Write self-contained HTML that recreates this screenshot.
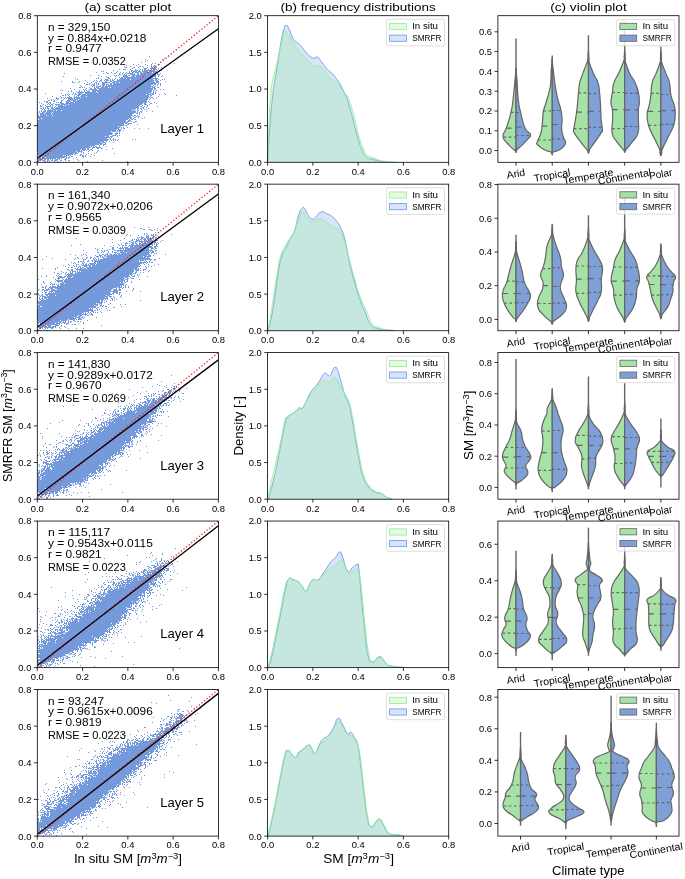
<!DOCTYPE html>
<html><head><meta charset="utf-8"><style>
html,body{margin:0;padding:0;background:#fff;}
svg{display:block;font-family:"Liberation Sans", sans-serif;will-change:transform;}
</style></head><body>
<svg width="685" height="879" viewBox="0 0 685 879">
<rect width="685" height="879" fill="#fff"/>
<clipPath id="clip00"><rect x="37.30" y="15.70" width="181.10" height="146.60"/></clipPath><g clip-path="url(#clip00)"><polygon points="35.0,123.5 35.0,150.9 38.1,150.8 51.8,149.2 62.6,147.1 73.4,143.8 84.7,139.2 85.4,139.0 90.6,137.3 97.3,133.5 105.9,126.9 113.9,120.1 121.7,113.4 128.1,106.9 133.7,100.3 139.2,93.7 142.8,88.3 145.0,81.3 145.0,81.0 139.4,82.4 128.3,85.8 117.1,90.3 105.4,95.0 104.4,95.3 97.4,97.3 86.7,101.6 75.4,107.3 75.3,107.4 51.9,119.0 51.2,119.3 42.5,122.8 41.6,123.1 40.7,123.3 39.8,123.5 38.8,123.5 35.0,123.5" fill="#759adc"/><path d="M149 56h1v1h-1zM164 58h1v1h-1zM145 59h1v1h-1zM162 59h1v1h-1zM147 60h1v1h-1zM145 61h1v1h-1zM141 62h1v1h-1zM152 63h1v1h-1zM155 63h1v1h-1zM174 63h1v1h-1zM133 64h1v1h-1zM138 64h1v1h-1zM145 64h1v1h-1zM151 64h1v1h-1zM159 64h1v1h-1zM126 65h1v1h-1zM136 65h1v1h-1zM147 65h1v1h-1zM151 65h1v1h-1zM154 65h1v1h-1zM158 65h1v1h-1zM124 66h1v1h-1zM130 66h1v1h-1zM139 66h2v1h-2zM142 66h1v1h-1zM151 66h1v1h-1zM153 66h2v1h-2zM164 66h1v1h-1zM125 67h2v1h-2zM133 67h2v1h-2zM138 67h1v1h-1zM143 67h1v1h-1zM147 67h1v1h-1zM151 67h2v1h-2zM154 67h3v1h-3zM161 67h1v1h-1zM132 68h1v1h-1zM144 68h3v1h-3zM150 68h6v1h-6zM158 68h1v1h-1zM119 69h1v1h-1zM123 69h3v1h-3zM130 69h1v1h-1zM135 69h1v1h-1zM140 69h1v1h-1zM142 69h1v1h-1zM144 69h2v1h-2zM148 69h1v1h-1zM151 69h1v1h-1zM153 69h4v1h-4zM113 70h1v1h-1zM131 70h2v1h-2zM135 70h3v1h-3zM139 70h1v1h-1zM142 70h1v1h-1zM144 70h11v1h-11zM157 70h1v1h-1zM160 70h2v1h-2zM101 71h1v1h-1zM103 71h1v1h-1zM117 71h1v1h-1zM129 71h1v1h-1zM131 71h1v1h-1zM133 71h4v1h-4zM138 71h3v1h-3zM142 71h6v1h-6zM149 71h8v1h-8zM158 71h2v1h-2zM96 72h1v1h-1zM106 72h1v1h-1zM111 72h1v1h-1zM116 72h1v1h-1zM120 72h1v1h-1zM123 72h1v1h-1zM126 72h1v1h-1zM129 72h1v1h-1zM132 72h2v1h-2zM135 72h4v1h-4zM140 72h2v1h-2zM143 72h9v1h-9zM153 72h5v1h-5zM64 73h1v1h-1zM103 73h1v1h-1zM107 73h2v1h-2zM114 73h2v1h-2zM119 73h1v1h-1zM122 73h1v1h-1zM125 73h1v1h-1zM127 73h6v1h-6zM134 73h1v1h-1zM137 73h2v1h-2zM140 73h16v1h-16zM157 73h1v1h-1zM160 73h1v1h-1zM119 74h2v1h-2zM122 74h1v1h-1zM124 74h1v1h-1zM126 74h1v1h-1zM130 74h5v1h-5zM137 74h2v1h-2zM140 74h6v1h-6zM147 74h9v1h-9zM157 74h3v1h-3zM90 75h1v1h-1zM98 75h1v1h-1zM114 75h1v1h-1zM116 75h1v1h-1zM118 75h1v1h-1zM123 75h4v1h-4zM128 75h2v1h-2zM132 75h24v1h-24zM158 75h1v1h-1zM162 75h1v1h-1zM63 76h1v1h-1zM101 76h1v1h-1zM106 76h1v1h-1zM110 76h1v1h-1zM115 76h1v1h-1zM123 76h5v1h-5zM131 76h4v1h-4zM136 76h20v1h-20zM158 76h1v1h-1zM161 76h1v1h-1zM98 77h1v1h-1zM107 77h2v1h-2zM119 77h1v1h-1zM121 77h2v1h-2zM124 77h29v1h-29zM155 77h1v1h-1zM75 78h1v1h-1zM96 78h1v1h-1zM98 78h1v1h-1zM108 78h2v1h-2zM115 78h1v1h-1zM120 78h6v1h-6zM127 78h31v1h-31zM77 79h1v1h-1zM101 79h1v1h-1zM105 79h3v1h-3zM110 79h1v1h-1zM112 79h1v1h-1zM114 79h1v1h-1zM117 79h1v1h-1zM119 79h11v1h-11zM131 79h22v1h-22zM155 79h2v1h-2zM158 79h1v1h-1zM162 79h1v1h-1zM164 79h1v1h-1zM85 80h1v1h-1zM94 80h1v1h-1zM96 80h1v1h-1zM100 80h2v1h-2zM104 80h1v1h-1zM106 80h3v1h-3zM110 80h1v1h-1zM112 80h2v1h-2zM117 80h37v1h-37zM155 80h3v1h-3zM160 80h1v1h-1zM61 81h1v1h-1zM72 81h1v1h-1zM79 81h1v1h-1zM93 81h1v1h-1zM97 81h1v1h-1zM99 81h1v1h-1zM101 81h1v1h-1zM105 81h2v1h-2zM110 81h2v1h-2zM113 81h41v1h-41zM156 81h3v1h-3zM165 81h1v1h-1zM72 82h2v1h-2zM75 82h1v1h-1zM78 82h1v1h-1zM87 82h1v1h-1zM91 82h1v1h-1zM95 82h2v1h-2zM102 82h8v1h-8zM112 82h3v1h-3zM116 82h3v1h-3zM120 82h35v1h-35zM156 82h3v1h-3zM84 83h1v1h-1zM89 83h1v1h-1zM94 83h1v1h-1zM96 83h1v1h-1zM98 83h1v1h-1zM102 83h3v1h-3zM106 83h1v1h-1zM110 83h2v1h-2zM113 83h27v1h-27zM143 83h13v1h-13zM158 83h1v1h-1zM160 83h1v1h-1zM86 84h2v1h-2zM89 84h1v1h-1zM92 84h3v1h-3zM96 84h1v1h-1zM98 84h1v1h-1zM102 84h3v1h-3zM106 84h3v1h-3zM110 84h2v1h-2zM113 84h24v1h-24zM143 84h10v1h-10zM154 84h2v1h-2zM157 84h1v1h-1zM160 84h1v1h-1zM80 85h1v1h-1zM91 85h1v1h-1zM93 85h2v1h-2zM97 85h1v1h-1zM100 85h1v1h-1zM102 85h3v1h-3zM106 85h1v1h-1zM108 85h26v1h-26zM142 85h9v1h-9zM153 85h1v1h-1zM157 85h1v1h-1zM160 85h1v1h-1zM81 86h1v1h-1zM92 86h1v1h-1zM94 86h1v1h-1zM96 86h1v1h-1zM98 86h3v1h-3zM102 86h2v1h-2zM105 86h25v1h-25zM142 86h11v1h-11zM154 86h2v1h-2zM79 87h2v1h-2zM82 87h1v1h-1zM84 87h1v1h-1zM89 87h1v1h-1zM94 87h1v1h-1zM96 87h3v1h-3zM101 87h7v1h-7zM109 87h1v1h-1zM111 87h16v1h-16zM142 87h9v1h-9zM152 87h3v1h-3zM157 87h2v1h-2zM70 88h1v1h-1zM86 88h1v1h-1zM90 88h2v1h-2zM94 88h2v1h-2zM97 88h28v1h-28zM141 88h12v1h-12zM154 88h2v1h-2zM74 89h1v1h-1zM83 89h1v1h-1zM85 89h1v1h-1zM88 89h1v1h-1zM90 89h7v1h-7zM99 89h23v1h-23zM141 89h12v1h-12zM154 89h2v1h-2zM160 89h1v1h-1zM163 89h1v1h-1zM60 90h1v1h-1zM62 90h1v1h-1zM71 90h1v1h-1zM79 90h1v1h-1zM84 90h1v1h-1zM86 90h1v1h-1zM89 90h1v1h-1zM92 90h28v1h-28zM140 90h12v1h-12zM153 90h1v1h-1zM156 90h1v1h-1zM68 91h1v1h-1zM71 91h1v1h-1zM76 91h1v1h-1zM79 91h1v1h-1zM81 91h1v1h-1zM84 91h1v1h-1zM87 91h3v1h-3zM92 91h4v1h-4zM97 91h20v1h-20zM139 91h13v1h-13zM153 91h1v1h-1zM155 91h1v1h-1zM73 92h1v1h-1zM77 92h7v1h-7zM85 92h12v1h-12zM98 92h17v1h-17zM139 92h12v1h-12zM153 92h1v1h-1zM155 92h1v1h-1zM45 93h1v1h-1zM61 93h1v1h-1zM68 93h1v1h-1zM73 93h1v1h-1zM75 93h1v1h-1zM78 93h4v1h-4zM85 93h27v1h-27zM138 93h11v1h-11zM150 93h4v1h-4zM155 93h1v1h-1zM164 93h1v1h-1zM65 94h1v1h-1zM67 94h1v1h-1zM69 94h1v1h-1zM72 94h1v1h-1zM75 94h2v1h-2zM78 94h3v1h-3zM82 94h4v1h-4zM87 94h23v1h-23zM137 94h9v1h-9zM147 94h4v1h-4zM152 94h2v1h-2zM159 94h1v1h-1zM165 94h1v1h-1zM62 95h2v1h-2zM65 95h1v1h-1zM68 95h1v1h-1zM74 95h1v1h-1zM77 95h3v1h-3zM81 95h26v1h-26zM136 95h13v1h-13zM150 95h2v1h-2zM176 95h1v1h-1zM52 96h1v1h-1zM60 96h1v1h-1zM69 96h1v1h-1zM74 96h1v1h-1zM76 96h1v1h-1zM78 96h1v1h-1zM80 96h6v1h-6zM87 96h18v1h-18zM135 96h14v1h-14zM150 96h1v1h-1zM158 96h1v1h-1zM56 97h1v1h-1zM61 97h1v1h-1zM63 97h1v1h-1zM65 97h1v1h-1zM67 97h5v1h-5zM74 97h6v1h-6zM81 97h20v1h-20zM134 97h16v1h-16zM151 97h2v1h-2zM47 98h1v1h-1zM56 98h3v1h-3zM61 98h1v1h-1zM64 98h1v1h-1zM66 98h1v1h-1zM68 98h7v1h-7zM76 98h22v1h-22zM134 98h14v1h-14zM150 98h1v1h-1zM153 98h1v1h-1zM156 98h1v1h-1zM51 99h1v1h-1zM53 99h1v1h-1zM57 99h1v1h-1zM63 99h1v1h-1zM68 99h5v1h-5zM74 99h4v1h-4zM79 99h16v1h-16zM133 99h15v1h-15zM149 99h1v1h-1zM48 100h2v1h-2zM51 100h1v1h-1zM54 100h1v1h-1zM61 100h2v1h-2zM67 100h3v1h-3zM71 100h5v1h-5zM77 100h16v1h-16zM132 100h15v1h-15zM44 101h1v1h-1zM46 101h2v1h-2zM53 101h2v1h-2zM61 101h1v1h-1zM66 101h5v1h-5zM73 101h17v1h-17zM131 101h16v1h-16zM148 101h1v1h-1zM39 102h1v1h-1zM46 102h2v1h-2zM49 102h2v1h-2zM56 102h1v1h-1zM58 102h1v1h-1zM60 102h2v1h-2zM66 102h3v1h-3zM70 102h4v1h-4zM75 102h13v1h-13zM130 102h17v1h-17zM149 102h1v1h-1zM154 102h1v1h-1zM41 103h1v1h-1zM48 103h1v1h-1zM50 103h1v1h-1zM53 103h1v1h-1zM60 103h4v1h-4zM65 103h21v1h-21zM129 103h14v1h-14zM144 103h2v1h-2zM150 103h2v1h-2zM156 103h1v1h-1zM43 104h1v1h-1zM47 104h1v1h-1zM49 104h1v1h-1zM51 104h2v1h-2zM55 104h5v1h-5zM61 104h7v1h-7zM69 104h15v1h-15zM129 104h13v1h-13zM144 104h3v1h-3zM149 104h1v1h-1zM40 105h1v1h-1zM42 105h1v1h-1zM45 105h1v1h-1zM50 105h1v1h-1zM52 105h1v1h-1zM56 105h1v1h-1zM58 105h5v1h-5zM64 105h1v1h-1zM66 105h16v1h-16zM128 105h12v1h-12zM142 105h1v1h-1zM147 105h1v1h-1zM40 106h2v1h-2zM46 106h5v1h-5zM52 106h1v1h-1zM55 106h1v1h-1zM58 106h22v1h-22zM127 106h12v1h-12zM140 106h2v1h-2zM144 106h1v1h-1zM147 106h1v1h-1zM157 106h1v1h-1zM43 107h1v1h-1zM45 107h1v1h-1zM47 107h1v1h-1zM51 107h2v1h-2zM54 107h1v1h-1zM56 107h22v1h-22zM126 107h13v1h-13zM142 107h2v1h-2zM146 107h1v1h-1zM40 108h2v1h-2zM43 108h1v1h-1zM45 108h1v1h-1zM47 108h2v1h-2zM51 108h3v1h-3zM55 108h21v1h-21zM125 108h11v1h-11zM137 108h2v1h-2zM140 108h2v1h-2zM143 108h1v1h-1zM148 108h1v1h-1zM42 109h1v1h-1zM44 109h1v1h-1zM48 109h1v1h-1zM50 109h1v1h-1zM52 109h22v1h-22zM124 109h10v1h-10zM135 109h1v1h-1zM137 109h1v1h-1zM141 109h1v1h-1zM144 109h1v1h-1zM146 109h1v1h-1zM41 110h1v1h-1zM44 110h2v1h-2zM47 110h6v1h-6zM54 110h2v1h-2zM57 110h4v1h-4zM62 110h10v1h-10zM123 110h9v1h-9zM133 110h2v1h-2zM137 110h2v1h-2zM142 110h1v1h-1zM39 111h1v1h-1zM41 111h1v1h-1zM43 111h3v1h-3zM47 111h23v1h-23zM122 111h14v1h-14zM137 111h1v1h-1zM140 111h2v1h-2zM146 111h1v1h-1zM152 111h1v1h-1zM39 112h1v1h-1zM42 112h3v1h-3zM46 112h6v1h-6zM53 112h15v1h-15zM121 112h15v1h-15zM137 112h1v1h-1zM139 112h1v1h-1zM141 112h1v1h-1zM38 113h1v1h-1zM40 113h4v1h-4zM45 113h6v1h-6zM52 113h14v1h-14zM120 113h14v1h-14zM136 113h2v1h-2zM139 113h1v1h-1zM40 114h24v1h-24zM119 114h13v1h-13zM139 114h1v1h-1zM38 115h1v1h-1zM40 115h6v1h-6zM47 115h5v1h-5zM53 115h9v1h-9zM117 115h16v1h-16zM134 115h2v1h-2zM137 115h1v1h-1zM38 116h22v1h-22zM116 116h15v1h-15zM133 116h1v1h-1zM136 116h1v1h-1zM138 116h2v1h-2zM38 117h20v1h-20zM115 117h17v1h-17zM134 117h2v1h-2zM138 117h1v1h-1zM144 117h1v1h-1zM38 118h3v1h-3zM42 118h14v1h-14zM114 118h15v1h-15zM130 118h2v1h-2zM133 118h1v1h-1zM142 118h1v1h-1zM39 119h15v1h-15zM113 119h15v1h-15zM129 119h1v1h-1zM131 119h2v1h-2zM134 119h2v1h-2zM38 120h13v1h-13zM112 120h14v1h-14zM128 120h3v1h-3zM38 121h11v1h-11zM110 121h16v1h-16zM127 121h3v1h-3zM131 121h1v1h-1zM135 121h2v1h-2zM38 122h8v1h-8zM109 122h19v1h-19zM133 122h2v1h-2zM38 123h6v1h-6zM108 123h16v1h-16zM125 123h2v1h-2zM128 123h4v1h-4zM38 124h3v1h-3zM107 124h17v1h-17zM127 124h2v1h-2zM137 124h1v1h-1zM106 125h18v1h-18zM125 125h2v1h-2zM104 126h14v1h-14zM119 126h2v1h-2zM103 127h17v1h-17zM121 127h1v1h-1zM123 127h1v1h-1zM127 127h1v1h-1zM102 128h17v1h-17zM121 128h1v1h-1zM123 128h2v1h-2zM134 128h1v1h-1zM139 128h1v1h-1zM148 128h1v1h-1zM101 129h16v1h-16zM118 129h3v1h-3zM99 130h17v1h-17zM117 130h4v1h-4zM123 130h1v1h-1zM98 131h13v1h-13zM112 131h4v1h-4zM117 131h1v1h-1zM119 131h1v1h-1zM97 132h15v1h-15zM116 132h1v1h-1zM119 132h1v1h-1zM95 133h18v1h-18zM115 133h3v1h-3zM119 133h1v1h-1zM93 134h19v1h-19zM115 134h2v1h-2zM91 135h18v1h-18zM112 135h4v1h-4zM117 135h1v1h-1zM119 135h1v1h-1zM89 136h16v1h-16zM106 136h3v1h-3zM110 136h3v1h-3zM117 136h1v1h-1zM86 137h24v1h-24zM111 137h1v1h-1zM83 138h24v1h-24zM110 138h1v1h-1zM113 138h1v1h-1zM81 139h28v1h-28zM110 139h1v1h-1zM113 139h1v1h-1zM115 139h1v1h-1zM118 139h1v1h-1zM132 139h1v1h-1zM135 139h1v1h-1zM78 140h30v1h-30zM111 140h1v1h-1zM113 140h1v1h-1zM115 140h1v1h-1zM117 140h1v1h-1zM76 141h28v1h-28zM106 141h1v1h-1zM109 141h1v1h-1zM73 142h28v1h-28zM102 142h4v1h-4zM113 142h1v1h-1zM70 143h33v1h-33zM105 143h1v1h-1zM67 144h32v1h-32zM100 144h2v1h-2zM103 144h3v1h-3zM64 145h31v1h-31zM99 145h1v1h-1zM103 145h1v1h-1zM59 146h31v1h-31zM91 146h1v1h-1zM93 146h1v1h-1zM95 146h2v1h-2zM99 146h1v1h-1zM106 146h1v1h-1zM54 147h37v1h-37zM92 147h3v1h-3zM96 147h5v1h-5zM48 148h38v1h-38zM87 148h2v1h-2zM92 148h1v1h-1zM97 148h2v1h-2zM101 148h2v1h-2zM112 148h1v1h-1zM39 149h42v1h-42zM82 149h4v1h-4zM87 149h2v1h-2zM90 149h2v1h-2zM106 149h1v1h-1zM38 150h42v1h-42zM81 150h4v1h-4zM86 150h1v1h-1zM89 150h1v1h-1zM92 150h1v1h-1zM98 150h1v1h-1zM38 151h38v1h-38zM77 151h5v1h-5zM88 151h1v1h-1zM97 151h1v1h-1zM38 152h39v1h-39zM78 152h1v1h-1zM81 152h1v1h-1zM83 152h1v1h-1zM96 152h1v1h-1zM38 153h36v1h-36zM75 153h3v1h-3zM83 153h1v1h-1zM88 153h1v1h-1zM94 153h1v1h-1zM114 153h1v1h-1zM38 154h35v1h-35zM74 154h2v1h-2zM80 154h2v1h-2zM86 154h1v1h-1zM91 154h1v1h-1zM38 155h25v1h-25zM64 155h1v1h-1zM66 155h3v1h-3zM70 155h1v1h-1zM80 155h1v1h-1zM82 155h2v1h-2zM85 155h1v1h-1zM94 155h1v1h-1zM39 156h28v1h-28zM69 156h1v1h-1zM71 156h2v1h-2zM82 156h2v1h-2zM85 156h1v1h-1zM90 156h1v1h-1zM38 157h3v1h-3zM42 157h3v1h-3zM46 157h19v1h-19zM66 157h1v1h-1zM68 157h2v1h-2zM76 157h1v1h-1zM83 157h1v1h-1zM38 158h18v1h-18zM57 158h3v1h-3zM61 158h1v1h-1zM65 158h2v1h-2zM68 158h1v1h-1zM73 158h1v1h-1zM38 159h5v1h-5zM44 159h2v1h-2zM47 159h2v1h-2zM50 159h1v1h-1zM52 159h1v1h-1zM55 159h3v1h-3zM59 159h1v1h-1zM64 159h2v1h-2zM77 159h1v1h-1zM38 160h3v1h-3zM42 160h3v1h-3zM47 160h2v1h-2zM51 160h2v1h-2zM54 160h3v1h-3zM60 160h2v1h-2zM65 160h1v1h-1zM68 160h2v1h-2zM78 160h1v1h-1zM102 160h1v1h-1zM38 161h1v1h-1zM44 161h2v1h-2zM47 161h1v1h-1zM49 161h1v1h-1zM54 161h1v1h-1zM57 161h1v1h-1zM87 161h1v1h-1zM127 161h1v1h-1zM38 162h1v1h-1zM41 162h1v1h-1zM44 162h1v1h-1zM47 162h1v1h-1zM49 162h1v1h-1zM56 162h3v1h-3zM60 162h1v1h-1zM62 162h1v1h-1z" fill="#759adc"/><line x1="37.30" y1="162.30" x2="218.40" y2="15.70" stroke="#f02020" stroke-width="1.3" stroke-dasharray="1.3 2.0" stroke-linecap="butt"/><line x1="37.30" y1="158.31" x2="218.40" y2="28.71" stroke="#000" stroke-width="1.3"/></g><text x="47.90" y="30.80" font-size="10.50" text-anchor="start" textLength="62.43" lengthAdjust="spacingAndGlyphs" fill="#000" >n = 329,150</text><text x="47.90" y="41.60" font-size="10.50" text-anchor="start" textLength="98.57" lengthAdjust="spacingAndGlyphs" fill="#000" >y = 0.884x+0.0218</text><text x="47.90" y="52.30" font-size="10.50" text-anchor="start" textLength="53.84" lengthAdjust="spacingAndGlyphs" fill="#000" >r = 0.9477</text><text x="47.90" y="65.40" font-size="10.50" text-anchor="start" textLength="77.97" lengthAdjust="spacingAndGlyphs" fill="#000" >RMSE = 0.0352</text><text x="160.25" y="132.70" font-size="12.25" text-anchor="start" textLength="43.67" lengthAdjust="spacingAndGlyphs" fill="#000" >Layer 1</text><rect x="37.30" y="15.70" width="181.10" height="146.60" fill="none" stroke="#000" stroke-width="0.8"/><clipPath id="clip10"><rect x="267.60" y="15.70" width="181.10" height="146.60"/></clipPath><g clip-path="url(#clip10)"><path d="M267.60,162.30 C268.11,154.02 268.04,152.22 269.30,134.70 C270.56,117.18 270.27,119.29 271.80,103.90 C273.33,88.51 272.84,94.17 274.40,83.40 C275.96,72.63 275.20,79.28 277.00,68.00 C278.80,56.72 278.36,57.35 280.40,45.80 C282.44,34.25 282.00,35.56 283.80,29.50 C285.60,23.44 284.87,25.84 286.40,25.60 C287.93,25.36 287.10,25.22 288.90,28.70 C290.70,32.18 290.33,33.36 292.40,37.20 C294.47,41.04 293.25,38.92 295.80,41.50 C298.35,44.08 297.99,42.71 300.90,45.80 C303.81,48.89 302.02,48.17 305.50,51.80 C308.98,55.43 309.08,56.34 312.50,57.90 C315.92,59.46 314.26,55.95 316.90,57.00 C319.54,58.05 318.15,57.71 321.30,61.40 C324.45,65.09 323.20,64.56 327.40,69.30 C331.60,74.04 330.29,70.36 335.30,77.20 C340.31,84.04 339.90,83.43 344.10,92.10 C348.30,100.77 345.34,92.93 349.30,106.10 C353.26,119.27 353.58,123.07 357.30,136.00 C361.02,148.93 359.09,143.05 361.70,149.20 C364.31,155.35 362.94,153.53 366.00,156.50 C369.06,159.47 367.94,157.78 371.90,159.10 C375.86,160.42 375.69,160.15 379.20,160.90 C382.71,161.65 380.36,161.21 383.60,161.60 C386.84,161.99 386.28,161.99 390.00,162.20 C393.72,162.41 394.20,162.27 396.00,162.30 L396.00,162.30 L267.60,162.30 Z" fill="#6495ed" fill-opacity="0.25" stroke="none"/><path d="M267.60,162.30 C268.11,154.02 268.04,152.22 269.30,134.70 C270.56,117.18 270.27,119.29 271.80,103.90 C273.33,88.51 272.84,94.17 274.40,83.40 C275.96,72.63 275.20,79.28 277.00,68.00 C278.80,56.72 278.36,57.35 280.40,45.80 C282.44,34.25 282.00,35.56 283.80,29.50 C285.60,23.44 284.87,25.84 286.40,25.60 C287.93,25.36 287.10,25.22 288.90,28.70 C290.70,32.18 290.33,33.36 292.40,37.20 C294.47,41.04 293.25,38.92 295.80,41.50 C298.35,44.08 297.99,42.71 300.90,45.80 C303.81,48.89 302.02,48.17 305.50,51.80 C308.98,55.43 309.08,56.34 312.50,57.90 C315.92,59.46 314.26,55.95 316.90,57.00 C319.54,58.05 318.15,57.71 321.30,61.40 C324.45,65.09 323.20,64.56 327.40,69.30 C331.60,74.04 330.29,70.36 335.30,77.20 C340.31,84.04 339.90,83.43 344.10,92.10 C348.30,100.77 345.34,92.93 349.30,106.10 C353.26,119.27 353.58,123.07 357.30,136.00 C361.02,148.93 359.09,143.05 361.70,149.20 C364.31,155.35 362.94,153.53 366.00,156.50 C369.06,159.47 367.94,157.78 371.90,159.10 C375.86,160.42 375.69,160.15 379.20,160.90 C382.71,161.65 380.36,161.21 383.60,161.60 C386.84,161.99 386.28,161.99 390.00,162.20 C393.72,162.41 394.20,162.27 396.00,162.30" fill="none" stroke="#6495ed" stroke-width="0.85"/><path d="M267.60,162.30 C267.75,159.15 267.59,165.21 268.10,151.80 C268.61,138.39 268.43,135.57 269.30,117.60 C270.17,99.63 269.98,103.18 271.00,91.90 C272.02,80.62 271.41,86.66 272.70,80.00 C273.99,73.34 273.50,76.90 275.30,69.70 C277.10,62.50 276.66,64.73 278.70,56.00 C280.74,47.27 280.48,47.86 282.10,40.60 C283.72,33.34 282.06,33.33 284.10,31.80 C286.14,30.27 285.90,31.81 288.90,35.50 C291.90,39.19 291.01,39.21 294.10,44.10 C297.19,48.99 295.78,47.66 299.20,51.80 C302.62,55.94 301.24,53.70 305.50,57.90 C309.76,62.10 309.71,63.43 313.40,65.80 C317.09,68.17 314.89,64.75 317.80,65.80 C320.71,66.85 319.95,66.15 323.10,69.30 C326.25,72.45 325.15,72.61 328.30,76.30 C331.45,79.99 330.96,79.50 333.60,81.60 C336.24,83.70 333.95,80.15 337.10,83.30 C340.25,86.45 340.44,86.85 344.10,92.10 C347.76,97.35 346.15,92.91 349.30,100.80 C352.45,108.69 351.75,107.84 354.60,118.40 C357.45,128.96 356.25,127.21 358.80,136.00 C361.35,144.79 360.49,142.00 363.10,147.70 C365.71,153.40 364.41,152.00 367.50,155.00 C370.59,158.00 369.89,156.17 373.40,157.70 C376.91,159.23 375.27,158.93 379.20,160.10 C383.13,161.27 382.66,160.97 386.50,161.60 C390.34,162.23 388.55,161.99 392.00,162.20 C395.45,162.41 396.20,162.27 398.00,162.30 L398.00,162.30 L267.60,162.30 Z" fill="#90ee90" fill-opacity="0.25" stroke="none"/><path d="M267.60,162.30 C267.75,159.15 267.59,165.21 268.10,151.80 C268.61,138.39 268.43,135.57 269.30,117.60 C270.17,99.63 269.98,103.18 271.00,91.90 C272.02,80.62 271.41,86.66 272.70,80.00 C273.99,73.34 273.50,76.90 275.30,69.70 C277.10,62.50 276.66,64.73 278.70,56.00 C280.74,47.27 280.48,47.86 282.10,40.60 C283.72,33.34 282.06,33.33 284.10,31.80 C286.14,30.27 285.90,31.81 288.90,35.50 C291.90,39.19 291.01,39.21 294.10,44.10 C297.19,48.99 295.78,47.66 299.20,51.80 C302.62,55.94 301.24,53.70 305.50,57.90 C309.76,62.10 309.71,63.43 313.40,65.80 C317.09,68.17 314.89,64.75 317.80,65.80 C320.71,66.85 319.95,66.15 323.10,69.30 C326.25,72.45 325.15,72.61 328.30,76.30 C331.45,79.99 330.96,79.50 333.60,81.60 C336.24,83.70 333.95,80.15 337.10,83.30 C340.25,86.45 340.44,86.85 344.10,92.10 C347.76,97.35 346.15,92.91 349.30,100.80 C352.45,108.69 351.75,107.84 354.60,118.40 C357.45,128.96 356.25,127.21 358.80,136.00 C361.35,144.79 360.49,142.00 363.10,147.70 C365.71,153.40 364.41,152.00 367.50,155.00 C370.59,158.00 369.89,156.17 373.40,157.70 C376.91,159.23 375.27,158.93 379.20,160.10 C383.13,161.27 382.66,160.97 386.50,161.60 C390.34,162.23 388.55,161.99 392.00,162.20 C395.45,162.41 396.20,162.27 398.00,162.30" fill="none" stroke="#90ee90" stroke-width="0.85"/></g><rect x="386.60" y="19.30" width="57.9" height="26.6" rx="1.8" fill="#fff" fill-opacity="0.8" stroke="#d6d6d6" stroke-width="0.8"/><rect x="389.6" y="23.50" width="16.8" height="6.2" fill="#90ee90" fill-opacity="0.25" stroke="#90ee90" stroke-width="0.8"/><rect x="389.6" y="35.10" width="16.8" height="6.2" fill="#6495ed" fill-opacity="0.25" stroke="#6495ed" stroke-width="0.8"/><text x="412.20" y="29.30" font-size="8.82" text-anchor="start" textLength="25.80" lengthAdjust="spacingAndGlyphs" fill="#000" >In situ</text><text x="412.30" y="41.20" font-size="8.82" text-anchor="start" textLength="29.08" lengthAdjust="spacingAndGlyphs" fill="#000" >SMRFR</text><rect x="267.60" y="15.70" width="181.10" height="146.60" fill="none" stroke="#000" stroke-width="0.8"/><clipPath id="clip20"><rect x="497.90" y="15.70" width="181.10" height="146.60"/></clipPath><g clip-path="url(#clip20)"><line x1="516.01" y1="38.60" x2="516.01" y2="152.30" stroke="#656565" stroke-width="1.4"/><path d="M516.01,68.40 C515.89,70.27 515.83,72.33 515.56,75.40 C515.29,78.47 515.66,73.55 515.01,79.90 C514.36,86.25 514.20,90.45 513.11,99.20 C512.02,107.95 512.70,105.05 510.91,112.70 C509.12,120.35 508.52,121.61 506.41,127.90 C504.30,134.19 502.82,132.27 503.01,136.30 C503.20,140.33 504.18,139.40 507.11,143.00 C510.04,146.60 511.88,147.99 514.01,149.80 C516.14,151.61 514.58,149.13 515.11,149.80 C515.64,150.47 515.77,151.63 516.01,152.30 L516.01,152.30 L516.01,68.40 Z" fill="#a6e1a6" stroke="#656565" stroke-width="1.2" stroke-linejoin="round"/><path d="M516.01,68.40 C516.13,70.27 516.19,72.33 516.46,75.40 C516.73,78.47 516.54,73.55 517.01,79.90 C517.48,86.25 517.22,90.45 518.21,99.20 C519.20,107.95 518.92,105.05 520.71,112.70 C522.50,120.35 522.30,122.09 524.91,127.90 C527.52,133.71 529.82,131.43 530.51,134.50 C531.20,137.57 530.12,136.23 527.51,139.40 C524.90,142.57 523.54,143.63 520.71,146.40 C517.88,149.17 518.16,148.23 516.91,149.80 C515.66,151.37 516.25,151.63 516.01,152.30 L516.01,152.30 L516.01,68.40 Z" fill="#7f9fd7" stroke="#656565" stroke-width="1.2" stroke-linejoin="round"/><line x1="510.96" y1="112.40" x2="516.01" y2="112.40" stroke="#656565" stroke-width="1.2" stroke-dasharray="2.6 2.6"/><line x1="506.29" y1="128.20" x2="516.01" y2="128.20" stroke="#656565" stroke-width="1.2" stroke-dasharray="5.3 5.3"/><line x1="503.56" y1="137.20" x2="516.01" y2="137.20" stroke="#656565" stroke-width="1.2" stroke-dasharray="2.6 2.6"/><line x1="516.01" y1="112.70" x2="520.71" y2="112.70" stroke="#656565" stroke-width="1.2" stroke-dasharray="2.6 2.6"/><line x1="516.01" y1="127.00" x2="524.66" y2="127.00" stroke="#656565" stroke-width="1.2" stroke-dasharray="5.3 5.3"/><line x1="516.01" y1="135.50" x2="529.90" y2="135.50" stroke="#656565" stroke-width="1.2" stroke-dasharray="2.6 2.6"/><line x1="552.23" y1="55.40" x2="552.23" y2="154.80" stroke="#656565" stroke-width="1.4"/><path d="M552.23,58.30 C552.11,60.17 552.05,62.23 551.78,65.30 C551.51,68.37 551.51,65.24 551.23,69.80 C550.95,74.36 551.24,76.80 550.73,82.40 C550.22,88.00 550.58,85.41 549.33,90.80 C548.08,96.19 547.60,97.21 546.03,102.60 C544.46,107.99 544.26,107.40 543.43,111.00 C542.60,114.60 543.25,112.50 542.93,116.10 C542.61,119.70 542.76,119.99 542.23,124.50 C541.70,129.01 542.18,128.49 540.93,133.00 C539.68,137.51 538.44,138.28 537.53,141.40 C536.62,144.52 535.72,142.46 537.53,144.70 C539.34,146.94 540.65,147.77 544.33,149.80 C548.01,151.83 549.22,150.97 551.33,152.30 C553.44,153.63 551.99,154.13 552.23,154.80 L552.23,154.80 L552.23,58.30 Z" fill="#a6e1a6" stroke="#656565" stroke-width="1.2" stroke-linejoin="round"/><path d="M552.23,58.30 C552.35,60.17 552.41,62.23 552.68,65.30 C552.95,68.37 552.55,64.33 553.23,69.80 C553.91,75.27 554.00,77.96 555.23,85.80 C556.46,93.64 556.34,92.91 557.83,99.20 C559.32,105.49 559.71,103.99 560.83,109.40 C561.95,114.81 561.82,114.11 562.03,119.50 C562.24,124.89 561.18,124.67 561.63,129.60 C562.08,134.53 562.72,134.19 563.73,138.00 C564.74,141.81 566.58,140.75 565.43,143.90 C564.28,147.05 562.71,147.56 559.43,149.80 C556.15,152.04 555.05,150.97 553.13,152.30 C551.21,153.63 552.47,154.13 552.23,154.80 L552.23,154.80 L552.23,58.30 Z" fill="#7f9fd7" stroke="#656565" stroke-width="1.2" stroke-linejoin="round"/><line x1="543.43" y1="111.00" x2="552.23" y2="111.00" stroke="#656565" stroke-width="1.2" stroke-dasharray="2.6 2.6"/><line x1="541.97" y1="126.20" x2="552.23" y2="126.20" stroke="#656565" stroke-width="1.2" stroke-dasharray="5.3 5.3"/><line x1="538.10" y1="140.00" x2="552.23" y2="140.00" stroke="#656565" stroke-width="1.2" stroke-dasharray="2.6 2.6"/><line x1="552.23" y1="110.50" x2="560.96" y2="110.50" stroke="#656565" stroke-width="1.2" stroke-dasharray="2.6 2.6"/><line x1="552.23" y1="124.50" x2="561.83" y2="124.50" stroke="#656565" stroke-width="1.2" stroke-dasharray="5.3 5.3"/><line x1="552.23" y1="138.80" x2="563.96" y2="138.80" stroke="#656565" stroke-width="1.2" stroke-dasharray="2.6 2.6"/><line x1="588.45" y1="35.20" x2="588.45" y2="153.10" stroke="#656565" stroke-width="1.4"/><path d="M588.45,49.80 C588.33,51.67 588.27,53.73 588.00,56.80 C587.73,59.87 588.88,56.74 587.45,61.30 C586.02,65.86 584.68,68.27 582.65,73.90 C580.62,79.53 580.97,77.44 579.85,82.40 C578.73,87.36 579.17,85.78 578.45,92.50 C577.73,99.22 577.95,100.43 577.15,107.60 C576.35,114.77 576.36,113.56 575.45,119.40 C574.54,125.24 574.07,125.90 573.75,129.50 C573.43,133.10 572.54,129.75 574.25,132.90 C575.96,136.05 576.79,136.82 580.15,141.30 C583.51,145.78 584.88,147.22 586.85,149.70 C588.82,152.18 587.12,149.69 587.55,150.60 C587.98,151.51 588.21,152.43 588.45,153.10 L588.45,153.10 L588.45,49.80 Z" fill="#a6e1a6" stroke="#656565" stroke-width="1.2" stroke-linejoin="round"/><path d="M588.45,51.50 C588.57,53.37 588.63,55.43 588.90,58.50 C589.17,61.57 588.18,58.89 589.45,63.00 C590.72,67.11 591.41,68.73 593.65,73.90 C595.89,79.07 596.28,77.44 597.85,82.40 C599.42,87.36 598.80,85.78 599.55,92.50 C600.30,99.22 600.22,100.43 600.65,107.60 C601.08,114.77 600.70,113.56 601.15,119.40 C601.60,125.24 602.35,125.90 602.35,129.50 C602.35,133.10 603.02,129.75 601.15,132.90 C599.28,136.05 598.47,136.82 595.35,141.30 C592.23,145.78 591.05,147.22 589.45,149.70 C587.85,152.18 589.62,149.69 589.35,150.60 C589.08,151.51 588.69,152.43 588.45,153.10 L588.45,153.10 L588.45,51.50 Z" fill="#7f9fd7" stroke="#656565" stroke-width="1.2" stroke-linejoin="round"/><line x1="578.42" y1="92.80" x2="588.45" y2="92.80" stroke="#656565" stroke-width="1.2" stroke-dasharray="2.6 2.6"/><line x1="576.49" y1="112.20" x2="588.45" y2="112.20" stroke="#656565" stroke-width="1.2" stroke-dasharray="5.3 5.3"/><line x1="573.88" y1="128.70" x2="588.45" y2="128.70" stroke="#656565" stroke-width="1.2" stroke-dasharray="2.6 2.6"/><line x1="588.45" y1="93.60" x2="599.63" y2="93.60" stroke="#656565" stroke-width="1.2" stroke-dasharray="2.6 2.6"/><line x1="588.45" y1="111.30" x2="600.81" y2="111.30" stroke="#656565" stroke-width="1.2" stroke-dasharray="5.3 5.3"/><line x1="588.45" y1="127.30" x2="602.09" y2="127.30" stroke="#656565" stroke-width="1.2" stroke-dasharray="2.6 2.6"/><line x1="624.67" y1="22.00" x2="624.67" y2="152.20" stroke="#656565" stroke-width="1.4"/><path d="M624.67,49.80 C624.55,51.67 624.49,53.73 624.22,56.80 C623.95,59.87 625.02,57.19 623.67,61.30 C622.32,65.41 621.73,66.57 619.17,72.20 C616.61,77.83 615.88,76.99 614.07,82.40 C612.26,87.81 613.20,87.11 612.37,92.50 C611.54,97.89 610.97,98.12 610.97,102.60 C610.97,107.08 611.92,104.82 612.37,109.30 C612.82,113.78 612.75,113.11 612.67,119.40 C612.59,125.69 611.03,127.06 612.07,132.90 C613.11,138.74 613.56,136.82 616.57,141.30 C619.58,145.78 621.45,147.46 623.37,149.70 C625.29,151.94 623.42,149.03 623.77,149.70 C624.12,150.37 624.43,151.53 624.67,152.20 L624.67,152.20 L624.67,49.80 Z" fill="#a6e1a6" stroke="#656565" stroke-width="1.2" stroke-linejoin="round"/><path d="M624.67,51.50 C624.79,53.37 624.85,55.43 625.12,58.50 C625.39,61.57 624.38,58.89 625.67,63.00 C626.96,67.11 627.49,68.73 629.97,73.90 C632.45,79.07 632.73,77.44 634.97,82.40 C637.21,87.36 637.22,87.11 638.37,92.50 C639.52,97.89 639.27,98.12 639.27,102.60 C639.27,107.08 638.61,104.82 638.37,109.30 C638.13,113.78 638.45,113.11 638.37,119.40 C638.29,125.69 639.59,127.06 638.07,132.90 C636.55,138.74 635.90,136.82 632.67,141.30 C629.44,145.78 627.86,147.46 625.97,149.70 C624.08,151.94 625.92,149.03 625.57,149.70 C625.22,150.37 624.91,151.53 624.67,152.20 L624.67,152.20 L624.67,51.50 Z" fill="#7f9fd7" stroke="#656565" stroke-width="1.2" stroke-linejoin="round"/><line x1="612.37" y1="92.50" x2="624.67" y2="92.50" stroke="#656565" stroke-width="1.2" stroke-dasharray="2.6 2.6"/><line x1="612.38" y1="109.60" x2="624.67" y2="109.60" stroke="#656565" stroke-width="1.2" stroke-dasharray="5.3 5.3"/><line x1="612.26" y1="128.70" x2="624.67" y2="128.70" stroke="#656565" stroke-width="1.2" stroke-dasharray="2.6 2.6"/><line x1="624.67" y1="93.30" x2="638.44" y2="93.30" stroke="#656565" stroke-width="1.2" stroke-dasharray="2.6 2.6"/><line x1="624.67" y1="109.80" x2="638.37" y2="109.80" stroke="#656565" stroke-width="1.2" stroke-dasharray="5.3 5.3"/><line x1="624.67" y1="126.50" x2="638.21" y2="126.50" stroke="#656565" stroke-width="1.2" stroke-dasharray="2.6 2.6"/><line x1="660.89" y1="46.50" x2="660.89" y2="155.60" stroke="#656565" stroke-width="1.4"/><path d="M660.89,51.50 C660.77,53.37 660.71,55.43 660.44,58.50 C660.17,61.57 661.10,58.89 659.89,63.00 C658.68,67.11 657.94,68.73 655.89,73.90 C653.84,79.07 653.55,76.56 652.19,82.40 C650.83,88.24 651.62,89.53 650.79,95.80 C649.96,102.07 650.08,100.97 649.09,105.90 C648.10,110.83 647.30,109.37 647.09,114.30 C646.88,119.23 647.06,119.44 648.29,124.40 C649.52,129.36 649.66,128.39 651.69,132.90 C653.72,137.41 653.76,136.82 655.89,141.30 C658.02,145.78 658.60,146.55 659.69,149.70 C660.78,152.85 659.67,151.53 659.99,153.10 C660.31,154.67 660.65,154.93 660.89,155.60 L660.89,155.60 L660.89,51.50 Z" fill="#a6e1a6" stroke="#656565" stroke-width="1.2" stroke-linejoin="round"/><path d="M660.89,51.50 C661.01,53.37 661.07,55.43 661.34,58.50 C661.61,61.57 660.62,58.89 661.89,63.00 C663.16,67.11 664.09,68.73 666.09,73.90 C668.09,79.07 668.06,76.56 669.39,82.40 C670.72,88.24 669.76,89.53 671.09,95.80 C672.42,102.07 673.30,100.97 674.39,105.90 C675.48,110.83 675.30,109.37 675.19,114.30 C675.08,119.23 675.32,119.44 673.99,124.40 C672.66,129.36 672.32,128.39 670.19,132.90 C668.06,137.41 668.12,136.82 665.99,141.30 C663.86,145.78 663.31,146.55 662.19,149.70 C661.07,152.85 662.14,151.53 661.79,153.10 C661.44,154.67 661.13,154.93 660.89,155.60 L660.89,155.60 L660.89,51.50 Z" fill="#7f9fd7" stroke="#656565" stroke-width="1.2" stroke-linejoin="round"/><line x1="651.05" y1="93.30" x2="660.89" y2="93.30" stroke="#656565" stroke-width="1.2" stroke-dasharray="2.6 2.6"/><line x1="647.80" y1="111.30" x2="660.89" y2="111.30" stroke="#656565" stroke-width="1.2" stroke-dasharray="5.3 5.3"/><line x1="648.65" y1="125.30" x2="660.89" y2="125.30" stroke="#656565" stroke-width="1.2" stroke-dasharray="2.6 2.6"/><line x1="660.89" y1="94.50" x2="670.93" y2="94.50" stroke="#656565" stroke-width="1.2" stroke-dasharray="2.6 2.6"/><line x1="660.89" y1="110.60" x2="674.84" y2="110.60" stroke="#656565" stroke-width="1.2" stroke-dasharray="5.3 5.3"/><line x1="660.89" y1="124.40" x2="673.99" y2="124.40" stroke="#656565" stroke-width="1.2" stroke-dasharray="2.6 2.6"/></g><rect x="616.60" y="19.60" width="58" height="26.1" rx="1.8" fill="#fff" fill-opacity="0.8" stroke="#d6d6d6" stroke-width="0.8"/><rect x="619.9" y="23.30" width="16.8" height="6.2" fill="#a6e1a6" stroke="#656565" stroke-width="0.8"/><rect x="619.9" y="35.10" width="16.8" height="6.2" fill="#7f9fd7" stroke="#656565" stroke-width="0.8"/><text x="642.40" y="29.30" font-size="8.82" text-anchor="start" textLength="25.80" lengthAdjust="spacingAndGlyphs" fill="#000" >In situ</text><text x="642.50" y="41.20" font-size="8.82" text-anchor="start" textLength="29.08" lengthAdjust="spacingAndGlyphs" fill="#000" >SMRFR</text><line x1="494.50" y1="150.60" x2="497.90" y2="150.60" stroke="#000" stroke-width="0.8"/><text x="492.00" y="154.00" font-size="9.4" text-anchor="end" fill="#000" >0.0</text><line x1="494.50" y1="130.80" x2="497.90" y2="130.80" stroke="#000" stroke-width="0.8"/><text x="492.00" y="134.20" font-size="9.4" text-anchor="end" fill="#000" >0.1</text><line x1="494.50" y1="111.00" x2="497.90" y2="111.00" stroke="#000" stroke-width="0.8"/><text x="492.00" y="114.40" font-size="9.4" text-anchor="end" fill="#000" >0.2</text><line x1="494.50" y1="91.20" x2="497.90" y2="91.20" stroke="#000" stroke-width="0.8"/><text x="492.00" y="94.60" font-size="9.4" text-anchor="end" fill="#000" >0.3</text><line x1="494.50" y1="71.40" x2="497.90" y2="71.40" stroke="#000" stroke-width="0.8"/><text x="492.00" y="74.80" font-size="9.4" text-anchor="end" fill="#000" >0.4</text><line x1="494.50" y1="51.60" x2="497.90" y2="51.60" stroke="#000" stroke-width="0.8"/><text x="492.00" y="55.00" font-size="9.4" text-anchor="end" fill="#000" >0.5</text><line x1="494.50" y1="31.80" x2="497.90" y2="31.80" stroke="#000" stroke-width="0.8"/><text x="492.00" y="35.20" font-size="9.4" text-anchor="end" fill="#000" >0.6</text><line x1="516.01" y1="162.30" x2="516.01" y2="165.70" stroke="#000" stroke-width="0.8"/><g transform="translate(507.24,178.70) rotate(-10)"><text x="0.00" y="0.00" font-size="10.14" text-anchor="start" textLength="18.67" lengthAdjust="spacingAndGlyphs" fill="#000" >Arid</text></g><line x1="552.23" y1="162.30" x2="552.23" y2="165.70" stroke="#000" stroke-width="0.8"/><g transform="translate(534.39,181.90) rotate(-10)"><text x="0.00" y="0.00" font-size="10.14" text-anchor="start" textLength="37.08" lengthAdjust="spacingAndGlyphs" fill="#000" >Tropical</text></g><line x1="588.45" y1="162.30" x2="588.45" y2="165.70" stroke="#000" stroke-width="0.8"/><g transform="translate(563.77,184.31) rotate(-10)"><text x="0.00" y="0.00" font-size="10.14" text-anchor="start" textLength="50.98" lengthAdjust="spacingAndGlyphs" fill="#000" >Temperate</text></g><line x1="624.67" y1="162.30" x2="624.67" y2="165.70" stroke="#000" stroke-width="0.8"/><g transform="translate(598.62,184.79) rotate(-10)"><text x="0.00" y="0.00" font-size="10.14" text-anchor="start" textLength="53.75" lengthAdjust="spacingAndGlyphs" fill="#000" >Continental</text></g><line x1="660.89" y1="162.30" x2="660.89" y2="165.70" stroke="#000" stroke-width="0.8"/><g transform="translate(649.79,179.52) rotate(-10)"><text x="0.00" y="0.00" font-size="10.14" text-anchor="start" textLength="23.40" lengthAdjust="spacingAndGlyphs" fill="#000" >Polar</text></g><rect x="497.90" y="15.70" width="181.10" height="146.60" fill="none" stroke="#000" stroke-width="0.8"/><line x1="37.30" y1="162.30" x2="37.30" y2="165.70" stroke="#000" stroke-width="0.8"/><text x="37.30" y="174.60" font-size="9.4" text-anchor="middle" fill="#000" >0.0</text><line x1="82.57" y1="162.30" x2="82.57" y2="165.70" stroke="#000" stroke-width="0.8"/><text x="82.57" y="174.60" font-size="9.4" text-anchor="middle" fill="#000" >0.2</text><line x1="127.85" y1="162.30" x2="127.85" y2="165.70" stroke="#000" stroke-width="0.8"/><text x="127.85" y="174.60" font-size="9.4" text-anchor="middle" fill="#000" >0.4</text><line x1="173.12" y1="162.30" x2="173.12" y2="165.70" stroke="#000" stroke-width="0.8"/><text x="173.12" y="174.60" font-size="9.4" text-anchor="middle" fill="#000" >0.6</text><line x1="218.40" y1="162.30" x2="218.40" y2="165.70" stroke="#000" stroke-width="0.8"/><text x="218.40" y="174.60" font-size="9.4" text-anchor="middle" fill="#000" >0.8</text><line x1="33.90" y1="162.30" x2="37.30" y2="162.30" stroke="#000" stroke-width="0.8"/><text x="31.40" y="165.70" font-size="9.4" text-anchor="end" fill="#000" >0.0</text><line x1="33.90" y1="125.65" x2="37.30" y2="125.65" stroke="#000" stroke-width="0.8"/><text x="31.40" y="129.05" font-size="9.4" text-anchor="end" fill="#000" >0.2</text><line x1="33.90" y1="89.00" x2="37.30" y2="89.00" stroke="#000" stroke-width="0.8"/><text x="31.40" y="92.40" font-size="9.4" text-anchor="end" fill="#000" >0.4</text><line x1="33.90" y1="52.35" x2="37.30" y2="52.35" stroke="#000" stroke-width="0.8"/><text x="31.40" y="55.75" font-size="9.4" text-anchor="end" fill="#000" >0.6</text><line x1="33.90" y1="15.70" x2="37.30" y2="15.70" stroke="#000" stroke-width="0.8"/><text x="31.40" y="19.10" font-size="9.4" text-anchor="end" fill="#000" >0.8</text><line x1="267.60" y1="162.30" x2="267.60" y2="165.70" stroke="#000" stroke-width="0.8"/><text x="267.60" y="174.60" font-size="9.4" text-anchor="middle" fill="#000" >0.0</text><line x1="312.88" y1="162.30" x2="312.88" y2="165.70" stroke="#000" stroke-width="0.8"/><text x="312.88" y="174.60" font-size="9.4" text-anchor="middle" fill="#000" >0.2</text><line x1="358.15" y1="162.30" x2="358.15" y2="165.70" stroke="#000" stroke-width="0.8"/><text x="358.15" y="174.60" font-size="9.4" text-anchor="middle" fill="#000" >0.4</text><line x1="403.43" y1="162.30" x2="403.43" y2="165.70" stroke="#000" stroke-width="0.8"/><text x="403.43" y="174.60" font-size="9.4" text-anchor="middle" fill="#000" >0.6</text><line x1="448.70" y1="162.30" x2="448.70" y2="165.70" stroke="#000" stroke-width="0.8"/><text x="448.70" y="174.60" font-size="9.4" text-anchor="middle" fill="#000" >0.8</text><line x1="264.20" y1="162.30" x2="267.60" y2="162.30" stroke="#000" stroke-width="0.8"/><text x="261.70" y="165.70" font-size="9.4" text-anchor="end" fill="#000" >0.0</text><line x1="264.20" y1="125.65" x2="267.60" y2="125.65" stroke="#000" stroke-width="0.8"/><text x="261.70" y="129.05" font-size="9.4" text-anchor="end" fill="#000" >0.5</text><line x1="264.20" y1="89.00" x2="267.60" y2="89.00" stroke="#000" stroke-width="0.8"/><text x="261.70" y="92.40" font-size="9.4" text-anchor="end" fill="#000" >1.0</text><line x1="264.20" y1="52.35" x2="267.60" y2="52.35" stroke="#000" stroke-width="0.8"/><text x="261.70" y="55.75" font-size="9.4" text-anchor="end" fill="#000" >1.5</text><line x1="264.20" y1="15.70" x2="267.60" y2="15.70" stroke="#000" stroke-width="0.8"/><text x="261.70" y="19.10" font-size="9.4" text-anchor="end" fill="#000" >2.0</text><clipPath id="clip01"><rect x="37.30" y="184.15" width="181.10" height="146.60"/></clipPath><g clip-path="url(#clip01)"><polygon points="35.0,309.9 35.0,318.6 37.7,318.5 45.1,317.1 56.3,313.6 56.3,313.6 67.6,310.2 78.5,306.0 88.4,300.9 94.8,294.8 95.7,294.1 104.4,287.5 112.1,279.8 120.3,271.6 127.1,264.9 133.8,257.0 134.3,256.4 136.0,254.8 128.7,257.7 128.7,257.7 117.1,262.3 105.8,266.8 98.6,270.4 87.4,276.0 76.6,282.4 65.7,291.1 54.2,301.4 53.1,302.3 44.4,308.2 43.6,308.7 42.7,309.1 41.7,309.5 40.8,309.7 39.8,309.9 38.8,309.9 35.0,309.9" fill="#759adc"/><path d="M93 217h1v1h-1zM134 227h1v1h-1zM148 227h1v1h-1zM140 228h2v1h-2zM157 228h1v1h-1zM143 229h2v1h-2zM149 229h2v1h-2zM154 229h1v1h-1zM151 230h2v1h-2zM157 230h1v1h-1zM155 232h1v1h-1zM144 233h1v1h-1zM146 233h1v1h-1zM127 234h1v1h-1zM144 234h1v1h-1zM147 234h1v1h-1zM151 234h1v1h-1zM153 234h1v1h-1zM171 234h1v1h-1zM126 235h1v1h-1zM130 235h1v1h-1zM138 235h1v1h-1zM146 235h1v1h-1zM148 235h1v1h-1zM151 235h3v1h-3zM157 235h1v1h-1zM141 236h1v1h-1zM146 236h3v1h-3zM154 236h1v1h-1zM158 236h1v1h-1zM137 237h1v1h-1zM139 237h1v1h-1zM141 237h3v1h-3zM146 237h3v1h-3zM150 237h1v1h-1zM152 237h2v1h-2zM155 237h2v1h-2zM76 238h1v1h-1zM124 238h1v1h-1zM138 238h1v1h-1zM141 238h2v1h-2zM144 238h2v1h-2zM147 238h7v1h-7zM155 238h1v1h-1zM157 238h1v1h-1zM112 239h1v1h-1zM132 239h1v1h-1zM134 239h1v1h-1zM136 239h1v1h-1zM138 239h1v1h-1zM140 239h2v1h-2zM143 239h3v1h-3zM147 239h5v1h-5zM153 239h1v1h-1zM155 239h2v1h-2zM120 240h1v1h-1zM131 240h2v1h-2zM136 240h4v1h-4zM141 240h1v1h-1zM144 240h3v1h-3zM148 240h5v1h-5zM155 240h3v1h-3zM162 240h1v1h-1zM129 241h2v1h-2zM133 241h1v1h-1zM135 241h3v1h-3zM139 241h14v1h-14zM155 241h1v1h-1zM160 241h1v1h-1zM112 242h1v1h-1zM126 242h1v1h-1zM131 242h3v1h-3zM135 242h1v1h-1zM139 242h1v1h-1zM141 242h2v1h-2zM144 242h2v1h-2zM147 242h6v1h-6zM154 242h2v1h-2zM157 242h1v1h-1zM125 243h3v1h-3zM129 243h1v1h-1zM132 243h2v1h-2zM135 243h2v1h-2zM139 243h2v1h-2zM142 243h11v1h-11zM154 243h1v1h-1zM156 243h1v1h-1zM158 243h1v1h-1zM80 244h1v1h-1zM118 244h1v1h-1zM121 244h1v1h-1zM125 244h1v1h-1zM131 244h3v1h-3zM136 244h2v1h-2zM139 244h14v1h-14zM154 244h1v1h-1zM156 244h2v1h-2zM71 245h1v1h-1zM104 245h1v1h-1zM113 245h1v1h-1zM119 245h1v1h-1zM122 245h2v1h-2zM125 245h2v1h-2zM129 245h21v1h-21zM152 245h1v1h-1zM156 245h1v1h-1zM110 246h1v1h-1zM122 246h1v1h-1zM128 246h1v1h-1zM130 246h3v1h-3zM134 246h18v1h-18zM154 246h4v1h-4zM112 247h2v1h-2zM117 247h1v1h-1zM120 247h1v1h-1zM122 247h1v1h-1zM124 247h4v1h-4zM130 247h23v1h-23zM154 247h2v1h-2zM95 248h1v1h-1zM102 248h1v1h-1zM112 248h2v1h-2zM119 248h5v1h-5zM125 248h24v1h-24zM151 248h3v1h-3zM155 248h2v1h-2zM97 249h1v1h-1zM109 249h1v1h-1zM112 249h2v1h-2zM120 249h1v1h-1zM123 249h1v1h-1zM125 249h24v1h-24zM151 249h1v1h-1zM154 249h1v1h-1zM83 250h1v1h-1zM97 250h1v1h-1zM101 250h1v1h-1zM104 250h1v1h-1zM106 250h2v1h-2zM114 250h2v1h-2zM117 250h36v1h-36zM155 250h2v1h-2zM102 251h1v1h-1zM104 251h1v1h-1zM108 251h1v1h-1zM112 251h1v1h-1zM117 251h2v1h-2zM120 251h3v1h-3zM124 251h25v1h-25zM150 251h1v1h-1zM152 251h2v1h-2zM155 251h1v1h-1zM86 252h1v1h-1zM97 252h2v1h-2zM101 252h1v1h-1zM103 252h1v1h-1zM108 252h1v1h-1zM112 252h1v1h-1zM114 252h3v1h-3zM120 252h6v1h-6zM127 252h23v1h-23zM151 252h3v1h-3zM107 253h1v1h-1zM109 253h1v1h-1zM115 253h1v1h-1zM117 253h3v1h-3zM121 253h28v1h-28zM151 253h1v1h-1zM154 253h1v1h-1zM156 253h1v1h-1zM70 254h1v1h-1zM83 254h1v1h-1zM85 254h1v1h-1zM99 254h1v1h-1zM102 254h2v1h-2zM105 254h3v1h-3zM110 254h2v1h-2zM113 254h4v1h-4zM118 254h32v1h-32zM165 254h1v1h-1zM75 255h1v1h-1zM81 255h1v1h-1zM86 255h1v1h-1zM95 255h1v1h-1zM99 255h3v1h-3zM104 255h2v1h-2zM107 255h40v1h-40zM148 255h3v1h-3zM153 255h1v1h-1zM46 256h1v1h-1zM96 256h3v1h-3zM100 256h1v1h-1zM102 256h1v1h-1zM104 256h1v1h-1zM106 256h37v1h-37zM144 256h7v1h-7zM77 257h1v1h-1zM86 257h2v1h-2zM90 257h2v1h-2zM94 257h1v1h-1zM97 257h1v1h-1zM100 257h1v1h-1zM102 257h2v1h-2zM105 257h1v1h-1zM107 257h39v1h-39zM147 257h2v1h-2zM52 258h1v1h-1zM75 258h1v1h-1zM78 258h1v1h-1zM82 258h1v1h-1zM86 258h1v1h-1zM90 258h1v1h-1zM93 258h1v1h-1zM95 258h1v1h-1zM98 258h1v1h-1zM103 258h27v1h-27zM131 258h19v1h-19zM159 258h1v1h-1zM42 259h1v1h-1zM65 259h1v1h-1zM74 259h1v1h-1zM83 259h3v1h-3zM93 259h2v1h-2zM96 259h1v1h-1zM98 259h1v1h-1zM100 259h27v1h-27zM130 259h22v1h-22zM154 259h2v1h-2zM83 260h1v1h-1zM88 260h1v1h-1zM91 260h2v1h-2zM94 260h3v1h-3zM98 260h27v1h-27zM129 260h10v1h-10zM140 260h4v1h-4zM145 260h1v1h-1zM150 260h1v1h-1zM154 260h1v1h-1zM78 261h1v1h-1zM80 261h2v1h-2zM83 261h1v1h-1zM87 261h2v1h-2zM92 261h1v1h-1zM94 261h28v1h-28zM128 261h11v1h-11zM140 261h1v1h-1zM144 261h1v1h-1zM146 261h1v1h-1zM149 261h1v1h-1zM71 262h1v1h-1zM74 262h1v1h-1zM78 262h1v1h-1zM82 262h1v1h-1zM84 262h1v1h-1zM94 262h2v1h-2zM97 262h23v1h-23zM128 262h18v1h-18zM147 262h1v1h-1zM149 262h1v1h-1zM151 262h2v1h-2zM73 263h1v1h-1zM75 263h1v1h-1zM82 263h2v1h-2zM86 263h1v1h-1zM89 263h7v1h-7zM97 263h20v1h-20zM127 263h15v1h-15zM143 263h1v1h-1zM146 263h1v1h-1zM68 264h1v1h-1zM76 264h1v1h-1zM78 264h1v1h-1zM81 264h1v1h-1zM83 264h1v1h-1zM85 264h2v1h-2zM88 264h1v1h-1zM90 264h5v1h-5zM96 264h19v1h-19zM126 264h14v1h-14zM144 264h1v1h-1zM148 264h1v1h-1zM158 264h1v1h-1zM63 265h1v1h-1zM69 265h1v1h-1zM73 265h1v1h-1zM76 265h1v1h-1zM82 265h9v1h-9zM92 265h20v1h-20zM125 265h14v1h-14zM140 265h1v1h-1zM154 265h1v1h-1zM65 266h1v1h-1zM74 266h1v1h-1zM76 266h1v1h-1zM79 266h2v1h-2zM84 266h3v1h-3zM89 266h2v1h-2zM92 266h18v1h-18zM124 266h16v1h-16zM145 266h1v1h-1zM148 266h1v1h-1zM151 266h1v1h-1zM57 267h1v1h-1zM68 267h1v1h-1zM71 267h2v1h-2zM78 267h1v1h-1zM80 267h1v1h-1zM82 267h2v1h-2zM86 267h21v1h-21zM123 267h15v1h-15zM146 267h1v1h-1zM42 268h1v1h-1zM55 268h1v1h-1zM75 268h1v1h-1zM77 268h1v1h-1zM80 268h3v1h-3zM84 268h2v1h-2zM87 268h18v1h-18zM122 268h15v1h-15zM138 268h1v1h-1zM140 268h1v1h-1zM146 268h1v1h-1zM55 269h1v1h-1zM67 269h2v1h-2zM71 269h2v1h-2zM76 269h27v1h-27zM121 269h13v1h-13zM135 269h4v1h-4zM143 269h3v1h-3zM69 270h1v1h-1zM71 270h2v1h-2zM77 270h1v1h-1zM79 270h22v1h-22zM120 270h14v1h-14zM135 270h4v1h-4zM140 270h1v1h-1zM143 270h1v1h-1zM149 270h1v1h-1zM61 271h1v1h-1zM70 271h1v1h-1zM72 271h4v1h-4zM77 271h1v1h-1zM79 271h1v1h-1zM81 271h18v1h-18zM119 271h15v1h-15zM136 271h1v1h-1zM148 271h1v1h-1zM54 272h1v1h-1zM63 272h1v1h-1zM66 272h1v1h-1zM70 272h1v1h-1zM72 272h1v1h-1zM75 272h1v1h-1zM77 272h20v1h-20zM118 272h15v1h-15zM135 272h2v1h-2zM140 272h1v1h-1zM143 272h1v1h-1zM57 273h2v1h-2zM61 273h1v1h-1zM65 273h1v1h-1zM68 273h1v1h-1zM70 273h3v1h-3zM75 273h20v1h-20zM117 273h15v1h-15zM133 273h3v1h-3zM59 274h1v1h-1zM65 274h1v1h-1zM67 274h26v1h-26zM116 274h17v1h-17zM137 274h1v1h-1zM139 274h1v1h-1zM46 275h1v1h-1zM56 275h1v1h-1zM58 275h1v1h-1zM66 275h1v1h-1zM68 275h23v1h-23zM115 275h14v1h-14zM131 275h1v1h-1zM134 275h1v1h-1zM137 275h1v1h-1zM41 276h1v1h-1zM46 276h1v1h-1zM57 276h1v1h-1zM59 276h3v1h-3zM64 276h2v1h-2zM67 276h5v1h-5zM73 276h16v1h-16zM114 276h16v1h-16zM132 276h3v1h-3zM138 276h1v1h-1zM147 276h1v1h-1zM53 277h1v1h-1zM58 277h7v1h-7zM67 277h4v1h-4zM72 277h15v1h-15zM113 277h11v1h-11zM125 277h3v1h-3zM130 277h1v1h-1zM57 278h3v1h-3zM62 278h1v1h-1zM66 278h1v1h-1zM68 278h18v1h-18zM112 278h13v1h-13zM127 278h2v1h-2zM131 278h3v1h-3zM38 279h1v1h-1zM55 279h1v1h-1zM58 279h1v1h-1zM63 279h1v1h-1zM65 279h19v1h-19zM111 279h13v1h-13zM125 279h3v1h-3zM139 279h1v1h-1zM56 280h7v1h-7zM64 280h18v1h-18zM110 280h15v1h-15zM127 280h1v1h-1zM43 281h1v1h-1zM55 281h1v1h-1zM57 281h6v1h-6zM64 281h17v1h-17zM109 281h14v1h-14zM124 281h1v1h-1zM126 281h2v1h-2zM131 281h1v1h-1zM43 282h1v1h-1zM50 282h1v1h-1zM58 282h1v1h-1zM62 282h17v1h-17zM108 282h12v1h-12zM121 282h2v1h-2zM124 282h2v1h-2zM131 282h1v1h-1zM44 283h1v1h-1zM51 283h1v1h-1zM54 283h1v1h-1zM60 283h4v1h-4zM65 283h12v1h-12zM107 283h17v1h-17zM41 284h1v1h-1zM50 284h1v1h-1zM52 284h3v1h-3zM56 284h1v1h-1zM58 284h1v1h-1zM60 284h16v1h-16zM106 284h18v1h-18zM126 284h1v1h-1zM46 285h1v1h-1zM52 285h1v1h-1zM57 285h2v1h-2zM60 285h15v1h-15zM105 285h17v1h-17zM123 285h1v1h-1zM125 285h1v1h-1zM42 286h1v1h-1zM45 286h1v1h-1zM50 286h1v1h-1zM52 286h4v1h-4zM57 286h16v1h-16zM104 286h16v1h-16zM121 286h1v1h-1zM125 286h1v1h-1zM128 286h1v1h-1zM42 287h2v1h-2zM45 287h1v1h-1zM49 287h23v1h-23zM102 287h15v1h-15zM118 287h4v1h-4zM123 287h1v1h-1zM125 287h1v1h-1zM128 287h1v1h-1zM45 288h1v1h-1zM48 288h1v1h-1zM50 288h3v1h-3zM55 288h16v1h-16zM101 288h12v1h-12zM116 288h1v1h-1zM119 288h1v1h-1zM122 288h1v1h-1zM133 288h1v1h-1zM39 289h1v1h-1zM42 289h2v1h-2zM46 289h4v1h-4zM51 289h4v1h-4zM57 289h13v1h-13zM100 289h12v1h-12zM113 289h4v1h-4zM118 289h3v1h-3zM133 289h1v1h-1zM38 290h1v1h-1zM42 290h1v1h-1zM44 290h4v1h-4zM51 290h17v1h-17zM98 290h13v1h-13zM113 290h5v1h-5zM119 290h2v1h-2zM132 290h1v1h-1zM44 291h1v1h-1zM49 291h4v1h-4zM54 291h13v1h-13zM97 291h21v1h-21zM126 291h1v1h-1zM140 291h1v1h-1zM42 292h1v1h-1zM45 292h2v1h-2zM49 292h1v1h-1zM51 292h1v1h-1zM53 292h1v1h-1zM55 292h11v1h-11zM96 292h14v1h-14zM113 292h5v1h-5zM119 292h2v1h-2zM38 293h1v1h-1zM45 293h1v1h-1zM48 293h17v1h-17zM95 293h16v1h-16zM112 293h2v1h-2zM116 293h2v1h-2zM119 293h1v1h-1zM38 294h1v1h-1zM42 294h1v1h-1zM45 294h19v1h-19zM93 294h19v1h-19zM113 294h1v1h-1zM119 294h1v1h-1zM39 295h1v1h-1zM41 295h2v1h-2zM46 295h2v1h-2zM49 295h6v1h-6zM56 295h7v1h-7zM92 295h14v1h-14zM107 295h3v1h-3zM121 295h1v1h-1zM40 296h1v1h-1zM42 296h4v1h-4zM47 296h14v1h-14zM91 296h17v1h-17zM109 296h3v1h-3zM113 296h1v1h-1zM120 296h1v1h-1zM39 297h1v1h-1zM42 297h1v1h-1zM44 297h16v1h-16zM90 297h15v1h-15zM106 297h2v1h-2zM110 297h1v1h-1zM114 297h1v1h-1zM121 297h1v1h-1zM39 298h1v1h-1zM41 298h2v1h-2zM44 298h3v1h-3zM48 298h11v1h-11zM89 298h19v1h-19zM111 298h2v1h-2zM114 298h1v1h-1zM39 299h2v1h-2zM42 299h2v1h-2zM46 299h12v1h-12zM88 299h16v1h-16zM105 299h1v1h-1zM107 299h1v1h-1zM112 299h1v1h-1zM116 299h1v1h-1zM41 300h16v1h-16zM87 300h13v1h-13zM101 300h2v1h-2zM104 300h1v1h-1zM110 300h1v1h-1zM112 300h1v1h-1zM114 300h1v1h-1zM140 300h1v1h-1zM38 301h18v1h-18zM85 301h15v1h-15zM101 301h2v1h-2zM106 301h1v1h-1zM38 302h17v1h-17zM83 302h20v1h-20zM104 302h1v1h-1zM38 303h15v1h-15zM81 303h15v1h-15zM97 303h1v1h-1zM99 303h3v1h-3zM110 303h1v1h-1zM39 304h13v1h-13zM79 304h19v1h-19zM99 304h1v1h-1zM101 304h1v1h-1zM108 304h1v1h-1zM120 304h1v1h-1zM125 304h1v1h-1zM38 305h12v1h-12zM76 305h18v1h-18zM95 305h3v1h-3zM100 305h2v1h-2zM103 305h1v1h-1zM38 306h2v1h-2zM42 306h7v1h-7zM74 306h22v1h-22zM100 306h1v1h-1zM102 306h1v1h-1zM105 306h2v1h-2zM121 306h1v1h-1zM38 307h10v1h-10zM71 307h25v1h-25zM97 307h2v1h-2zM108 307h1v1h-1zM113 307h2v1h-2zM38 308h8v1h-8zM69 308h20v1h-20zM90 308h1v1h-1zM92 308h1v1h-1zM96 308h1v1h-1zM101 308h1v1h-1zM106 308h1v1h-1zM38 309h7v1h-7zM66 309h27v1h-27zM97 309h1v1h-1zM99 309h1v1h-1zM38 310h4v1h-4zM63 310h30v1h-30zM94 310h2v1h-2zM97 310h1v1h-1zM107 310h1v1h-1zM109 310h1v1h-1zM59 311h30v1h-30zM91 311h3v1h-3zM100 311h1v1h-1zM56 312h28v1h-28zM85 312h1v1h-1zM88 312h1v1h-1zM90 312h1v1h-1zM93 312h1v1h-1zM95 312h1v1h-1zM97 312h1v1h-1zM101 312h1v1h-1zM53 313h29v1h-29zM83 313h1v1h-1zM85 313h1v1h-1zM87 313h1v1h-1zM89 313h1v1h-1zM91 313h1v1h-1zM49 314h38v1h-38zM90 314h3v1h-3zM46 315h32v1h-32zM79 315h3v1h-3zM85 315h1v1h-1zM87 315h2v1h-2zM92 315h1v1h-1zM42 316h35v1h-35zM78 316h3v1h-3zM82 316h1v1h-1zM38 317h36v1h-36zM75 317h5v1h-5zM81 317h2v1h-2zM84 317h1v1h-1zM96 317h1v1h-1zM38 318h38v1h-38zM78 318h3v1h-3zM83 318h1v1h-1zM38 319h30v1h-30zM69 319h6v1h-6zM76 319h1v1h-1zM78 319h4v1h-4zM38 320h22v1h-22zM61 320h6v1h-6zM68 320h1v1h-1zM73 320h2v1h-2zM87 320h1v1h-1zM38 321h24v1h-24zM63 321h1v1h-1zM65 321h1v1h-1zM68 321h1v1h-1zM70 321h2v1h-2zM75 321h1v1h-1zM77 321h2v1h-2zM80 321h1v1h-1zM38 322h20v1h-20zM59 322h2v1h-2zM62 322h4v1h-4zM68 322h1v1h-1zM70 322h1v1h-1zM83 322h1v1h-1zM38 323h1v1h-1zM40 323h15v1h-15zM56 323h4v1h-4zM61 323h1v1h-1zM64 323h1v1h-1zM66 323h3v1h-3zM78 323h1v1h-1zM83 323h1v1h-1zM40 324h18v1h-18zM59 324h1v1h-1zM66 324h1v1h-1zM72 324h1v1h-1zM74 324h2v1h-2zM38 325h8v1h-8zM47 325h4v1h-4zM55 325h4v1h-4zM61 325h1v1h-1zM101 325h1v1h-1zM38 326h9v1h-9zM48 326h3v1h-3zM52 326h4v1h-4zM61 326h1v1h-1zM64 326h1v1h-1zM38 327h5v1h-5zM44 327h10v1h-10zM55 327h1v1h-1zM59 327h1v1h-1zM65 327h1v1h-1zM39 328h2v1h-2zM42 328h1v1h-1zM45 328h1v1h-1zM47 328h1v1h-1zM51 328h2v1h-2zM60 328h1v1h-1zM68 328h1v1h-1zM76 328h1v1h-1zM83 328h1v1h-1zM38 329h1v1h-1zM44 329h1v1h-1zM39 330h1v1h-1zM41 330h1v1h-1zM46 330h2v1h-2zM69 330h1v1h-1z" fill="#759adc"/><line x1="37.30" y1="330.75" x2="218.40" y2="184.15" stroke="#f02020" stroke-width="1.3" stroke-dasharray="1.3 2.0" stroke-linecap="butt"/><line x1="37.30" y1="326.98" x2="218.40" y2="193.98" stroke="#000" stroke-width="1.3"/></g><text x="47.90" y="199.25" font-size="10.50" text-anchor="start" textLength="62.43" lengthAdjust="spacingAndGlyphs" fill="#000" >n = 161,340</text><text x="47.90" y="210.05" font-size="10.50" text-anchor="start" textLength="104.93" lengthAdjust="spacingAndGlyphs" fill="#000" >y = 0.9072x+0.0206</text><text x="47.90" y="220.75" font-size="10.50" text-anchor="start" textLength="53.84" lengthAdjust="spacingAndGlyphs" fill="#000" >r = 0.9565</text><text x="47.90" y="233.85" font-size="10.50" text-anchor="start" textLength="77.97" lengthAdjust="spacingAndGlyphs" fill="#000" >RMSE = 0.0309</text><text x="160.25" y="301.15" font-size="12.25" text-anchor="start" textLength="43.67" lengthAdjust="spacingAndGlyphs" fill="#000" >Layer 2</text><rect x="37.30" y="184.15" width="181.10" height="146.60" fill="none" stroke="#000" stroke-width="0.8"/><clipPath id="clip11"><rect x="267.60" y="184.15" width="181.10" height="146.60"/></clipPath><g clip-path="url(#clip11)"><path d="M267.90,330.40 C268.95,326.41 269.30,327.39 271.40,317.10 C273.50,306.81 272.80,309.75 274.90,296.10 C277.00,282.45 276.30,283.69 278.40,271.60 C280.50,259.51 279.53,263.15 281.90,255.80 C284.27,248.45 283.42,252.86 286.30,247.10 C289.18,241.34 288.89,241.88 291.50,236.60 C294.11,231.32 292.90,235.83 295.00,229.50 C297.10,223.17 296.40,221.80 298.50,215.50 C300.60,209.20 300.14,210.60 302.00,208.50 C303.86,206.40 303.11,206.91 304.70,208.50 C306.29,210.09 305.20,210.65 307.30,213.80 C309.40,216.95 309.06,218.22 311.70,219.00 C314.34,219.78 313.22,218.50 316.10,216.40 C318.98,214.30 317.91,212.69 321.30,212.00 C324.69,211.31 324.25,212.78 327.40,214.10 C330.55,215.42 328.89,214.12 331.80,216.40 C334.71,218.68 334.19,217.74 337.10,221.70 C340.01,225.66 339.13,224.08 341.50,229.60 C343.87,235.12 342.66,230.65 345.00,240.10 C347.34,249.55 346.42,248.50 349.30,261.10 C352.18,273.70 351.42,270.55 354.60,282.10 C357.78,293.65 356.75,290.66 359.90,299.60 C363.05,308.54 361.95,304.52 365.10,311.90 C368.25,319.28 366.71,319.22 370.40,324.20 C374.09,329.18 372.42,326.82 377.40,328.50 C382.38,330.18 382.02,329.17 387.00,329.80 C391.98,330.43 391.90,330.36 394.00,330.60 L394.00,330.75 L267.90,330.75 Z" fill="#6495ed" fill-opacity="0.25" stroke="none"/><path d="M267.90,330.40 C268.95,326.41 269.30,327.39 271.40,317.10 C273.50,306.81 272.80,309.75 274.90,296.10 C277.00,282.45 276.30,283.69 278.40,271.60 C280.50,259.51 279.53,263.15 281.90,255.80 C284.27,248.45 283.42,252.86 286.30,247.10 C289.18,241.34 288.89,241.88 291.50,236.60 C294.11,231.32 292.90,235.83 295.00,229.50 C297.10,223.17 296.40,221.80 298.50,215.50 C300.60,209.20 300.14,210.60 302.00,208.50 C303.86,206.40 303.11,206.91 304.70,208.50 C306.29,210.09 305.20,210.65 307.30,213.80 C309.40,216.95 309.06,218.22 311.70,219.00 C314.34,219.78 313.22,218.50 316.10,216.40 C318.98,214.30 317.91,212.69 321.30,212.00 C324.69,211.31 324.25,212.78 327.40,214.10 C330.55,215.42 328.89,214.12 331.80,216.40 C334.71,218.68 334.19,217.74 337.10,221.70 C340.01,225.66 339.13,224.08 341.50,229.60 C343.87,235.12 342.66,230.65 345.00,240.10 C347.34,249.55 346.42,248.50 349.30,261.10 C352.18,273.70 351.42,270.55 354.60,282.10 C357.78,293.65 356.75,290.66 359.90,299.60 C363.05,308.54 361.95,304.52 365.10,311.90 C368.25,319.28 366.71,319.22 370.40,324.20 C374.09,329.18 372.42,326.82 377.40,328.50 C382.38,330.18 382.02,329.17 387.00,329.80 C391.98,330.43 391.90,330.36 394.00,330.60" fill="none" stroke="#6495ed" stroke-width="0.85"/><path d="M267.90,329.40 C268.68,325.71 268.67,328.14 270.50,317.10 C272.33,306.06 271.90,306.25 274.00,292.60 C276.10,278.95 275.67,282.10 277.50,271.60 C279.33,261.10 278.00,264.95 280.10,257.60 C282.20,250.25 281.59,252.89 284.50,247.10 C287.41,241.31 287.16,242.26 289.80,238.30 C292.44,234.34 291.20,238.10 293.30,233.90 C295.40,229.70 294.70,229.82 296.80,224.30 C298.90,218.78 298.47,219.19 300.30,215.50 C302.13,211.81 300.80,210.95 302.90,212.00 C305.00,213.05 304.42,216.09 307.30,219.00 C310.18,221.91 308.81,221.79 312.50,221.70 C316.19,221.61 315.37,218.46 319.60,218.70 C323.83,218.94 322.40,220.04 326.60,222.50 C330.80,224.96 329.94,224.53 333.60,226.90 C337.26,229.27 335.65,226.44 338.80,230.40 C341.95,234.36 340.95,231.43 344.10,240.10 C347.25,248.77 346.15,247.75 349.30,259.30 C352.45,270.85 351.42,267.56 354.60,278.60 C357.78,289.64 356.21,286.11 359.90,296.10 C363.59,306.09 363.24,303.74 366.90,311.90 C370.56,320.06 368.44,318.56 372.10,323.30 C375.76,328.04 374.63,325.75 379.10,327.70 C383.57,329.65 382.53,328.93 387.00,329.80 C391.47,330.67 391.90,330.36 394.00,330.60 L394.00,330.75 L267.90,330.75 Z" fill="#90ee90" fill-opacity="0.25" stroke="none"/><path d="M267.90,329.40 C268.68,325.71 268.67,328.14 270.50,317.10 C272.33,306.06 271.90,306.25 274.00,292.60 C276.10,278.95 275.67,282.10 277.50,271.60 C279.33,261.10 278.00,264.95 280.10,257.60 C282.20,250.25 281.59,252.89 284.50,247.10 C287.41,241.31 287.16,242.26 289.80,238.30 C292.44,234.34 291.20,238.10 293.30,233.90 C295.40,229.70 294.70,229.82 296.80,224.30 C298.90,218.78 298.47,219.19 300.30,215.50 C302.13,211.81 300.80,210.95 302.90,212.00 C305.00,213.05 304.42,216.09 307.30,219.00 C310.18,221.91 308.81,221.79 312.50,221.70 C316.19,221.61 315.37,218.46 319.60,218.70 C323.83,218.94 322.40,220.04 326.60,222.50 C330.80,224.96 329.94,224.53 333.60,226.90 C337.26,229.27 335.65,226.44 338.80,230.40 C341.95,234.36 340.95,231.43 344.10,240.10 C347.25,248.77 346.15,247.75 349.30,259.30 C352.45,270.85 351.42,267.56 354.60,278.60 C357.78,289.64 356.21,286.11 359.90,296.10 C363.59,306.09 363.24,303.74 366.90,311.90 C370.56,320.06 368.44,318.56 372.10,323.30 C375.76,328.04 374.63,325.75 379.10,327.70 C383.57,329.65 382.53,328.93 387.00,329.80 C391.47,330.67 391.90,330.36 394.00,330.60" fill="none" stroke="#90ee90" stroke-width="0.85"/></g><rect x="386.60" y="187.75" width="57.9" height="26.6" rx="1.8" fill="#fff" fill-opacity="0.8" stroke="#d6d6d6" stroke-width="0.8"/><rect x="389.6" y="191.95" width="16.8" height="6.2" fill="#90ee90" fill-opacity="0.25" stroke="#90ee90" stroke-width="0.8"/><rect x="389.6" y="203.55" width="16.8" height="6.2" fill="#6495ed" fill-opacity="0.25" stroke="#6495ed" stroke-width="0.8"/><text x="412.20" y="197.75" font-size="8.82" text-anchor="start" textLength="25.80" lengthAdjust="spacingAndGlyphs" fill="#000" >In situ</text><text x="412.30" y="209.65" font-size="8.82" text-anchor="start" textLength="29.08" lengthAdjust="spacingAndGlyphs" fill="#000" >SMRFR</text><rect x="267.60" y="184.15" width="181.10" height="146.60" fill="none" stroke="#000" stroke-width="0.8"/><clipPath id="clip21"><rect x="497.90" y="184.15" width="181.10" height="146.60"/></clipPath><g clip-path="url(#clip21)"><line x1="516.01" y1="234.80" x2="516.01" y2="321.50" stroke="#656565" stroke-width="1.4"/><path d="M516.01,241.80 C515.89,243.67 515.83,245.73 515.56,248.80 C515.29,251.87 515.96,249.57 515.01,253.30 C514.06,257.03 513.50,257.92 512.01,262.80 C510.52,267.68 510.80,266.45 509.41,271.60 C508.02,276.75 508.36,277.43 506.81,282.10 C505.26,286.77 504.78,285.37 503.61,289.10 C502.44,292.83 502.25,292.37 502.41,296.10 C502.57,299.83 502.80,299.37 504.21,303.10 C505.62,306.83 505.39,306.37 507.71,310.10 C510.03,313.83 510.94,314.73 512.91,317.10 C514.88,319.47 514.28,317.83 515.11,319.00 C515.94,320.17 515.77,320.83 516.01,321.50 L516.01,321.50 L516.01,241.80 Z" fill="#a6e1a6" stroke="#656565" stroke-width="1.2" stroke-linejoin="round"/><path d="M516.01,241.80 C516.13,243.67 516.19,245.73 516.46,248.80 C516.73,251.87 516.09,249.57 517.01,253.30 C517.93,257.03 518.52,257.92 519.91,262.80 C521.30,267.68 521.04,266.45 522.21,271.60 C523.38,276.75 522.82,277.43 524.31,282.10 C525.80,286.77 526.18,285.37 527.81,289.10 C529.44,292.83 530.41,292.37 530.41,296.10 C530.41,299.83 529.68,299.37 527.81,303.10 C525.94,306.83 525.97,306.37 523.41,310.10 C520.85,313.83 519.94,314.73 518.21,317.10 C516.48,319.47 517.50,317.83 516.91,319.00 C516.32,320.17 516.25,320.83 516.01,321.50 L516.01,321.50 L516.01,241.80 Z" fill="#7f9fd7" stroke="#656565" stroke-width="1.2" stroke-linejoin="round"/><line x1="507.03" y1="281.20" x2="516.01" y2="281.20" stroke="#656565" stroke-width="1.2" stroke-dasharray="2.6 2.6"/><line x1="502.86" y1="293.50" x2="516.01" y2="293.50" stroke="#656565" stroke-width="1.2" stroke-dasharray="5.3 5.3"/><line x1="504.21" y1="303.10" x2="516.01" y2="303.10" stroke="#656565" stroke-width="1.2" stroke-dasharray="2.6 2.6"/><line x1="516.01" y1="281.80" x2="524.25" y2="281.80" stroke="#656565" stroke-width="1.2" stroke-dasharray="2.6 2.6"/><line x1="516.01" y1="293.50" x2="529.44" y2="293.50" stroke="#656565" stroke-width="1.2" stroke-dasharray="5.3 5.3"/><line x1="516.01" y1="302.60" x2="528.00" y2="302.60" stroke="#656565" stroke-width="1.2" stroke-dasharray="2.6 2.6"/><line x1="552.23" y1="233.10" x2="552.23" y2="324.20" stroke="#656565" stroke-width="1.4"/><path d="M552.23,224.30 C552.11,226.17 552.05,228.23 551.78,231.30 C551.51,234.37 552.44,232.07 551.23,235.80 C550.02,239.53 548.78,239.49 547.23,245.30 C545.68,251.11 546.44,252.00 545.43,257.60 C544.42,263.20 544.71,261.63 543.43,266.30 C542.15,270.97 540.76,270.89 540.63,275.10 C540.50,279.31 542.45,278.37 542.93,282.10 C543.41,285.83 543.60,284.89 542.43,289.10 C541.26,293.31 539.78,293.23 538.53,297.90 C537.28,302.57 536.80,302.41 537.73,306.60 C538.66,310.79 538.78,309.84 542.03,313.60 C545.28,317.36 547.45,318.54 549.93,320.70 C552.41,322.86 550.72,320.77 551.33,321.70 C551.94,322.63 551.99,323.53 552.23,324.20 L552.23,324.20 L552.23,224.30 Z" fill="#a6e1a6" stroke="#656565" stroke-width="1.2" stroke-linejoin="round"/><path d="M552.23,224.30 C552.35,226.17 552.41,228.23 552.68,231.30 C552.95,234.37 552.34,232.07 553.23,235.80 C554.12,239.53 554.11,239.49 556.03,245.30 C557.95,251.11 559.02,252.00 560.43,257.60 C561.84,263.20 560.53,261.63 561.33,266.30 C562.13,270.97 563.43,270.89 563.43,275.10 C563.43,279.31 562.13,278.37 561.33,282.10 C560.53,285.83 559.74,284.89 560.43,289.10 C561.12,293.31 562.30,293.23 563.93,297.90 C565.56,302.57 566.77,302.41 566.53,306.60 C566.29,310.79 566.28,309.84 563.03,313.60 C559.78,317.36 556.97,318.54 554.33,320.70 C551.69,322.86 553.69,320.77 553.13,321.70 C552.57,322.63 552.47,323.53 552.23,324.20 L552.23,324.20 L552.23,224.30 Z" fill="#7f9fd7" stroke="#656565" stroke-width="1.2" stroke-linejoin="round"/><line x1="542.70" y1="268.60" x2="552.23" y2="268.60" stroke="#656565" stroke-width="1.2" stroke-dasharray="2.6 2.6"/><line x1="542.68" y1="285.60" x2="552.23" y2="285.60" stroke="#656565" stroke-width="1.2" stroke-dasharray="5.3 5.3"/><line x1="538.02" y1="303.50" x2="552.23" y2="303.50" stroke="#656565" stroke-width="1.2" stroke-dasharray="2.6 2.6"/><line x1="552.23" y1="267.70" x2="561.66" y2="267.70" stroke="#656565" stroke-width="1.2" stroke-dasharray="2.6 2.6"/><line x1="552.23" y1="286.50" x2="560.76" y2="286.50" stroke="#656565" stroke-width="1.2" stroke-dasharray="5.3 5.3"/><line x1="552.23" y1="303.10" x2="565.48" y2="303.10" stroke="#656565" stroke-width="1.2" stroke-dasharray="2.6 2.6"/><line x1="588.45" y1="215.20" x2="588.45" y2="321.20" stroke="#656565" stroke-width="1.4"/><path d="M588.45,227.20 C588.33,229.07 588.27,231.13 588.00,234.20 C587.73,237.27 588.85,234.11 587.45,238.70 C586.05,243.29 585.36,245.77 582.75,251.40 C580.14,257.03 579.46,255.32 577.65,259.80 C575.84,264.28 576.27,262.81 575.95,268.20 C575.63,273.59 576.45,273.71 576.45,280.00 C576.45,286.29 575.18,285.96 575.95,291.80 C576.72,297.64 577.32,296.97 579.35,301.90 C581.38,306.83 581.31,305.82 583.55,310.30 C585.79,314.78 586.68,316.46 587.75,318.70 C588.82,320.94 587.36,318.03 587.55,318.70 C587.74,319.37 588.21,320.53 588.45,321.20 L588.45,321.20 L588.45,227.20 Z" fill="#a6e1a6" stroke="#656565" stroke-width="1.2" stroke-linejoin="round"/><path d="M588.45,229.00 C588.57,230.87 588.63,232.93 588.90,236.00 C589.17,239.07 587.94,236.39 589.45,240.50 C590.96,244.61 591.86,246.25 594.55,251.40 C597.24,256.55 597.44,255.32 599.55,259.80 C601.66,264.28 602.00,262.81 602.45,268.20 C602.90,273.59 601.57,273.71 601.25,280.00 C600.93,286.29 602.37,285.96 601.25,291.80 C600.13,297.64 599.29,296.97 597.05,301.90 C594.81,306.83 595.01,305.82 592.85,310.30 C590.69,314.78 589.88,316.46 588.95,318.70 C588.02,320.94 589.48,318.03 589.35,318.70 C589.22,319.37 588.69,320.53 588.45,321.20 L588.45,321.20 L588.45,229.00 Z" fill="#7f9fd7" stroke="#656565" stroke-width="1.2" stroke-linejoin="round"/><line x1="576.40" y1="266.00" x2="588.45" y2="266.00" stroke="#656565" stroke-width="1.2" stroke-dasharray="2.6 2.6"/><line x1="576.41" y1="279.10" x2="588.45" y2="279.10" stroke="#656565" stroke-width="1.2" stroke-dasharray="5.3 5.3"/><line x1="576.49" y1="293.40" x2="588.45" y2="293.40" stroke="#656565" stroke-width="1.2" stroke-dasharray="2.6 2.6"/><line x1="588.45" y1="266.50" x2="601.86" y2="266.50" stroke="#656565" stroke-width="1.2" stroke-dasharray="2.6 2.6"/><line x1="588.45" y1="278.60" x2="601.39" y2="278.60" stroke="#656565" stroke-width="1.2" stroke-dasharray="5.3 5.3"/><line x1="588.45" y1="292.30" x2="601.04" y2="292.30" stroke="#656565" stroke-width="1.2" stroke-dasharray="2.6 2.6"/><line x1="624.67" y1="192.40" x2="624.67" y2="322.10" stroke="#656565" stroke-width="1.4"/><path d="M624.67,228.90 C624.55,230.77 624.49,232.83 624.22,235.90 C623.95,238.97 624.99,236.27 623.67,240.40 C622.35,244.53 621.56,246.23 619.27,251.40 C616.98,256.57 616.64,255.32 615.07,259.80 C613.50,264.28 614.41,262.81 613.37,268.20 C612.33,273.59 611.17,274.61 611.17,280.00 C611.17,285.39 612.54,283.47 613.37,288.40 C614.20,293.33 613.15,293.11 614.27,298.50 C615.39,303.89 615.33,303.67 617.57,308.60 C619.81,313.53 621.02,314.07 622.67,317.00 C624.32,319.93 623.24,318.24 623.77,319.60 C624.30,320.96 624.43,321.43 624.67,322.10 L624.67,322.10 L624.67,228.90 Z" fill="#a6e1a6" stroke="#656565" stroke-width="1.2" stroke-linejoin="round"/><path d="M624.67,230.60 C624.79,232.47 624.85,234.53 625.12,237.60 C625.39,240.67 624.30,238.42 625.67,242.10 C627.04,245.78 627.71,246.68 630.27,251.40 C632.83,256.12 633.27,255.32 635.27,259.80 C637.27,264.28 636.65,262.81 637.77,268.20 C638.89,273.59 639.68,274.61 639.47,280.00 C639.26,285.39 637.88,283.47 636.97,288.40 C636.06,293.33 637.19,293.11 636.07,298.50 C634.95,303.89 635.22,303.67 632.77,308.60 C630.32,313.53 628.79,314.07 626.87,317.00 C624.95,319.93 626.16,318.24 625.57,319.60 C624.98,320.96 624.91,321.43 624.67,322.10 L624.67,322.10 L624.67,230.60 Z" fill="#7f9fd7" stroke="#656565" stroke-width="1.2" stroke-linejoin="round"/><line x1="613.61" y1="267.00" x2="624.67" y2="267.00" stroke="#656565" stroke-width="1.2" stroke-dasharray="2.6 2.6"/><line x1="611.48" y1="281.20" x2="624.67" y2="281.20" stroke="#656565" stroke-width="1.2" stroke-dasharray="5.3 5.3"/><line x1="613.97" y1="295.10" x2="624.67" y2="295.10" stroke="#656565" stroke-width="1.2" stroke-dasharray="2.6 2.6"/><line x1="624.67" y1="267.30" x2="637.50" y2="267.30" stroke="#656565" stroke-width="1.2" stroke-dasharray="2.6 2.6"/><line x1="624.67" y1="280.80" x2="639.23" y2="280.80" stroke="#656565" stroke-width="1.2" stroke-dasharray="5.3 5.3"/><line x1="624.67" y1="294.30" x2="636.44" y2="294.30" stroke="#656565" stroke-width="1.2" stroke-dasharray="2.6 2.6"/><line x1="660.89" y1="246.30" x2="660.89" y2="318.70" stroke="#656565" stroke-width="1.4"/><path d="M660.89,244.10 C660.77,245.97 660.71,248.03 660.44,251.10 C660.17,254.17 661.08,251.95 659.89,255.60 C658.70,259.25 658.36,260.53 655.99,264.80 C653.62,269.07 653.44,268.45 650.99,271.60 C648.54,274.75 647.48,273.91 646.79,276.60 C646.10,279.29 647.51,278.55 648.39,281.70 C649.27,284.85 649.05,283.92 650.09,288.40 C651.13,292.88 650.72,293.57 652.29,298.50 C653.86,303.43 654.10,302.85 655.99,306.90 C657.88,310.95 658.32,311.22 659.39,313.70 C660.46,316.18 659.59,314.87 659.99,316.20 C660.39,317.53 660.65,318.03 660.89,318.70 L660.89,318.70 L660.89,244.10 Z" fill="#a6e1a6" stroke="#656565" stroke-width="1.2" stroke-linejoin="round"/><path d="M660.89,244.10 C661.01,245.97 661.07,248.03 661.34,251.10 C661.61,254.17 660.62,251.95 661.89,255.60 C663.16,259.25 663.61,260.53 666.09,264.80 C668.57,269.07 668.71,268.45 671.19,271.60 C673.67,274.75 674.72,273.91 675.39,276.60 C676.06,279.29 674.36,279.01 673.69,281.70 C673.02,284.39 673.10,284.01 672.89,286.70 C672.68,289.39 673.58,288.20 672.89,291.80 C672.20,295.40 671.65,296.17 670.29,300.20 C668.93,304.23 669.79,303.30 667.79,306.90 C665.79,310.50 664.39,311.22 662.79,313.70 C661.19,316.18 662.30,314.87 661.79,316.20 C661.28,317.53 661.13,318.03 660.89,318.70 L660.89,318.70 L660.89,244.10 Z" fill="#7f9fd7" stroke="#656565" stroke-width="1.2" stroke-linejoin="round"/><line x1="647.46" y1="275.80" x2="660.89" y2="275.80" stroke="#656565" stroke-width="1.2" stroke-dasharray="2.6 2.6"/><line x1="649.10" y1="284.50" x2="660.89" y2="284.50" stroke="#656565" stroke-width="1.2" stroke-dasharray="5.3 5.3"/><line x1="651.55" y1="295.10" x2="660.89" y2="295.10" stroke="#656565" stroke-width="1.2" stroke-dasharray="2.6 2.6"/><line x1="660.89" y1="276.30" x2="675.14" y2="276.30" stroke="#656565" stroke-width="1.2" stroke-dasharray="2.6 2.6"/><line x1="660.89" y1="284.70" x2="673.21" y2="284.70" stroke="#656565" stroke-width="1.2" stroke-dasharray="5.3 5.3"/><line x1="660.89" y1="294.60" x2="672.02" y2="294.60" stroke="#656565" stroke-width="1.2" stroke-dasharray="2.6 2.6"/></g><rect x="616.60" y="188.05" width="58" height="26.1" rx="1.8" fill="#fff" fill-opacity="0.8" stroke="#d6d6d6" stroke-width="0.8"/><rect x="619.9" y="191.75" width="16.8" height="6.2" fill="#a6e1a6" stroke="#656565" stroke-width="0.8"/><rect x="619.9" y="203.55" width="16.8" height="6.2" fill="#7f9fd7" stroke="#656565" stroke-width="0.8"/><text x="642.40" y="197.75" font-size="8.82" text-anchor="start" textLength="25.80" lengthAdjust="spacingAndGlyphs" fill="#000" >In situ</text><text x="642.50" y="209.65" font-size="8.82" text-anchor="start" textLength="29.08" lengthAdjust="spacingAndGlyphs" fill="#000" >SMRFR</text><line x1="494.50" y1="319.40" x2="497.90" y2="319.40" stroke="#000" stroke-width="0.8"/><text x="492.00" y="322.80" font-size="9.4" text-anchor="end" fill="#000" >0.0</text><line x1="494.50" y1="285.68" x2="497.90" y2="285.68" stroke="#000" stroke-width="0.8"/><text x="492.00" y="289.08" font-size="9.4" text-anchor="end" fill="#000" >0.2</text><line x1="494.50" y1="251.96" x2="497.90" y2="251.96" stroke="#000" stroke-width="0.8"/><text x="492.00" y="255.36" font-size="9.4" text-anchor="end" fill="#000" >0.4</text><line x1="494.50" y1="218.24" x2="497.90" y2="218.24" stroke="#000" stroke-width="0.8"/><text x="492.00" y="221.64" font-size="9.4" text-anchor="end" fill="#000" >0.6</text><line x1="494.50" y1="184.52" x2="497.90" y2="184.52" stroke="#000" stroke-width="0.8"/><text x="492.00" y="187.92" font-size="9.4" text-anchor="end" fill="#000" >0.8</text><line x1="516.01" y1="330.75" x2="516.01" y2="334.15" stroke="#000" stroke-width="0.8"/><g transform="translate(507.24,347.15) rotate(-10)"><text x="0.00" y="0.00" font-size="10.14" text-anchor="start" textLength="18.67" lengthAdjust="spacingAndGlyphs" fill="#000" >Arid</text></g><line x1="552.23" y1="330.75" x2="552.23" y2="334.15" stroke="#000" stroke-width="0.8"/><g transform="translate(534.39,350.35) rotate(-10)"><text x="0.00" y="0.00" font-size="10.14" text-anchor="start" textLength="37.08" lengthAdjust="spacingAndGlyphs" fill="#000" >Tropical</text></g><line x1="588.45" y1="330.75" x2="588.45" y2="334.15" stroke="#000" stroke-width="0.8"/><g transform="translate(563.77,352.76) rotate(-10)"><text x="0.00" y="0.00" font-size="10.14" text-anchor="start" textLength="50.98" lengthAdjust="spacingAndGlyphs" fill="#000" >Temperate</text></g><line x1="624.67" y1="330.75" x2="624.67" y2="334.15" stroke="#000" stroke-width="0.8"/><g transform="translate(598.62,353.24) rotate(-10)"><text x="0.00" y="0.00" font-size="10.14" text-anchor="start" textLength="53.75" lengthAdjust="spacingAndGlyphs" fill="#000" >Continental</text></g><line x1="660.89" y1="330.75" x2="660.89" y2="334.15" stroke="#000" stroke-width="0.8"/><g transform="translate(649.79,347.97) rotate(-10)"><text x="0.00" y="0.00" font-size="10.14" text-anchor="start" textLength="23.40" lengthAdjust="spacingAndGlyphs" fill="#000" >Polar</text></g><rect x="497.90" y="184.15" width="181.10" height="146.60" fill="none" stroke="#000" stroke-width="0.8"/><line x1="37.30" y1="330.75" x2="37.30" y2="334.15" stroke="#000" stroke-width="0.8"/><text x="37.30" y="343.05" font-size="9.4" text-anchor="middle" fill="#000" >0.0</text><line x1="82.57" y1="330.75" x2="82.57" y2="334.15" stroke="#000" stroke-width="0.8"/><text x="82.57" y="343.05" font-size="9.4" text-anchor="middle" fill="#000" >0.2</text><line x1="127.85" y1="330.75" x2="127.85" y2="334.15" stroke="#000" stroke-width="0.8"/><text x="127.85" y="343.05" font-size="9.4" text-anchor="middle" fill="#000" >0.4</text><line x1="173.12" y1="330.75" x2="173.12" y2="334.15" stroke="#000" stroke-width="0.8"/><text x="173.12" y="343.05" font-size="9.4" text-anchor="middle" fill="#000" >0.6</text><line x1="218.40" y1="330.75" x2="218.40" y2="334.15" stroke="#000" stroke-width="0.8"/><text x="218.40" y="343.05" font-size="9.4" text-anchor="middle" fill="#000" >0.8</text><line x1="33.90" y1="330.75" x2="37.30" y2="330.75" stroke="#000" stroke-width="0.8"/><text x="31.40" y="334.15" font-size="9.4" text-anchor="end" fill="#000" >0.0</text><line x1="33.90" y1="294.10" x2="37.30" y2="294.10" stroke="#000" stroke-width="0.8"/><text x="31.40" y="297.50" font-size="9.4" text-anchor="end" fill="#000" >0.2</text><line x1="33.90" y1="257.45" x2="37.30" y2="257.45" stroke="#000" stroke-width="0.8"/><text x="31.40" y="260.85" font-size="9.4" text-anchor="end" fill="#000" >0.4</text><line x1="33.90" y1="220.80" x2="37.30" y2="220.80" stroke="#000" stroke-width="0.8"/><text x="31.40" y="224.20" font-size="9.4" text-anchor="end" fill="#000" >0.6</text><line x1="33.90" y1="184.15" x2="37.30" y2="184.15" stroke="#000" stroke-width="0.8"/><text x="31.40" y="187.55" font-size="9.4" text-anchor="end" fill="#000" >0.8</text><line x1="267.60" y1="330.75" x2="267.60" y2="334.15" stroke="#000" stroke-width="0.8"/><text x="267.60" y="343.05" font-size="9.4" text-anchor="middle" fill="#000" >0.0</text><line x1="312.88" y1="330.75" x2="312.88" y2="334.15" stroke="#000" stroke-width="0.8"/><text x="312.88" y="343.05" font-size="9.4" text-anchor="middle" fill="#000" >0.2</text><line x1="358.15" y1="330.75" x2="358.15" y2="334.15" stroke="#000" stroke-width="0.8"/><text x="358.15" y="343.05" font-size="9.4" text-anchor="middle" fill="#000" >0.4</text><line x1="403.43" y1="330.75" x2="403.43" y2="334.15" stroke="#000" stroke-width="0.8"/><text x="403.43" y="343.05" font-size="9.4" text-anchor="middle" fill="#000" >0.6</text><line x1="448.70" y1="330.75" x2="448.70" y2="334.15" stroke="#000" stroke-width="0.8"/><text x="448.70" y="343.05" font-size="9.4" text-anchor="middle" fill="#000" >0.8</text><line x1="264.20" y1="330.75" x2="267.60" y2="330.75" stroke="#000" stroke-width="0.8"/><text x="261.70" y="334.15" font-size="9.4" text-anchor="end" fill="#000" >0.0</text><line x1="264.20" y1="294.10" x2="267.60" y2="294.10" stroke="#000" stroke-width="0.8"/><text x="261.70" y="297.50" font-size="9.4" text-anchor="end" fill="#000" >0.5</text><line x1="264.20" y1="257.45" x2="267.60" y2="257.45" stroke="#000" stroke-width="0.8"/><text x="261.70" y="260.85" font-size="9.4" text-anchor="end" fill="#000" >1.0</text><line x1="264.20" y1="220.80" x2="267.60" y2="220.80" stroke="#000" stroke-width="0.8"/><text x="261.70" y="224.20" font-size="9.4" text-anchor="end" fill="#000" >1.5</text><line x1="264.20" y1="184.15" x2="267.60" y2="184.15" stroke="#000" stroke-width="0.8"/><text x="261.70" y="187.55" font-size="9.4" text-anchor="end" fill="#000" >2.0</text><clipPath id="clip02"><rect x="37.30" y="352.60" width="181.10" height="146.60"/></clipPath><g clip-path="url(#clip02)"><polygon points="35.0,483.7 35.0,486.6 37.3,486.5 44.8,484.6 55.7,481.3 66.8,476.3 67.2,476.1 78.1,471.7 88.3,465.6 98.5,456.9 106.0,449.4 106.7,448.8 114.2,442.5 129.7,427.0 129.8,427.0 136.0,420.8 138.7,417.6 130.4,420.9 118.4,426.9 106.1,436.4 106.0,436.5 100.2,440.9 99.4,441.5 87.8,448.5 87.7,448.5 76.6,455.1 65.4,464.0 54.0,473.2 45.6,481.0 44.9,481.6 44.1,482.2 43.3,482.6 42.5,483.0 41.6,483.3 40.7,483.5 39.7,483.7 38.8,483.7 35.0,483.7" fill="#759adc"/><path d="M171 375h1v1h-1zM161 381h1v1h-1zM174 383h1v1h-1zM157 384h1v1h-1zM159 385h1v1h-1zM166 385h1v1h-1zM172 385h1v1h-1zM152 386h1v1h-1zM164 386h1v1h-1zM173 386h2v1h-2zM142 387h1v1h-1zM166 387h1v1h-1zM171 387h1v1h-1zM174 387h1v1h-1zM176 387h1v1h-1zM178 387h1v1h-1zM173 388h3v1h-3zM186 388h1v1h-1zM129 389h1v1h-1zM167 389h2v1h-2zM171 389h1v1h-1zM173 389h2v1h-2zM180 389h1v1h-1zM163 390h1v1h-1zM169 390h2v1h-2zM175 390h1v1h-1zM179 390h1v1h-1zM146 391h1v1h-1zM158 391h1v1h-1zM162 391h1v1h-1zM168 391h3v1h-3zM173 391h1v1h-1zM175 391h2v1h-2zM179 391h1v1h-1zM137 392h1v1h-1zM164 392h3v1h-3zM168 392h3v1h-3zM172 392h1v1h-1zM112 393h1v1h-1zM140 393h1v1h-1zM148 393h1v1h-1zM153 393h1v1h-1zM155 393h1v1h-1zM164 393h2v1h-2zM167 393h1v1h-1zM169 393h2v1h-2zM182 393h2v1h-2zM151 394h1v1h-1zM154 394h1v1h-1zM158 394h2v1h-2zM162 394h1v1h-1zM164 394h1v1h-1zM166 394h2v1h-2zM169 394h1v1h-1zM171 394h2v1h-2zM133 395h1v1h-1zM148 395h1v1h-1zM151 395h1v1h-1zM153 395h1v1h-1zM161 395h6v1h-6zM168 395h2v1h-2zM172 395h1v1h-1zM144 396h3v1h-3zM149 396h1v1h-1zM151 396h1v1h-1zM156 396h1v1h-1zM159 396h1v1h-1zM162 396h5v1h-5zM169 396h1v1h-1zM175 396h1v1h-1zM178 396h1v1h-1zM124 397h1v1h-1zM128 397h1v1h-1zM146 397h1v1h-1zM159 397h9v1h-9zM170 397h2v1h-2zM174 397h1v1h-1zM178 397h1v1h-1zM117 398h1v1h-1zM144 398h1v1h-1zM147 398h2v1h-2zM151 398h1v1h-1zM153 398h2v1h-2zM156 398h1v1h-1zM158 398h5v1h-5zM164 398h5v1h-5zM171 398h1v1h-1zM179 398h1v1h-1zM136 399h1v1h-1zM140 399h1v1h-1zM146 399h2v1h-2zM150 399h1v1h-1zM152 399h3v1h-3zM157 399h10v1h-10zM174 399h1v1h-1zM183 399h1v1h-1zM106 400h1v1h-1zM134 400h1v1h-1zM147 400h4v1h-4zM152 400h5v1h-5zM158 400h7v1h-7zM166 400h1v1h-1zM168 400h2v1h-2zM173 400h1v1h-1zM144 401h2v1h-2zM147 401h3v1h-3zM151 401h14v1h-14zM171 401h1v1h-1zM180 401h1v1h-1zM118 402h1v1h-1zM134 402h1v1h-1zM140 402h1v1h-1zM142 402h5v1h-5zM148 402h2v1h-2zM151 402h12v1h-12zM167 402h2v1h-2zM129 403h1v1h-1zM138 403h1v1h-1zM142 403h1v1h-1zM145 403h4v1h-4zM150 403h12v1h-12zM164 403h3v1h-3zM131 404h1v1h-1zM133 404h1v1h-1zM139 404h2v1h-2zM144 404h2v1h-2zM147 404h1v1h-1zM149 404h6v1h-6zM156 404h5v1h-5zM163 404h1v1h-1zM166 404h1v1h-1zM169 404h1v1h-1zM73 405h1v1h-1zM126 405h1v1h-1zM132 405h1v1h-1zM134 405h1v1h-1zM136 405h2v1h-2zM139 405h3v1h-3zM144 405h15v1h-15zM160 405h1v1h-1zM162 405h2v1h-2zM166 405h1v1h-1zM168 405h1v1h-1zM63 406h1v1h-1zM118 406h1v1h-1zM120 406h1v1h-1zM124 406h1v1h-1zM128 406h1v1h-1zM130 406h2v1h-2zM136 406h1v1h-1zM138 406h2v1h-2zM141 406h16v1h-16zM158 406h2v1h-2zM161 406h1v1h-1zM125 407h1v1h-1zM128 407h1v1h-1zM130 407h1v1h-1zM134 407h3v1h-3zM138 407h20v1h-20zM159 407h1v1h-1zM120 408h1v1h-1zM123 408h3v1h-3zM127 408h1v1h-1zM129 408h1v1h-1zM131 408h1v1h-1zM134 408h1v1h-1zM136 408h22v1h-22zM159 408h2v1h-2zM92 409h1v1h-1zM115 409h1v1h-1zM123 409h2v1h-2zM127 409h2v1h-2zM130 409h1v1h-1zM134 409h1v1h-1zM136 409h17v1h-17zM154 409h3v1h-3zM158 409h1v1h-1zM162 409h1v1h-1zM105 410h1v1h-1zM114 410h1v1h-1zM118 410h1v1h-1zM121 410h1v1h-1zM124 410h1v1h-1zM127 410h2v1h-2zM130 410h2v1h-2zM134 410h23v1h-23zM113 411h1v1h-1zM115 411h1v1h-1zM117 411h2v1h-2zM123 411h1v1h-1zM127 411h9v1h-9zM137 411h17v1h-17zM155 411h2v1h-2zM158 411h1v1h-1zM160 411h2v1h-2zM163 411h1v1h-1zM167 411h1v1h-1zM104 412h1v1h-1zM113 412h1v1h-1zM115 412h1v1h-1zM121 412h1v1h-1zM125 412h10v1h-10zM136 412h20v1h-20zM161 412h1v1h-1zM163 412h1v1h-1zM104 413h2v1h-2zM110 413h1v1h-1zM112 413h1v1h-1zM115 413h2v1h-2zM121 413h1v1h-1zM123 413h2v1h-2zM126 413h23v1h-23zM150 413h6v1h-6zM108 414h1v1h-1zM112 414h1v1h-1zM114 414h1v1h-1zM116 414h4v1h-4zM124 414h29v1h-29zM157 414h1v1h-1zM102 415h1v1h-1zM109 415h1v1h-1zM113 415h3v1h-3zM117 415h2v1h-2zM120 415h31v1h-31zM153 415h1v1h-1zM155 415h1v1h-1zM157 415h1v1h-1zM159 415h1v1h-1zM161 415h1v1h-1zM112 416h2v1h-2zM116 416h1v1h-1zM118 416h33v1h-33zM152 416h2v1h-2zM155 416h1v1h-1zM168 416h1v1h-1zM95 417h1v1h-1zM109 417h1v1h-1zM114 417h2v1h-2zM117 417h32v1h-32zM150 417h1v1h-1zM156 417h1v1h-1zM95 418h2v1h-2zM103 418h1v1h-1zM107 418h1v1h-1zM112 418h2v1h-2zM115 418h8v1h-8zM124 418h26v1h-26zM152 418h2v1h-2zM100 419h1v1h-1zM109 419h38v1h-38zM149 419h2v1h-2zM152 419h1v1h-1zM154 419h1v1h-1zM62 420h1v1h-1zM80 420h1v1h-1zM92 420h1v1h-1zM97 420h1v1h-1zM103 420h1v1h-1zM107 420h1v1h-1zM109 420h1v1h-1zM111 420h1v1h-1zM113 420h34v1h-34zM149 420h4v1h-4zM105 421h2v1h-2zM109 421h2v1h-2zM112 421h20v1h-20zM134 421h22v1h-22zM59 422h1v1h-1zM91 422h1v1h-1zM101 422h4v1h-4zM106 422h8v1h-8zM115 422h15v1h-15zM133 422h13v1h-13zM147 422h5v1h-5zM50 423h1v1h-1zM86 423h1v1h-1zM88 423h1v1h-1zM101 423h1v1h-1zM103 423h2v1h-2zM106 423h1v1h-1zM108 423h20v1h-20zM132 423h15v1h-15zM152 423h1v1h-1zM158 423h1v1h-1zM161 423h1v1h-1zM79 424h1v1h-1zM88 424h1v1h-1zM93 424h1v1h-1zM98 424h1v1h-1zM100 424h2v1h-2zM104 424h1v1h-1zM106 424h2v1h-2zM109 424h17v1h-17zM131 424h12v1h-12zM144 424h2v1h-2zM148 424h2v1h-2zM78 425h1v1h-1zM88 425h1v1h-1zM96 425h1v1h-1zM98 425h2v1h-2zM101 425h2v1h-2zM104 425h1v1h-1zM106 425h1v1h-1zM108 425h16v1h-16zM130 425h11v1h-11zM143 425h2v1h-2zM146 425h2v1h-2zM157 425h1v1h-1zM84 426h1v1h-1zM90 426h1v1h-1zM97 426h1v1h-1zM102 426h4v1h-4zM107 426h15v1h-15zM129 426h15v1h-15zM145 426h1v1h-1zM147 426h1v1h-1zM150 426h1v1h-1zM166 426h1v1h-1zM95 427h1v1h-1zM97 427h2v1h-2zM100 427h2v1h-2zM103 427h17v1h-17zM128 427h14v1h-14zM143 427h4v1h-4zM47 428h1v1h-1zM91 428h1v1h-1zM94 428h1v1h-1zM99 428h19v1h-19zM127 428h17v1h-17zM147 428h1v1h-1zM152 428h1v1h-1zM84 429h1v1h-1zM93 429h1v1h-1zM95 429h1v1h-1zM99 429h4v1h-4zM104 429h13v1h-13zM126 429h12v1h-12zM139 429h2v1h-2zM142 429h2v1h-2zM145 429h2v1h-2zM149 429h1v1h-1zM75 430h1v1h-1zM84 430h1v1h-1zM87 430h1v1h-1zM90 430h2v1h-2zM94 430h1v1h-1zM96 430h1v1h-1zM98 430h4v1h-4zM103 430h13v1h-13zM125 430h16v1h-16zM143 430h1v1h-1zM77 431h1v1h-1zM79 431h1v1h-1zM91 431h1v1h-1zM93 431h2v1h-2zM97 431h4v1h-4zM102 431h12v1h-12zM124 431h11v1h-11zM136 431h2v1h-2zM139 431h3v1h-3zM146 431h1v1h-1zM149 431h1v1h-1zM83 432h1v1h-1zM86 432h1v1h-1zM88 432h1v1h-1zM91 432h3v1h-3zM95 432h1v1h-1zM98 432h15v1h-15zM123 432h16v1h-16zM140 432h2v1h-2zM147 432h1v1h-1zM40 433h1v1h-1zM59 433h1v1h-1zM75 433h1v1h-1zM83 433h1v1h-1zM87 433h1v1h-1zM91 433h1v1h-1zM94 433h18v1h-18zM122 433h14v1h-14zM138 433h2v1h-2zM145 433h1v1h-1zM73 434h1v1h-1zM80 434h1v1h-1zM82 434h1v1h-1zM86 434h1v1h-1zM88 434h1v1h-1zM90 434h1v1h-1zM92 434h1v1h-1zM94 434h17v1h-17zM121 434h15v1h-15zM141 434h2v1h-2zM146 434h1v1h-1zM151 434h1v1h-1zM72 435h1v1h-1zM75 435h4v1h-4zM86 435h1v1h-1zM91 435h3v1h-3zM95 435h14v1h-14zM120 435h17v1h-17zM141 435h2v1h-2zM161 435h1v1h-1zM42 436h1v1h-1zM61 436h1v1h-1zM74 436h2v1h-2zM80 436h1v1h-1zM82 436h1v1h-1zM85 436h3v1h-3zM90 436h18v1h-18zM119 436h12v1h-12zM133 436h5v1h-5zM141 436h1v1h-1zM143 436h1v1h-1zM66 437h1v1h-1zM69 437h1v1h-1zM71 437h2v1h-2zM74 437h1v1h-1zM79 437h2v1h-2zM82 437h1v1h-1zM84 437h3v1h-3zM88 437h4v1h-4zM93 437h14v1h-14zM118 437h13v1h-13zM132 437h3v1h-3zM136 437h1v1h-1zM139 437h1v1h-1zM42 438h1v1h-1zM76 438h3v1h-3zM80 438h25v1h-25zM117 438h14v1h-14zM132 438h1v1h-1zM134 438h1v1h-1zM65 439h1v1h-1zM70 439h2v1h-2zM75 439h1v1h-1zM80 439h5v1h-5zM86 439h2v1h-2zM89 439h15v1h-15zM116 439h16v1h-16zM56 440h1v1h-1zM63 440h1v1h-1zM66 440h1v1h-1zM69 440h1v1h-1zM71 440h1v1h-1zM74 440h1v1h-1zM77 440h6v1h-6zM84 440h19v1h-19zM115 440h16v1h-16zM132 440h1v1h-1zM140 440h1v1h-1zM158 440h1v1h-1zM62 441h2v1h-2zM67 441h1v1h-1zM71 441h1v1h-1zM77 441h4v1h-4zM82 441h19v1h-19zM114 441h11v1h-11zM126 441h4v1h-4zM131 441h2v1h-2zM137 441h1v1h-1zM140 441h1v1h-1zM59 442h2v1h-2zM70 442h1v1h-1zM73 442h1v1h-1zM78 442h1v1h-1zM80 442h7v1h-7zM88 442h12v1h-12zM112 442h18v1h-18zM131 442h1v1h-1zM137 442h1v1h-1zM45 443h1v1h-1zM58 443h1v1h-1zM62 443h1v1h-1zM72 443h2v1h-2zM78 443h1v1h-1zM80 443h2v1h-2zM84 443h14v1h-14zM111 443h15v1h-15zM127 443h1v1h-1zM129 443h1v1h-1zM132 443h1v1h-1zM49 444h2v1h-2zM56 444h1v1h-1zM65 444h3v1h-3zM71 444h1v1h-1zM74 444h7v1h-7zM82 444h15v1h-15zM110 444h14v1h-14zM125 444h1v1h-1zM129 444h1v1h-1zM131 444h2v1h-2zM136 444h1v1h-1zM66 445h1v1h-1zM68 445h4v1h-4zM74 445h5v1h-5zM80 445h15v1h-15zM109 445h14v1h-14zM124 445h5v1h-5zM43 446h1v1h-1zM54 446h1v1h-1zM56 446h1v1h-1zM68 446h2v1h-2zM73 446h1v1h-1zM75 446h18v1h-18zM108 446h14v1h-14zM123 446h1v1h-1zM125 446h2v1h-2zM128 446h5v1h-5zM146 446h1v1h-1zM46 447h1v1h-1zM53 447h1v1h-1zM56 447h1v1h-1zM65 447h2v1h-2zM68 447h1v1h-1zM71 447h1v1h-1zM73 447h3v1h-3zM77 447h1v1h-1zM79 447h13v1h-13zM106 447h19v1h-19zM128 447h2v1h-2zM58 448h1v1h-1zM63 448h1v1h-1zM65 448h1v1h-1zM67 448h1v1h-1zM69 448h4v1h-4zM74 448h16v1h-16zM105 448h17v1h-17zM123 448h2v1h-2zM55 449h1v1h-1zM57 449h1v1h-1zM59 449h1v1h-1zM62 449h3v1h-3zM66 449h1v1h-1zM68 449h1v1h-1zM71 449h17v1h-17zM104 449h16v1h-16zM121 449h1v1h-1zM123 449h1v1h-1zM126 449h1v1h-1zM40 450h1v1h-1zM43 450h1v1h-1zM46 450h1v1h-1zM49 450h1v1h-1zM57 450h1v1h-1zM60 450h4v1h-4zM65 450h2v1h-2zM70 450h17v1h-17zM103 450h21v1h-21zM129 450h1v1h-1zM139 450h1v1h-1zM47 451h1v1h-1zM55 451h1v1h-1zM62 451h23v1h-23zM102 451h18v1h-18zM124 451h1v1h-1zM43 452h1v1h-1zM46 452h2v1h-2zM49 452h1v1h-1zM51 452h1v1h-1zM56 452h1v1h-1zM59 452h6v1h-6zM66 452h3v1h-3zM70 452h13v1h-13zM101 452h16v1h-16zM118 452h5v1h-5zM126 452h1v1h-1zM147 452h1v1h-1zM39 453h1v1h-1zM43 453h1v1h-1zM47 453h2v1h-2zM52 453h2v1h-2zM55 453h1v1h-1zM59 453h1v1h-1zM61 453h1v1h-1zM64 453h18v1h-18zM100 453h17v1h-17zM118 453h3v1h-3zM122 453h2v1h-2zM46 454h2v1h-2zM51 454h1v1h-1zM57 454h3v1h-3zM62 454h1v1h-1zM64 454h16v1h-16zM99 454h15v1h-15zM115 454h4v1h-4zM120 454h1v1h-1zM122 454h1v1h-1zM127 454h1v1h-1zM130 454h1v1h-1zM38 455h1v1h-1zM40 455h1v1h-1zM44 455h1v1h-1zM52 455h1v1h-1zM56 455h1v1h-1zM59 455h19v1h-19zM98 455h15v1h-15zM114 455h2v1h-2zM121 455h1v1h-1zM40 456h1v1h-1zM47 456h1v1h-1zM49 456h1v1h-1zM51 456h1v1h-1zM54 456h3v1h-3zM58 456h5v1h-5zM65 456h12v1h-12zM97 456h14v1h-14zM112 456h2v1h-2zM120 456h1v1h-1zM122 456h1v1h-1zM128 456h1v1h-1zM45 457h2v1h-2zM48 457h1v1h-1zM51 457h1v1h-1zM55 457h2v1h-2zM58 457h2v1h-2zM61 457h15v1h-15zM96 457h15v1h-15zM112 457h1v1h-1zM119 457h1v1h-1zM48 458h2v1h-2zM55 458h1v1h-1zM57 458h2v1h-2zM60 458h14v1h-14zM95 458h16v1h-16zM113 458h1v1h-1zM115 458h1v1h-1zM140 458h1v1h-1zM40 459h1v1h-1zM44 459h1v1h-1zM53 459h9v1h-9zM63 459h10v1h-10zM94 459h14v1h-14zM109 459h4v1h-4zM114 459h2v1h-2zM41 460h1v1h-1zM45 460h2v1h-2zM50 460h1v1h-1zM52 460h1v1h-1zM54 460h2v1h-2zM59 460h13v1h-13zM92 460h15v1h-15zM108 460h2v1h-2zM112 460h2v1h-2zM43 461h1v1h-1zM46 461h4v1h-4zM53 461h1v1h-1zM55 461h16v1h-16zM91 461h16v1h-16zM111 461h1v1h-1zM116 461h1v1h-1zM43 462h4v1h-4zM52 462h17v1h-17zM90 462h16v1h-16zM107 462h2v1h-2zM43 463h1v1h-1zM45 463h4v1h-4zM50 463h2v1h-2zM53 463h15v1h-15zM89 463h14v1h-14zM105 463h3v1h-3zM109 463h1v1h-1zM39 464h1v1h-1zM46 464h21v1h-21zM88 464h15v1h-15zM105 464h1v1h-1zM107 464h1v1h-1zM38 465h1v1h-1zM42 465h1v1h-1zM45 465h1v1h-1zM47 465h1v1h-1zM49 465h1v1h-1zM51 465h15v1h-15zM86 465h13v1h-13zM101 465h2v1h-2zM106 465h1v1h-1zM110 465h1v1h-1zM114 465h1v1h-1zM39 466h1v1h-1zM41 466h1v1h-1zM43 466h3v1h-3zM47 466h1v1h-1zM49 466h4v1h-4zM54 466h10v1h-10zM84 466h17v1h-17zM102 466h1v1h-1zM104 466h2v1h-2zM109 466h1v1h-1zM44 467h2v1h-2zM47 467h3v1h-3zM51 467h12v1h-12zM83 467h18v1h-18zM102 467h2v1h-2zM105 467h1v1h-1zM42 468h3v1h-3zM46 468h4v1h-4zM52 468h10v1h-10zM81 468h23v1h-23zM41 469h1v1h-1zM43 469h2v1h-2zM46 469h5v1h-5zM52 469h9v1h-9zM79 469h19v1h-19zM99 469h2v1h-2zM102 469h1v1h-1zM106 469h1v1h-1zM38 470h2v1h-2zM41 470h18v1h-18zM78 470h18v1h-18zM97 470h4v1h-4zM102 470h1v1h-1zM107 470h1v1h-1zM109 470h1v1h-1zM126 470h1v1h-1zM39 471h1v1h-1zM41 471h2v1h-2zM45 471h13v1h-13zM75 471h21v1h-21zM98 471h2v1h-2zM101 471h1v1h-1zM108 471h1v1h-1zM110 471h1v1h-1zM38 472h2v1h-2zM41 472h1v1h-1zM43 472h14v1h-14zM73 472h24v1h-24zM99 472h2v1h-2zM103 472h1v1h-1zM38 473h2v1h-2zM41 473h15v1h-15zM70 473h20v1h-20zM91 473h2v1h-2zM94 473h3v1h-3zM98 473h1v1h-1zM38 474h1v1h-1zM40 474h14v1h-14zM68 474h21v1h-21zM91 474h1v1h-1zM93 474h1v1h-1zM38 475h1v1h-1zM40 475h4v1h-4zM45 475h8v1h-8zM66 475h25v1h-25zM92 475h2v1h-2zM95 475h1v1h-1zM97 475h1v1h-1zM100 475h1v1h-1zM104 475h1v1h-1zM38 476h3v1h-3zM42 476h10v1h-10zM63 476h25v1h-25zM89 476h3v1h-3zM95 476h1v1h-1zM98 476h1v1h-1zM38 477h2v1h-2zM41 477h10v1h-10zM61 477h25v1h-25zM87 477h2v1h-2zM94 477h1v1h-1zM38 478h3v1h-3zM42 478h8v1h-8zM59 478h24v1h-24zM84 478h4v1h-4zM92 478h1v1h-1zM95 478h1v1h-1zM99 478h1v1h-1zM38 479h2v1h-2zM41 479h8v1h-8zM57 479h29v1h-29zM87 479h1v1h-1zM93 479h1v1h-1zM38 480h10v1h-10zM54 480h30v1h-30zM85 480h3v1h-3zM38 481h9v1h-9zM51 481h34v1h-34zM38 482h8v1h-8zM48 482h28v1h-28zM77 482h2v1h-2zM80 482h2v1h-2zM84 482h1v1h-1zM86 482h1v1h-1zM38 483h32v1h-32zM72 483h1v1h-1zM75 483h1v1h-1zM77 483h4v1h-4zM88 483h1v1h-1zM38 484h34v1h-34zM73 484h1v1h-1zM75 484h2v1h-2zM79 484h2v1h-2zM110 484h1v1h-1zM38 485h30v1h-30zM69 485h3v1h-3zM73 485h1v1h-1zM80 485h1v1h-1zM83 485h1v1h-1zM38 486h24v1h-24zM63 486h4v1h-4zM68 486h2v1h-2zM79 486h1v1h-1zM81 486h1v1h-1zM38 487h30v1h-30zM70 487h1v1h-1zM75 487h1v1h-1zM85 487h1v1h-1zM38 488h7v1h-7zM46 488h16v1h-16zM64 488h1v1h-1zM38 489h23v1h-23zM63 489h1v1h-1zM66 489h2v1h-2zM101 489h1v1h-1zM38 490h22v1h-22zM61 490h1v1h-1zM63 490h2v1h-2zM66 490h2v1h-2zM38 491h20v1h-20zM59 491h1v1h-1zM63 491h1v1h-1zM68 491h1v1h-1zM38 492h10v1h-10zM49 492h5v1h-5zM55 492h3v1h-3zM60 492h1v1h-1zM62 492h2v1h-2zM66 492h1v1h-1zM73 492h1v1h-1zM81 492h1v1h-1zM88 492h1v1h-1zM122 492h1v1h-1zM40 493h11v1h-11zM52 493h2v1h-2zM55 493h2v1h-2zM63 493h1v1h-1zM77 493h1v1h-1zM38 494h9v1h-9zM49 494h1v1h-1zM53 494h1v1h-1zM57 494h1v1h-1zM69 494h1v1h-1zM38 495h2v1h-2zM41 495h2v1h-2zM45 495h1v1h-1zM48 495h2v1h-2zM53 495h1v1h-1zM56 495h3v1h-3zM66 495h1v1h-1zM71 495h1v1h-1zM38 496h1v1h-1zM41 496h1v1h-1zM44 496h1v1h-1zM48 496h1v1h-1zM53 496h1v1h-1zM89 496h1v1h-1zM38 497h1v1h-1zM41 497h2v1h-2zM46 497h2v1h-2zM50 497h1v1h-1zM39 498h1v1h-1zM46 498h2v1h-2zM39 499h1v1h-1z" fill="#759adc"/><line x1="37.30" y1="499.20" x2="218.40" y2="352.60" stroke="#f02020" stroke-width="1.3" stroke-dasharray="1.3 2.0" stroke-linecap="butt"/><line x1="37.30" y1="496.05" x2="218.40" y2="359.87" stroke="#000" stroke-width="1.3"/></g><text x="47.90" y="367.70" font-size="10.50" text-anchor="start" textLength="62.43" lengthAdjust="spacingAndGlyphs" fill="#000" >n = 141,830</text><text x="47.90" y="378.50" font-size="10.50" text-anchor="start" textLength="104.93" lengthAdjust="spacingAndGlyphs" fill="#000" >y = 0.9289x+0.0172</text><text x="47.90" y="389.20" font-size="10.50" text-anchor="start" textLength="53.84" lengthAdjust="spacingAndGlyphs" fill="#000" >r = 0.9670</text><text x="47.90" y="402.30" font-size="10.50" text-anchor="start" textLength="77.97" lengthAdjust="spacingAndGlyphs" fill="#000" >RMSE = 0.0269</text><text x="160.25" y="469.60" font-size="12.25" text-anchor="start" textLength="43.67" lengthAdjust="spacingAndGlyphs" fill="#000" >Layer 3</text><rect x="37.30" y="352.60" width="181.10" height="146.60" fill="none" stroke="#000" stroke-width="0.8"/><clipPath id="clip12"><rect x="267.60" y="352.60" width="181.10" height="146.60"/></clipPath><g clip-path="url(#clip12)"><path d="M268.50,498.80 C269.64,494.69 269.60,496.02 272.30,485.10 C275.00,474.18 274.62,476.05 277.50,462.40 C280.38,448.75 279.53,451.69 281.90,439.60 C284.27,427.51 283.57,428.94 285.40,422.10 C287.23,415.26 286.02,419.29 288.00,416.80 C289.98,414.31 289.36,415.78 292.00,413.80 C294.64,411.82 294.58,412.03 296.80,410.20 C299.02,408.37 297.84,408.18 299.40,407.70 C300.96,407.22 300.32,409.71 302.00,408.60 C303.68,407.49 302.36,408.89 305.00,404.00 C307.64,399.11 306.96,398.45 310.80,392.30 C314.64,386.15 313.87,389.02 317.80,383.50 C321.73,377.98 321.02,376.51 323.90,373.90 C326.78,371.29 325.54,374.26 327.40,374.80 C329.26,375.34 328.51,377.02 330.10,375.70 C331.69,374.38 331.14,372.89 332.70,370.40 C334.26,367.91 333.71,367.13 335.30,367.40 C336.89,367.67 336.14,366.47 338.00,371.30 C339.86,376.13 339.16,375.61 341.50,383.50 C343.84,391.39 343.55,391.45 345.80,397.60 C348.05,403.75 347.14,397.70 349.00,404.00 C350.86,410.30 350.05,407.92 352.00,418.60 C353.95,429.28 353.40,427.51 355.50,439.60 C357.60,451.69 356.90,448.40 359.00,458.90 C361.10,469.40 359.62,466.20 362.50,474.60 C365.38,483.00 364.67,481.62 368.60,486.90 C372.53,492.18 371.91,490.22 375.60,492.20 C379.29,494.18 377.48,491.94 380.90,493.50 C384.32,495.06 383.67,495.81 387.00,497.40 C390.33,498.99 390.50,498.38 392.00,498.80 L392.00,499.20 L268.50,499.20 Z" fill="#6495ed" fill-opacity="0.25" stroke="none"/><path d="M268.50,498.80 C269.64,494.69 269.60,496.02 272.30,485.10 C275.00,474.18 274.62,476.05 277.50,462.40 C280.38,448.75 279.53,451.69 281.90,439.60 C284.27,427.51 283.57,428.94 285.40,422.10 C287.23,415.26 286.02,419.29 288.00,416.80 C289.98,414.31 289.36,415.78 292.00,413.80 C294.64,411.82 294.58,412.03 296.80,410.20 C299.02,408.37 297.84,408.18 299.40,407.70 C300.96,407.22 300.32,409.71 302.00,408.60 C303.68,407.49 302.36,408.89 305.00,404.00 C307.64,399.11 306.96,398.45 310.80,392.30 C314.64,386.15 313.87,389.02 317.80,383.50 C321.73,377.98 321.02,376.51 323.90,373.90 C326.78,371.29 325.54,374.26 327.40,374.80 C329.26,375.34 328.51,377.02 330.10,375.70 C331.69,374.38 331.14,372.89 332.70,370.40 C334.26,367.91 333.71,367.13 335.30,367.40 C336.89,367.67 336.14,366.47 338.00,371.30 C339.86,376.13 339.16,375.61 341.50,383.50 C343.84,391.39 343.55,391.45 345.80,397.60 C348.05,403.75 347.14,397.70 349.00,404.00 C350.86,410.30 350.05,407.92 352.00,418.60 C353.95,429.28 353.40,427.51 355.50,439.60 C357.60,451.69 356.90,448.40 359.00,458.90 C361.10,469.40 359.62,466.20 362.50,474.60 C365.38,483.00 364.67,481.62 368.60,486.90 C372.53,492.18 371.91,490.22 375.60,492.20 C379.29,494.18 377.48,491.94 380.90,493.50 C384.32,495.06 383.67,495.81 387.00,497.40 C390.33,498.99 390.50,498.38 392.00,498.80" fill="none" stroke="#6495ed" stroke-width="0.85"/><path d="M267.90,497.40 C268.68,493.71 268.13,495.60 270.50,485.10 C272.87,474.60 272.65,476.05 275.80,462.40 C278.95,448.75 278.39,451.69 281.00,439.60 C283.61,427.51 282.67,428.94 284.50,422.10 C286.33,415.26 285.00,419.17 287.10,416.80 C289.20,414.43 288.59,416.03 291.50,414.20 C294.41,412.37 293.65,412.53 296.80,410.70 C299.95,408.87 299.63,409.93 302.00,408.10 C304.37,406.27 302.33,408.29 304.70,404.60 C307.07,400.91 306.48,400.54 309.90,395.80 C313.32,391.06 312.68,393.00 316.10,388.80 C319.52,384.60 318.69,384.17 321.30,381.80 C323.91,379.43 322.70,380.81 324.80,380.90 C326.90,380.99 326.20,382.37 328.30,382.10 C330.40,381.83 329.97,381.41 331.80,380.00 C333.63,378.59 332.81,377.40 334.40,377.40 C335.99,377.40 335.24,377.12 337.10,380.00 C338.96,382.88 338.23,382.80 340.60,387.00 C342.97,391.20 342.39,389.26 345.00,394.00 C347.61,398.74 346.96,395.42 349.30,402.80 C351.64,410.18 350.70,407.56 352.80,418.60 C354.90,429.64 354.17,427.51 356.30,439.60 C358.43,451.69 357.77,448.40 359.90,458.90 C362.03,469.40 360.79,466.74 363.40,474.60 C366.01,482.46 364.94,480.09 368.60,485.10 C372.26,490.11 371.91,488.93 375.60,491.30 C379.29,493.67 377.48,491.17 380.90,493.00 C384.32,494.83 383.67,495.66 387.00,497.40 C390.33,499.14 390.50,498.38 392.00,498.80 L392.00,499.20 L267.90,499.20 Z" fill="#90ee90" fill-opacity="0.25" stroke="none"/><path d="M267.90,497.40 C268.68,493.71 268.13,495.60 270.50,485.10 C272.87,474.60 272.65,476.05 275.80,462.40 C278.95,448.75 278.39,451.69 281.00,439.60 C283.61,427.51 282.67,428.94 284.50,422.10 C286.33,415.26 285.00,419.17 287.10,416.80 C289.20,414.43 288.59,416.03 291.50,414.20 C294.41,412.37 293.65,412.53 296.80,410.70 C299.95,408.87 299.63,409.93 302.00,408.10 C304.37,406.27 302.33,408.29 304.70,404.60 C307.07,400.91 306.48,400.54 309.90,395.80 C313.32,391.06 312.68,393.00 316.10,388.80 C319.52,384.60 318.69,384.17 321.30,381.80 C323.91,379.43 322.70,380.81 324.80,380.90 C326.90,380.99 326.20,382.37 328.30,382.10 C330.40,381.83 329.97,381.41 331.80,380.00 C333.63,378.59 332.81,377.40 334.40,377.40 C335.99,377.40 335.24,377.12 337.10,380.00 C338.96,382.88 338.23,382.80 340.60,387.00 C342.97,391.20 342.39,389.26 345.00,394.00 C347.61,398.74 346.96,395.42 349.30,402.80 C351.64,410.18 350.70,407.56 352.80,418.60 C354.90,429.64 354.17,427.51 356.30,439.60 C358.43,451.69 357.77,448.40 359.90,458.90 C362.03,469.40 360.79,466.74 363.40,474.60 C366.01,482.46 364.94,480.09 368.60,485.10 C372.26,490.11 371.91,488.93 375.60,491.30 C379.29,493.67 377.48,491.17 380.90,493.00 C384.32,494.83 383.67,495.66 387.00,497.40 C390.33,499.14 390.50,498.38 392.00,498.80" fill="none" stroke="#90ee90" stroke-width="0.85"/></g><rect x="386.60" y="356.20" width="57.9" height="26.6" rx="1.8" fill="#fff" fill-opacity="0.8" stroke="#d6d6d6" stroke-width="0.8"/><rect x="389.6" y="360.40" width="16.8" height="6.2" fill="#90ee90" fill-opacity="0.25" stroke="#90ee90" stroke-width="0.8"/><rect x="389.6" y="372.00" width="16.8" height="6.2" fill="#6495ed" fill-opacity="0.25" stroke="#6495ed" stroke-width="0.8"/><text x="412.20" y="366.20" font-size="8.82" text-anchor="start" textLength="25.80" lengthAdjust="spacingAndGlyphs" fill="#000" >In situ</text><text x="412.30" y="378.10" font-size="8.82" text-anchor="start" textLength="29.08" lengthAdjust="spacingAndGlyphs" fill="#000" >SMRFR</text><rect x="267.60" y="352.60" width="181.10" height="146.60" fill="none" stroke="#000" stroke-width="0.8"/><clipPath id="clip22"><rect x="497.90" y="352.60" width="181.10" height="146.60"/></clipPath><g clip-path="url(#clip22)"><line x1="516.01" y1="359.00" x2="516.01" y2="489.50" stroke="#656565" stroke-width="1.4"/><path d="M516.01,409.80 C515.89,411.67 515.83,413.73 515.56,416.80 C515.29,419.87 515.93,417.57 515.01,421.30 C514.09,425.03 513.58,425.92 512.11,430.80 C510.64,435.68 511.38,434.91 509.51,439.60 C507.64,444.29 506.98,444.19 505.11,448.40 C503.24,452.61 502.88,452.15 502.51,455.40 C502.14,458.65 502.78,457.80 503.71,460.60 C504.64,463.40 505.85,463.10 506.01,465.90 C506.17,468.70 503.83,468.30 504.31,471.10 C504.79,473.90 505.25,473.60 507.81,476.40 C510.37,479.20 511.96,479.95 513.91,481.60 C515.86,483.25 514.55,481.67 515.11,482.60 C515.67,483.53 515.77,484.43 516.01,485.10 L516.01,485.10 L516.01,409.80 Z" fill="#a6e1a6" stroke="#656565" stroke-width="1.2" stroke-linejoin="round"/><path d="M516.01,411.60 C516.13,413.47 516.19,415.53 516.46,418.60 C516.73,421.67 515.82,419.85 517.01,423.10 C518.20,426.35 519.39,426.40 520.91,430.80 C522.43,435.20 521.54,435.39 522.71,439.60 C523.88,443.81 523.23,442.39 525.31,446.60 C527.39,450.81 529.44,451.67 530.51,455.40 C531.58,459.13 530.56,457.80 529.31,460.60 C528.06,463.40 526.18,462.62 525.81,465.90 C525.44,469.18 528.28,469.65 527.91,472.90 C527.54,476.15 526.97,475.54 524.41,478.10 C521.85,480.66 520.31,481.30 518.31,482.50 C516.31,483.70 517.52,481.91 516.91,482.60 C516.30,483.29 516.25,484.43 516.01,485.10 L516.01,485.10 L516.01,411.60 Z" fill="#7f9fd7" stroke="#656565" stroke-width="1.2" stroke-linejoin="round"/><line x1="505.56" y1="447.50" x2="516.01" y2="447.50" stroke="#656565" stroke-width="1.2" stroke-dasharray="2.6 2.6"/><line x1="502.90" y1="457.10" x2="516.01" y2="457.10" stroke="#656565" stroke-width="1.2" stroke-dasharray="5.3 5.3"/><line x1="505.32" y1="468.00" x2="516.01" y2="468.00" stroke="#656565" stroke-width="1.2" stroke-dasharray="2.6 2.6"/><line x1="516.01" y1="447.50" x2="525.84" y2="447.50" stroke="#656565" stroke-width="1.2" stroke-dasharray="2.6 2.6"/><line x1="516.01" y1="456.60" x2="530.23" y2="456.60" stroke="#656565" stroke-width="1.2" stroke-dasharray="5.3 5.3"/><line x1="516.01" y1="468.00" x2="526.44" y2="468.00" stroke="#656565" stroke-width="1.2" stroke-dasharray="2.6 2.6"/><line x1="552.23" y1="397.60" x2="552.23" y2="492.20" stroke="#656565" stroke-width="1.4"/><path d="M552.23,388.80 C552.11,390.67 552.05,392.73 551.78,395.80 C551.51,398.87 552.42,397.02 551.23,400.30 C550.04,403.58 548.48,404.63 547.33,408.10 C546.18,411.57 547.86,410.05 546.93,413.30 C546.00,416.55 545.22,416.09 543.83,420.30 C542.44,424.51 541.97,423.95 541.73,429.10 C541.49,434.25 542.85,434.00 542.93,439.60 C543.01,445.20 542.96,444.50 542.03,450.10 C541.10,455.70 540.44,455.00 539.43,460.60 C538.42,466.20 537.54,465.95 538.23,471.10 C538.92,476.25 539.15,475.69 542.03,479.90 C544.91,484.11 546.55,484.87 549.03,486.90 C551.51,488.93 550.48,486.67 551.33,487.50 C552.18,488.33 551.99,489.33 552.23,490.00 L552.23,490.00 L552.23,388.80 Z" fill="#a6e1a6" stroke="#656565" stroke-width="1.2" stroke-linejoin="round"/><path d="M552.23,388.80 C552.35,390.67 552.41,392.73 552.68,395.80 C552.95,398.87 552.23,397.02 553.23,400.30 C554.23,403.58 555.20,404.63 556.43,408.10 C557.66,411.57 556.76,410.05 557.83,413.30 C558.90,416.55 559.02,416.09 560.43,420.30 C561.84,424.51 562.89,423.95 563.13,429.10 C563.37,434.25 561.81,434.00 561.33,439.60 C560.85,445.20 560.66,444.50 561.33,450.10 C562.00,455.70 562.34,455.00 563.83,460.60 C565.32,466.20 567.12,465.95 566.93,471.10 C566.74,476.25 566.25,475.69 563.13,479.90 C560.01,484.11 557.90,484.87 555.23,486.90 C552.56,488.93 553.93,486.67 553.13,487.50 C552.33,488.33 552.47,489.33 552.23,490.00 L552.23,490.00 L552.23,388.80 Z" fill="#7f9fd7" stroke="#656565" stroke-width="1.2" stroke-linejoin="round"/><line x1="541.97" y1="431.20" x2="552.23" y2="431.20" stroke="#656565" stroke-width="1.2" stroke-dasharray="2.6 2.6"/><line x1="541.39" y1="452.70" x2="552.23" y2="452.70" stroke="#656565" stroke-width="1.2" stroke-dasharray="5.3 5.3"/><line x1="538.32" y1="470.30" x2="552.23" y2="470.30" stroke="#656565" stroke-width="1.2" stroke-dasharray="2.6 2.6"/><line x1="552.23" y1="430.50" x2="562.89" y2="430.50" stroke="#656565" stroke-width="1.2" stroke-dasharray="2.6 2.6"/><line x1="552.23" y1="452.70" x2="561.95" y2="452.70" stroke="#656565" stroke-width="1.2" stroke-dasharray="5.3 5.3"/><line x1="552.23" y1="469.40" x2="566.43" y2="469.40" stroke="#656565" stroke-width="1.2" stroke-dasharray="2.6 2.6"/><line x1="588.45" y1="376.40" x2="588.45" y2="489.20" stroke="#656565" stroke-width="1.4"/><path d="M588.45,403.70 C588.33,405.57 588.27,407.63 588.00,410.70 C587.73,413.77 588.85,411.55 587.45,415.20 C586.05,418.85 585.12,420.16 582.75,424.40 C580.38,428.64 580.58,426.83 578.55,431.10 C576.52,435.37 575.15,435.89 575.15,440.40 C575.15,444.91 576.76,443.73 578.55,448.00 C580.34,452.27 581.05,451.47 581.85,456.40 C582.65,461.33 580.86,461.11 581.55,466.50 C582.24,471.89 582.80,471.67 584.45,476.60 C586.10,481.53 586.92,482.89 587.75,485.00 C588.58,487.11 587.36,483.97 587.55,484.50 C587.74,485.03 588.21,486.33 588.45,487.00 L588.45,487.00 L588.45,403.70 Z" fill="#a6e1a6" stroke="#656565" stroke-width="1.2" stroke-linejoin="round"/><path d="M588.45,405.40 C588.57,407.27 588.63,409.33 588.90,412.40 C589.17,415.47 588.18,413.70 589.45,416.90 C590.72,420.10 590.96,420.61 593.65,424.40 C596.34,428.19 597.10,426.83 599.55,431.10 C602.00,435.37 602.61,435.89 602.85,440.40 C603.09,444.91 602.24,443.73 600.45,448.00 C598.66,452.27 597.51,451.47 596.15,456.40 C594.79,461.33 596.47,461.11 595.35,466.50 C594.23,471.89 593.66,471.67 591.95,476.60 C590.24,481.53 589.64,482.89 588.95,485.00 C588.26,487.11 589.48,483.97 589.35,484.50 C589.22,485.03 588.69,486.33 588.45,487.00 L588.45,487.00 L588.45,405.40 Z" fill="#7f9fd7" stroke="#656565" stroke-width="1.2" stroke-linejoin="round"/><line x1="577.01" y1="435.30" x2="588.45" y2="435.30" stroke="#656565" stroke-width="1.2" stroke-dasharray="2.6 2.6"/><line x1="577.39" y1="445.40" x2="588.45" y2="445.40" stroke="#656565" stroke-width="1.2" stroke-dasharray="5.3 5.3"/><line x1="581.78" y1="458.90" x2="588.45" y2="458.90" stroke="#656565" stroke-width="1.2" stroke-dasharray="2.6 2.6"/><line x1="588.45" y1="436.20" x2="601.36" y2="436.20" stroke="#656565" stroke-width="1.2" stroke-dasharray="2.6 2.6"/><line x1="588.45" y1="445.40" x2="601.27" y2="445.40" stroke="#656565" stroke-width="1.2" stroke-dasharray="5.3 5.3"/><line x1="588.45" y1="458.10" x2="596.02" y2="458.10" stroke="#656565" stroke-width="1.2" stroke-dasharray="2.6 2.6"/><line x1="624.67" y1="383.20" x2="624.67" y2="489.20" stroke="#656565" stroke-width="1.4"/><path d="M624.67,402.00 C624.55,403.87 624.49,405.93 624.22,409.00 C623.95,412.07 625.20,409.39 623.67,413.50 C622.14,417.61 621.22,419.25 618.47,424.40 C615.72,429.55 615.32,428.75 613.37,432.80 C611.42,436.85 611.17,435.55 611.17,439.60 C611.17,443.65 612.33,443.07 613.37,448.00 C614.41,452.93 614.83,452.71 615.07,458.10 C615.31,463.49 613.60,463.27 614.27,468.20 C614.94,473.13 615.12,472.12 617.57,476.60 C620.02,481.08 621.82,482.89 623.47,485.00 C625.12,487.11 623.45,483.97 623.77,484.50 C624.09,485.03 624.43,486.33 624.67,487.00 L624.67,487.00 L624.67,402.00 Z" fill="#a6e1a6" stroke="#656565" stroke-width="1.2" stroke-linejoin="round"/><path d="M624.67,403.70 C624.79,405.57 624.85,407.63 625.12,410.70 C625.39,413.77 624.08,411.55 625.67,415.20 C627.26,418.85 628.06,419.71 631.07,424.40 C634.08,429.09 634.73,428.75 636.97,432.80 C639.21,436.85 639.47,435.55 639.47,439.60 C639.47,443.65 637.88,443.07 636.97,448.00 C636.06,452.93 636.74,452.71 636.07,458.10 C635.40,463.49 635.59,463.27 634.47,468.20 C633.35,473.13 634.14,472.12 631.87,476.60 C629.60,481.08 627.65,482.89 625.97,485.00 C624.29,487.11 625.92,483.97 625.57,484.50 C625.22,485.03 624.91,486.33 624.67,487.00 L624.67,487.00 L624.67,403.70 Z" fill="#7f9fd7" stroke="#656565" stroke-width="1.2" stroke-linejoin="round"/><line x1="612.11" y1="436.70" x2="624.67" y2="436.70" stroke="#656565" stroke-width="1.2" stroke-dasharray="2.6 2.6"/><line x1="613.50" y1="448.80" x2="624.67" y2="448.80" stroke="#656565" stroke-width="1.2" stroke-dasharray="5.3 5.3"/><line x1="614.64" y1="463.50" x2="624.67" y2="463.50" stroke="#656565" stroke-width="1.2" stroke-dasharray="2.6 2.6"/><line x1="624.67" y1="437.50" x2="638.70" y2="437.50" stroke="#656565" stroke-width="1.2" stroke-dasharray="2.6 2.6"/><line x1="624.67" y1="448.80" x2="636.90" y2="448.80" stroke="#656565" stroke-width="1.2" stroke-dasharray="5.3 5.3"/><line x1="624.67" y1="462.80" x2="635.33" y2="462.80" stroke="#656565" stroke-width="1.2" stroke-dasharray="2.6 2.6"/><line x1="660.89" y1="418.50" x2="660.89" y2="487.50" stroke="#656565" stroke-width="1.4"/><path d="M660.89,429.80 C660.77,431.67 660.71,433.73 660.44,436.80 C660.17,439.87 661.53,438.55 659.89,441.30 C658.25,444.05 657.57,444.43 654.29,447.10 C651.01,449.77 649.16,448.82 647.59,451.30 C646.02,453.78 647.48,453.71 648.39,456.40 C649.30,459.09 649.42,458.25 650.99,461.40 C652.56,464.55 652.05,464.60 654.29,468.20 C656.53,471.80 657.87,473.22 659.39,474.90 C660.91,476.58 659.59,473.94 659.99,474.50 C660.39,475.06 660.65,476.33 660.89,477.00 L660.89,477.00 L660.89,429.80 Z" fill="#a6e1a6" stroke="#656565" stroke-width="1.2" stroke-linejoin="round"/><path d="M660.89,429.80 C661.01,431.67 661.07,433.73 661.34,436.80 C661.61,439.87 660.17,438.55 661.89,441.30 C663.61,444.05 664.43,444.43 667.79,447.10 C671.15,449.77 672.92,448.82 674.49,451.30 C676.06,453.78 674.57,453.71 673.69,456.40 C672.81,459.09 672.98,458.25 671.19,461.40 C669.40,464.55 669.23,464.60 666.99,468.20 C664.75,471.80 664.18,473.22 662.79,474.90 C661.40,476.58 662.30,473.94 661.79,474.50 C661.28,475.06 661.13,476.33 660.89,477.00 L660.89,477.00 L660.89,429.80 Z" fill="#7f9fd7" stroke="#656565" stroke-width="1.2" stroke-linejoin="round"/><line x1="647.59" y1="451.30" x2="660.89" y2="451.30" stroke="#656565" stroke-width="1.2" stroke-dasharray="2.6 2.6"/><line x1="648.39" y1="456.40" x2="660.89" y2="456.40" stroke="#656565" stroke-width="1.2" stroke-dasharray="5.3 5.3"/><line x1="651.43" y1="462.30" x2="660.89" y2="462.30" stroke="#656565" stroke-width="1.2" stroke-dasharray="2.6 2.6"/><line x1="660.89" y1="451.30" x2="674.49" y2="451.30" stroke="#656565" stroke-width="1.2" stroke-dasharray="2.6 2.6"/><line x1="660.89" y1="456.40" x2="673.69" y2="456.40" stroke="#656565" stroke-width="1.2" stroke-dasharray="5.3 5.3"/><line x1="660.89" y1="462.30" x2="670.63" y2="462.30" stroke="#656565" stroke-width="1.2" stroke-dasharray="2.6 2.6"/></g><rect x="616.60" y="356.50" width="58" height="26.1" rx="1.8" fill="#fff" fill-opacity="0.8" stroke="#d6d6d6" stroke-width="0.8"/><rect x="619.9" y="360.20" width="16.8" height="6.2" fill="#a6e1a6" stroke="#656565" stroke-width="0.8"/><rect x="619.9" y="372.00" width="16.8" height="6.2" fill="#7f9fd7" stroke="#656565" stroke-width="0.8"/><text x="642.40" y="366.20" font-size="8.82" text-anchor="start" textLength="25.80" lengthAdjust="spacingAndGlyphs" fill="#000" >In situ</text><text x="642.50" y="378.10" font-size="8.82" text-anchor="start" textLength="29.08" lengthAdjust="spacingAndGlyphs" fill="#000" >SMRFR</text><line x1="494.50" y1="487.40" x2="497.90" y2="487.40" stroke="#000" stroke-width="0.8"/><text x="492.00" y="490.80" font-size="9.4" text-anchor="end" fill="#000" >0.0</text><line x1="494.50" y1="456.18" x2="497.90" y2="456.18" stroke="#000" stroke-width="0.8"/><text x="492.00" y="459.58" font-size="9.4" text-anchor="end" fill="#000" >0.2</text><line x1="494.50" y1="424.96" x2="497.90" y2="424.96" stroke="#000" stroke-width="0.8"/><text x="492.00" y="428.36" font-size="9.4" text-anchor="end" fill="#000" >0.4</text><line x1="494.50" y1="393.74" x2="497.90" y2="393.74" stroke="#000" stroke-width="0.8"/><text x="492.00" y="397.14" font-size="9.4" text-anchor="end" fill="#000" >0.6</text><line x1="494.50" y1="362.52" x2="497.90" y2="362.52" stroke="#000" stroke-width="0.8"/><text x="492.00" y="365.92" font-size="9.4" text-anchor="end" fill="#000" >0.8</text><line x1="516.01" y1="499.20" x2="516.01" y2="502.60" stroke="#000" stroke-width="0.8"/><g transform="translate(507.24,515.60) rotate(-10)"><text x="0.00" y="0.00" font-size="10.14" text-anchor="start" textLength="18.67" lengthAdjust="spacingAndGlyphs" fill="#000" >Arid</text></g><line x1="552.23" y1="499.20" x2="552.23" y2="502.60" stroke="#000" stroke-width="0.8"/><g transform="translate(534.39,518.80) rotate(-10)"><text x="0.00" y="0.00" font-size="10.14" text-anchor="start" textLength="37.08" lengthAdjust="spacingAndGlyphs" fill="#000" >Tropical</text></g><line x1="588.45" y1="499.20" x2="588.45" y2="502.60" stroke="#000" stroke-width="0.8"/><g transform="translate(563.77,521.21) rotate(-10)"><text x="0.00" y="0.00" font-size="10.14" text-anchor="start" textLength="50.98" lengthAdjust="spacingAndGlyphs" fill="#000" >Temperate</text></g><line x1="624.67" y1="499.20" x2="624.67" y2="502.60" stroke="#000" stroke-width="0.8"/><g transform="translate(598.62,521.69) rotate(-10)"><text x="0.00" y="0.00" font-size="10.14" text-anchor="start" textLength="53.75" lengthAdjust="spacingAndGlyphs" fill="#000" >Continental</text></g><line x1="660.89" y1="499.20" x2="660.89" y2="502.60" stroke="#000" stroke-width="0.8"/><g transform="translate(649.79,516.42) rotate(-10)"><text x="0.00" y="0.00" font-size="10.14" text-anchor="start" textLength="23.40" lengthAdjust="spacingAndGlyphs" fill="#000" >Polar</text></g><rect x="497.90" y="352.60" width="181.10" height="146.60" fill="none" stroke="#000" stroke-width="0.8"/><line x1="37.30" y1="499.20" x2="37.30" y2="502.60" stroke="#000" stroke-width="0.8"/><text x="37.30" y="511.50" font-size="9.4" text-anchor="middle" fill="#000" >0.0</text><line x1="82.57" y1="499.20" x2="82.57" y2="502.60" stroke="#000" stroke-width="0.8"/><text x="82.57" y="511.50" font-size="9.4" text-anchor="middle" fill="#000" >0.2</text><line x1="127.85" y1="499.20" x2="127.85" y2="502.60" stroke="#000" stroke-width="0.8"/><text x="127.85" y="511.50" font-size="9.4" text-anchor="middle" fill="#000" >0.4</text><line x1="173.12" y1="499.20" x2="173.12" y2="502.60" stroke="#000" stroke-width="0.8"/><text x="173.12" y="511.50" font-size="9.4" text-anchor="middle" fill="#000" >0.6</text><line x1="218.40" y1="499.20" x2="218.40" y2="502.60" stroke="#000" stroke-width="0.8"/><text x="218.40" y="511.50" font-size="9.4" text-anchor="middle" fill="#000" >0.8</text><line x1="33.90" y1="499.20" x2="37.30" y2="499.20" stroke="#000" stroke-width="0.8"/><text x="31.40" y="502.60" font-size="9.4" text-anchor="end" fill="#000" >0.0</text><line x1="33.90" y1="462.55" x2="37.30" y2="462.55" stroke="#000" stroke-width="0.8"/><text x="31.40" y="465.95" font-size="9.4" text-anchor="end" fill="#000" >0.2</text><line x1="33.90" y1="425.90" x2="37.30" y2="425.90" stroke="#000" stroke-width="0.8"/><text x="31.40" y="429.30" font-size="9.4" text-anchor="end" fill="#000" >0.4</text><line x1="33.90" y1="389.25" x2="37.30" y2="389.25" stroke="#000" stroke-width="0.8"/><text x="31.40" y="392.65" font-size="9.4" text-anchor="end" fill="#000" >0.6</text><line x1="33.90" y1="352.60" x2="37.30" y2="352.60" stroke="#000" stroke-width="0.8"/><text x="31.40" y="356.00" font-size="9.4" text-anchor="end" fill="#000" >0.8</text><line x1="267.60" y1="499.20" x2="267.60" y2="502.60" stroke="#000" stroke-width="0.8"/><text x="267.60" y="511.50" font-size="9.4" text-anchor="middle" fill="#000" >0.0</text><line x1="312.88" y1="499.20" x2="312.88" y2="502.60" stroke="#000" stroke-width="0.8"/><text x="312.88" y="511.50" font-size="9.4" text-anchor="middle" fill="#000" >0.2</text><line x1="358.15" y1="499.20" x2="358.15" y2="502.60" stroke="#000" stroke-width="0.8"/><text x="358.15" y="511.50" font-size="9.4" text-anchor="middle" fill="#000" >0.4</text><line x1="403.43" y1="499.20" x2="403.43" y2="502.60" stroke="#000" stroke-width="0.8"/><text x="403.43" y="511.50" font-size="9.4" text-anchor="middle" fill="#000" >0.6</text><line x1="448.70" y1="499.20" x2="448.70" y2="502.60" stroke="#000" stroke-width="0.8"/><text x="448.70" y="511.50" font-size="9.4" text-anchor="middle" fill="#000" >0.8</text><line x1="264.20" y1="499.20" x2="267.60" y2="499.20" stroke="#000" stroke-width="0.8"/><text x="261.70" y="502.60" font-size="9.4" text-anchor="end" fill="#000" >0.0</text><line x1="264.20" y1="462.55" x2="267.60" y2="462.55" stroke="#000" stroke-width="0.8"/><text x="261.70" y="465.95" font-size="9.4" text-anchor="end" fill="#000" >0.5</text><line x1="264.20" y1="425.90" x2="267.60" y2="425.90" stroke="#000" stroke-width="0.8"/><text x="261.70" y="429.30" font-size="9.4" text-anchor="end" fill="#000" >1.0</text><line x1="264.20" y1="389.25" x2="267.60" y2="389.25" stroke="#000" stroke-width="0.8"/><text x="261.70" y="392.65" font-size="9.4" text-anchor="end" fill="#000" >1.5</text><line x1="264.20" y1="352.60" x2="267.60" y2="352.60" stroke="#000" stroke-width="0.8"/><text x="261.70" y="356.00" font-size="9.4" text-anchor="end" fill="#000" >2.0</text><clipPath id="clip03"><rect x="37.30" y="521.05" width="181.10" height="146.60"/></clipPath><g clip-path="url(#clip03)"><polygon points="48.0,651.8 55.1,649.0 66.4,643.3 66.5,643.2 77.8,637.6 89.0,630.8 89.5,630.6 99.5,625.2 106.2,619.2 113.7,611.8 121.3,602.9 121.8,602.3 129.7,594.4 135.2,589.0 130.4,590.9 118.1,597.1 106.5,604.7 101.5,610.0 100.8,610.7 100.0,611.4 88.8,619.2 77.6,629.3 76.6,630.1 65.2,638.0 53.8,647.2 48.0,651.8" fill="#759adc"/><path d="M143 547h1v1h-1zM175 548h1v1h-1zM151 552h1v1h-1zM150 553h1v1h-1zM162 553h1v1h-1zM162 554h1v1h-1zM127 555h1v1h-1zM152 555h1v1h-1zM171 556h1v1h-1zM146 557h1v1h-1zM149 557h1v1h-1zM104 558h1v1h-1zM156 558h1v1h-1zM161 558h1v1h-1zM173 558h1v1h-1zM155 559h1v1h-1zM161 559h1v1h-1zM153 560h1v1h-1zM161 560h1v1h-1zM164 560h1v1h-1zM167 560h1v1h-1zM89 561h1v1h-1zM140 561h1v1h-1zM151 561h1v1h-1zM156 561h1v1h-1zM159 561h2v1h-2zM164 561h1v1h-1zM166 561h1v1h-1zM168 561h1v1h-1zM177 561h1v1h-1zM136 562h1v1h-1zM139 562h1v1h-1zM157 562h1v1h-1zM162 562h1v1h-1zM165 562h1v1h-1zM168 562h2v1h-2zM124 563h1v1h-1zM155 563h1v1h-1zM157 563h1v1h-1zM159 563h1v1h-1zM161 563h3v1h-3zM166 563h2v1h-2zM172 563h1v1h-1zM136 564h1v1h-1zM157 564h1v1h-1zM160 564h1v1h-1zM164 564h1v1h-1zM171 564h2v1h-2zM151 565h4v1h-4zM157 565h2v1h-2zM160 565h2v1h-2zM164 565h3v1h-3zM170 565h1v1h-1zM147 566h2v1h-2zM154 566h3v1h-3zM159 566h8v1h-8zM168 566h1v1h-1zM173 566h1v1h-1zM149 567h2v1h-2zM153 567h3v1h-3zM157 567h5v1h-5zM163 567h3v1h-3zM148 568h1v1h-1zM151 568h1v1h-1zM155 568h6v1h-6zM162 568h2v1h-2zM165 568h4v1h-4zM144 569h2v1h-2zM149 569h1v1h-1zM154 569h11v1h-11zM167 569h2v1h-2zM71 570h1v1h-1zM143 570h4v1h-4zM148 570h1v1h-1zM150 570h6v1h-6zM157 570h6v1h-6zM164 570h1v1h-1zM166 570h3v1h-3zM174 570h1v1h-1zM126 571h1v1h-1zM136 571h1v1h-1zM141 571h1v1h-1zM143 571h2v1h-2zM147 571h1v1h-1zM149 571h1v1h-1zM151 571h11v1h-11zM163 571h1v1h-1zM166 571h1v1h-1zM170 571h1v1h-1zM88 572h1v1h-1zM115 572h1v1h-1zM133 572h1v1h-1zM138 572h1v1h-1zM141 572h3v1h-3zM145 572h1v1h-1zM147 572h14v1h-14zM164 572h1v1h-1zM173 572h1v1h-1zM106 573h1v1h-1zM126 573h1v1h-1zM129 573h1v1h-1zM131 573h1v1h-1zM135 573h1v1h-1zM137 573h1v1h-1zM139 573h1v1h-1zM143 573h2v1h-2zM147 573h2v1h-2zM150 573h1v1h-1zM152 573h5v1h-5zM158 573h4v1h-4zM163 573h1v1h-1zM177 573h1v1h-1zM85 574h1v1h-1zM129 574h1v1h-1zM132 574h2v1h-2zM137 574h2v1h-2zM140 574h1v1h-1zM144 574h2v1h-2zM147 574h13v1h-13zM161 574h1v1h-1zM165 574h1v1h-1zM121 575h2v1h-2zM130 575h1v1h-1zM132 575h2v1h-2zM135 575h1v1h-1zM137 575h1v1h-1zM139 575h1v1h-1zM143 575h20v1h-20zM170 575h1v1h-1zM102 576h1v1h-1zM106 576h1v1h-1zM109 576h1v1h-1zM112 576h1v1h-1zM116 576h1v1h-1zM124 576h1v1h-1zM127 576h1v1h-1zM133 576h1v1h-1zM135 576h9v1h-9zM145 576h9v1h-9zM155 576h6v1h-6zM162 576h1v1h-1zM117 577h1v1h-1zM128 577h1v1h-1zM131 577h1v1h-1zM134 577h3v1h-3zM138 577h20v1h-20zM159 577h1v1h-1zM161 577h1v1h-1zM163 577h1v1h-1zM118 578h1v1h-1zM121 578h1v1h-1zM127 578h5v1h-5zM133 578h22v1h-22zM156 578h1v1h-1zM160 578h1v1h-1zM87 579h1v1h-1zM112 579h2v1h-2zM115 579h1v1h-1zM117 579h1v1h-1zM119 579h3v1h-3zM126 579h2v1h-2zM129 579h1v1h-1zM131 579h7v1h-7zM139 579h18v1h-18zM160 579h2v1h-2zM164 579h1v1h-1zM170 579h2v1h-2zM107 580h1v1h-1zM122 580h2v1h-2zM125 580h7v1h-7zM133 580h20v1h-20zM154 580h3v1h-3zM111 581h1v1h-1zM113 581h1v1h-1zM120 581h2v1h-2zM123 581h1v1h-1zM127 581h3v1h-3zM131 581h23v1h-23zM158 581h1v1h-1zM162 581h1v1h-1zM169 581h1v1h-1zM85 582h1v1h-1zM104 582h1v1h-1zM108 582h1v1h-1zM110 582h1v1h-1zM113 582h2v1h-2zM118 582h2v1h-2zM121 582h1v1h-1zM123 582h29v1h-29zM153 582h1v1h-1zM155 582h1v1h-1zM159 582h1v1h-1zM162 582h1v1h-1zM103 583h1v1h-1zM113 583h2v1h-2zM116 583h1v1h-1zM118 583h2v1h-2zM121 583h2v1h-2zM125 583h1v1h-1zM127 583h2v1h-2zM130 583h19v1h-19zM150 583h6v1h-6zM160 583h1v1h-1zM104 584h2v1h-2zM112 584h2v1h-2zM115 584h2v1h-2zM118 584h1v1h-1zM120 584h1v1h-1zM122 584h27v1h-27zM150 584h5v1h-5zM156 584h1v1h-1zM165 584h1v1h-1zM98 585h1v1h-1zM102 585h1v1h-1zM108 585h2v1h-2zM113 585h1v1h-1zM115 585h1v1h-1zM117 585h8v1h-8zM126 585h24v1h-24zM153 585h2v1h-2zM157 585h1v1h-1zM159 585h1v1h-1zM101 586h1v1h-1zM108 586h1v1h-1zM110 586h1v1h-1zM116 586h2v1h-2zM119 586h2v1h-2zM122 586h28v1h-28zM153 586h1v1h-1zM155 586h1v1h-1zM157 586h1v1h-1zM159 586h1v1h-1zM51 587h1v1h-1zM98 587h1v1h-1zM101 587h1v1h-1zM103 587h1v1h-1zM107 587h2v1h-2zM110 587h1v1h-1zM113 587h1v1h-1zM115 587h1v1h-1zM117 587h1v1h-1zM119 587h5v1h-5zM125 587h24v1h-24zM150 587h2v1h-2zM186 587h1v1h-1zM94 588h1v1h-1zM106 588h1v1h-1zM109 588h1v1h-1zM111 588h1v1h-1zM114 588h1v1h-1zM116 588h2v1h-2zM119 588h32v1h-32zM160 588h1v1h-1zM89 589h1v1h-1zM96 589h1v1h-1zM101 589h1v1h-1zM104 589h3v1h-3zM108 589h1v1h-1zM110 589h3v1h-3zM114 589h34v1h-34zM149 589h1v1h-1zM151 589h2v1h-2zM167 589h1v1h-1zM72 590h1v1h-1zM91 590h1v1h-1zM102 590h1v1h-1zM104 590h1v1h-1zM108 590h3v1h-3zM112 590h34v1h-34zM147 590h5v1h-5zM157 590h1v1h-1zM182 590h1v1h-1zM91 591h1v1h-1zM100 591h1v1h-1zM104 591h1v1h-1zM107 591h38v1h-38zM149 591h1v1h-1zM65 592h1v1h-1zM93 592h1v1h-1zM95 592h1v1h-1zM100 592h1v1h-1zM103 592h2v1h-2zM107 592h38v1h-38zM146 592h1v1h-1zM149 592h2v1h-2zM152 592h2v1h-2zM98 593h3v1h-3zM103 593h4v1h-4zM108 593h20v1h-20zM129 593h13v1h-13zM143 593h2v1h-2zM147 593h2v1h-2zM150 593h1v1h-1zM79 594h1v1h-1zM87 594h2v1h-2zM92 594h1v1h-1zM96 594h1v1h-1zM100 594h5v1h-5zM106 594h20v1h-20zM128 594h14v1h-14zM144 594h1v1h-1zM150 594h1v1h-1zM160 594h1v1h-1zM72 595h1v1h-1zM88 595h2v1h-2zM95 595h1v1h-1zM97 595h3v1h-3zM101 595h1v1h-1zM103 595h1v1h-1zM105 595h19v1h-19zM127 595h18v1h-18zM147 595h1v1h-1zM149 595h1v1h-1zM156 595h1v1h-1zM163 595h1v1h-1zM65 596h1v1h-1zM87 596h1v1h-1zM93 596h3v1h-3zM97 596h4v1h-4zM102 596h1v1h-1zM105 596h17v1h-17zM126 596h13v1h-13zM140 596h1v1h-1zM142 596h1v1h-1zM144 596h1v1h-1zM148 596h1v1h-1zM84 597h1v1h-1zM86 597h1v1h-1zM97 597h23v1h-23zM125 597h13v1h-13zM140 597h1v1h-1zM142 597h1v1h-1zM147 597h1v1h-1zM73 598h1v1h-1zM86 598h1v1h-1zM92 598h2v1h-2zM95 598h2v1h-2zM98 598h20v1h-20zM124 598h17v1h-17zM143 598h1v1h-1zM151 598h1v1h-1zM77 599h1v1h-1zM84 599h2v1h-2zM91 599h1v1h-1zM95 599h1v1h-1zM97 599h1v1h-1zM100 599h17v1h-17zM123 599h16v1h-16zM141 599h1v1h-1zM143 599h1v1h-1zM58 600h1v1h-1zM87 600h1v1h-1zM91 600h1v1h-1zM95 600h1v1h-1zM97 600h2v1h-2zM100 600h1v1h-1zM102 600h13v1h-13zM122 600h16v1h-16zM139 600h1v1h-1zM141 600h1v1h-1zM147 600h1v1h-1zM78 601h1v1h-1zM87 601h2v1h-2zM93 601h2v1h-2zM96 601h4v1h-4zM101 601h13v1h-13zM121 601h11v1h-11zM133 601h3v1h-3zM138 601h1v1h-1zM141 601h1v1h-1zM143 601h2v1h-2zM75 602h1v1h-1zM90 602h3v1h-3zM94 602h18v1h-18zM120 602h17v1h-17zM138 602h1v1h-1zM142 602h1v1h-1zM145 602h1v1h-1zM83 603h1v1h-1zM85 603h1v1h-1zM89 603h2v1h-2zM92 603h1v1h-1zM95 603h16v1h-16zM119 603h15v1h-15zM135 603h3v1h-3zM149 603h1v1h-1zM80 604h1v1h-1zM82 604h3v1h-3zM91 604h1v1h-1zM93 604h16v1h-16zM118 604h14v1h-14zM133 604h1v1h-1zM136 604h1v1h-1zM140 604h1v1h-1zM161 604h1v1h-1zM72 605h1v1h-1zM82 605h1v1h-1zM88 605h1v1h-1zM91 605h3v1h-3zM96 605h11v1h-11zM117 605h13v1h-13zM131 605h1v1h-1zM135 605h1v1h-1zM139 605h1v1h-1zM142 605h1v1h-1zM159 605h1v1h-1zM61 606h1v1h-1zM74 606h1v1h-1zM78 606h2v1h-2zM81 606h2v1h-2zM84 606h1v1h-1zM86 606h1v1h-1zM88 606h4v1h-4zM93 606h2v1h-2zM96 606h10v1h-10zM117 606h15v1h-15zM135 606h2v1h-2zM139 606h1v1h-1zM143 606h1v1h-1zM152 606h1v1h-1zM58 607h1v1h-1zM77 607h1v1h-1zM82 607h2v1h-2zM85 607h1v1h-1zM87 607h19v1h-19zM116 607h10v1h-10zM127 607h4v1h-4zM133 607h1v1h-1zM140 607h1v1h-1zM38 608h1v1h-1zM75 608h1v1h-1zM77 608h1v1h-1zM81 608h1v1h-1zM83 608h1v1h-1zM86 608h8v1h-8zM95 608h10v1h-10zM115 608h12v1h-12zM131 608h1v1h-1zM133 608h2v1h-2zM137 608h1v1h-1zM156 608h1v1h-1zM62 609h1v1h-1zM67 609h1v1h-1zM79 609h2v1h-2zM82 609h2v1h-2zM85 609h9v1h-9zM95 609h9v1h-9zM114 609h12v1h-12zM127 609h5v1h-5zM142 609h1v1h-1zM152 609h1v1h-1zM61 610h1v1h-1zM71 610h1v1h-1zM79 610h1v1h-1zM81 610h1v1h-1zM84 610h4v1h-4zM89 610h14v1h-14zM113 610h15v1h-15zM132 610h2v1h-2zM135 610h1v1h-1zM137 610h1v1h-1zM39 611h1v1h-1zM46 611h1v1h-1zM64 611h1v1h-1zM70 611h1v1h-1zM73 611h1v1h-1zM80 611h5v1h-5zM86 611h4v1h-4zM91 611h11v1h-11zM112 611h16v1h-16zM141 611h1v1h-1zM65 612h1v1h-1zM67 612h1v1h-1zM74 612h1v1h-1zM76 612h1v1h-1zM78 612h1v1h-1zM80 612h3v1h-3zM84 612h4v1h-4zM89 612h11v1h-11zM111 612h16v1h-16zM128 612h1v1h-1zM135 612h1v1h-1zM54 613h2v1h-2zM60 613h1v1h-1zM71 613h1v1h-1zM78 613h2v1h-2zM81 613h1v1h-1zM83 613h2v1h-2zM86 613h13v1h-13zM110 613h15v1h-15zM126 613h1v1h-1zM129 613h2v1h-2zM136 613h1v1h-1zM60 614h1v1h-1zM62 614h1v1h-1zM67 614h1v1h-1zM72 614h1v1h-1zM75 614h2v1h-2zM79 614h2v1h-2zM82 614h16v1h-16zM109 614h14v1h-14zM124 614h2v1h-2zM129 614h1v1h-1zM136 614h1v1h-1zM45 615h1v1h-1zM58 615h1v1h-1zM65 615h1v1h-1zM75 615h2v1h-2zM82 615h14v1h-14zM108 615h14v1h-14zM124 615h3v1h-3zM129 615h1v1h-1zM143 615h1v1h-1zM40 616h1v1h-1zM58 616h2v1h-2zM69 616h2v1h-2zM74 616h1v1h-1zM76 616h6v1h-6zM83 616h12v1h-12zM107 616h14v1h-14zM122 616h1v1h-1zM124 616h2v1h-2zM41 617h1v1h-1zM52 617h1v1h-1zM55 617h1v1h-1zM64 617h1v1h-1zM72 617h1v1h-1zM77 617h16v1h-16zM106 617h20v1h-20zM128 617h1v1h-1zM50 618h1v1h-1zM67 618h1v1h-1zM71 618h3v1h-3zM75 618h2v1h-2zM80 618h12v1h-12zM105 618h17v1h-17zM124 618h2v1h-2zM137 618h1v1h-1zM40 619h1v1h-1zM55 619h1v1h-1zM61 619h1v1h-1zM63 619h1v1h-1zM67 619h1v1h-1zM69 619h1v1h-1zM71 619h2v1h-2zM74 619h17v1h-17zM104 619h17v1h-17zM123 619h1v1h-1zM127 619h1v1h-1zM130 619h1v1h-1zM52 620h1v1h-1zM57 620h1v1h-1zM61 620h1v1h-1zM64 620h1v1h-1zM66 620h2v1h-2zM70 620h1v1h-1zM72 620h1v1h-1zM74 620h4v1h-4zM79 620h10v1h-10zM103 620h19v1h-19zM40 621h1v1h-1zM56 621h1v1h-1zM61 621h2v1h-2zM67 621h1v1h-1zM69 621h2v1h-2zM72 621h6v1h-6zM79 621h9v1h-9zM102 621h16v1h-16zM119 621h1v1h-1zM127 621h1v1h-1zM146 621h1v1h-1zM55 622h1v1h-1zM58 622h2v1h-2zM61 622h2v1h-2zM64 622h1v1h-1zM66 622h1v1h-1zM68 622h1v1h-1zM70 622h17v1h-17zM101 622h18v1h-18zM121 622h1v1h-1zM140 622h1v1h-1zM43 623h1v1h-1zM59 623h1v1h-1zM64 623h3v1h-3zM68 623h18v1h-18zM100 623h11v1h-11zM112 623h4v1h-4zM117 623h2v1h-2zM125 623h1v1h-1zM39 624h1v1h-1zM46 624h1v1h-1zM50 624h2v1h-2zM57 624h1v1h-1zM63 624h1v1h-1zM66 624h1v1h-1zM68 624h17v1h-17zM98 624h18v1h-18zM125 624h1v1h-1zM50 625h3v1h-3zM55 625h1v1h-1zM60 625h2v1h-2zM64 625h2v1h-2zM67 625h1v1h-1zM69 625h15v1h-15zM96 625h16v1h-16zM113 625h2v1h-2zM117 625h1v1h-1zM120 625h1v1h-1zM123 625h1v1h-1zM49 626h1v1h-1zM56 626h1v1h-1zM59 626h1v1h-1zM61 626h1v1h-1zM64 626h1v1h-1zM66 626h17v1h-17zM95 626h18v1h-18zM114 626h1v1h-1zM118 626h1v1h-1zM38 627h1v1h-1zM54 627h1v1h-1zM57 627h2v1h-2zM60 627h1v1h-1zM62 627h19v1h-19zM93 627h17v1h-17zM112 627h1v1h-1zM115 627h1v1h-1zM117 627h1v1h-1zM41 628h1v1h-1zM50 628h1v1h-1zM53 628h1v1h-1zM60 628h1v1h-1zM62 628h3v1h-3zM66 628h14v1h-14zM91 628h17v1h-17zM109 628h1v1h-1zM111 628h2v1h-2zM114 628h1v1h-1zM45 629h1v1h-1zM47 629h2v1h-2zM51 629h2v1h-2zM55 629h3v1h-3zM59 629h4v1h-4zM66 629h2v1h-2zM69 629h10v1h-10zM89 629h18v1h-18zM108 629h4v1h-4zM116 629h1v1h-1zM120 629h2v1h-2zM48 630h1v1h-1zM50 630h1v1h-1zM55 630h1v1h-1zM57 630h1v1h-1zM59 630h4v1h-4zM64 630h1v1h-1zM66 630h2v1h-2zM69 630h9v1h-9zM87 630h21v1h-21zM109 630h1v1h-1zM113 630h1v1h-1zM40 631h2v1h-2zM51 631h1v1h-1zM53 631h1v1h-1zM57 631h1v1h-1zM61 631h4v1h-4zM68 631h9v1h-9zM86 631h24v1h-24zM114 631h1v1h-1zM118 631h1v1h-1zM42 632h1v1h-1zM44 632h1v1h-1zM50 632h1v1h-1zM52 632h4v1h-4zM58 632h7v1h-7zM66 632h9v1h-9zM84 632h21v1h-21zM107 632h1v1h-1zM109 632h2v1h-2zM113 632h1v1h-1zM116 632h1v1h-1zM121 632h1v1h-1zM48 633h3v1h-3zM54 633h9v1h-9zM65 633h9v1h-9zM82 633h23v1h-23zM114 633h1v1h-1zM117 633h1v1h-1zM40 634h1v1h-1zM43 634h1v1h-1zM51 634h1v1h-1zM55 634h2v1h-2zM59 634h1v1h-1zM61 634h11v1h-11zM81 634h23v1h-23zM105 634h2v1h-2zM109 634h1v1h-1zM112 634h1v1h-1zM41 635h1v1h-1zM43 635h1v1h-1zM48 635h2v1h-2zM51 635h2v1h-2zM55 635h1v1h-1zM57 635h14v1h-14zM79 635h23v1h-23zM103 635h1v1h-1zM106 635h1v1h-1zM108 635h1v1h-1zM117 635h1v1h-1zM38 636h1v1h-1zM41 636h1v1h-1zM44 636h1v1h-1zM46 636h1v1h-1zM48 636h1v1h-1zM50 636h19v1h-19zM77 636h15v1h-15zM93 636h7v1h-7zM102 636h1v1h-1zM104 636h3v1h-3zM141 636h1v1h-1zM40 637h1v1h-1zM45 637h1v1h-1zM47 637h2v1h-2zM50 637h1v1h-1zM54 637h8v1h-8zM63 637h5v1h-5zM75 637h20v1h-20zM96 637h3v1h-3zM100 637h1v1h-1zM103 637h1v1h-1zM109 637h1v1h-1zM111 637h1v1h-1zM125 637h1v1h-1zM41 638h1v1h-1zM44 638h1v1h-1zM46 638h1v1h-1zM48 638h19v1h-19zM73 638h21v1h-21zM95 638h1v1h-1zM97 638h2v1h-2zM100 638h1v1h-1zM102 638h1v1h-1zM104 638h2v1h-2zM38 639h1v1h-1zM41 639h2v1h-2zM45 639h11v1h-11zM57 639h8v1h-8zM71 639h23v1h-23zM95 639h1v1h-1zM101 639h2v1h-2zM107 639h1v1h-1zM38 640h1v1h-1zM41 640h1v1h-1zM43 640h2v1h-2zM46 640h9v1h-9zM56 640h8v1h-8zM69 640h30v1h-30zM101 640h1v1h-1zM103 640h1v1h-1zM105 640h1v1h-1zM107 640h1v1h-1zM39 641h1v1h-1zM41 641h6v1h-6zM48 641h1v1h-1zM50 641h13v1h-13zM67 641h24v1h-24zM94 641h3v1h-3zM104 641h1v1h-1zM39 642h1v1h-1zM41 642h6v1h-6zM48 642h7v1h-7zM56 642h6v1h-6zM65 642h26v1h-26zM92 642h1v1h-1zM94 642h2v1h-2zM128 642h1v1h-1zM134 642h1v1h-1zM38 643h1v1h-1zM43 643h3v1h-3zM47 643h13v1h-13zM63 643h19v1h-19zM83 643h1v1h-1zM85 643h2v1h-2zM90 643h1v1h-1zM92 643h1v1h-1zM113 643h1v1h-1zM39 644h4v1h-4zM44 644h2v1h-2zM47 644h12v1h-12zM61 644h23v1h-23zM85 644h1v1h-1zM92 644h1v1h-1zM103 644h1v1h-1zM39 645h1v1h-1zM41 645h17v1h-17zM59 645h28v1h-28zM92 645h1v1h-1zM38 646h40v1h-40zM79 646h2v1h-2zM83 646h1v1h-1zM94 646h1v1h-1zM39 647h1v1h-1zM41 647h1v1h-1zM43 647h35v1h-35zM79 647h3v1h-3zM84 647h1v1h-1zM94 647h2v1h-2zM38 648h2v1h-2zM41 648h1v1h-1zM43 648h36v1h-36zM80 648h1v1h-1zM82 648h4v1h-4zM87 648h1v1h-1zM179 648h1v1h-1zM39 649h40v1h-40zM80 649h2v1h-2zM86 649h1v1h-1zM89 649h1v1h-1zM38 650h36v1h-36zM75 650h1v1h-1zM77 650h1v1h-1zM81 650h1v1h-1zM38 651h35v1h-35zM77 651h1v1h-1zM81 651h1v1h-1zM111 651h1v1h-1zM38 652h32v1h-32zM72 652h2v1h-2zM40 653h29v1h-29zM70 653h2v1h-2zM75 653h1v1h-1zM80 653h1v1h-1zM38 654h12v1h-12zM51 654h14v1h-14zM69 654h2v1h-2zM73 654h2v1h-2zM79 654h1v1h-1zM38 655h28v1h-28zM75 655h1v1h-1zM78 655h1v1h-1zM38 656h25v1h-25zM66 656h2v1h-2zM72 656h1v1h-1zM74 656h1v1h-1zM90 656h1v1h-1zM122 656h1v1h-1zM38 657h21v1h-21zM60 657h1v1h-1zM63 657h1v1h-1zM65 657h1v1h-1zM67 657h3v1h-3zM81 657h1v1h-1zM95 657h1v1h-1zM40 658h13v1h-13zM54 658h1v1h-1zM56 658h2v1h-2zM60 658h1v1h-1zM63 658h1v1h-1zM66 658h2v1h-2zM105 658h1v1h-1zM38 659h17v1h-17zM58 659h1v1h-1zM62 659h2v1h-2zM38 660h13v1h-13zM52 660h3v1h-3zM56 660h3v1h-3zM60 660h1v1h-1zM62 660h1v1h-1zM70 660h1v1h-1zM38 661h1v1h-1zM40 661h10v1h-10zM51 661h3v1h-3zM62 661h1v1h-1zM72 661h1v1h-1zM38 662h9v1h-9zM51 662h1v1h-1zM53 662h1v1h-1zM60 662h1v1h-1zM77 662h1v1h-1zM38 663h7v1h-7zM46 663h2v1h-2zM52 663h1v1h-1zM55 663h1v1h-1zM57 663h1v1h-1zM63 663h2v1h-2zM38 664h1v1h-1zM40 664h2v1h-2zM45 664h1v1h-1zM47 664h1v1h-1zM49 664h3v1h-3zM58 664h1v1h-1zM133 664h1v1h-1zM38 665h1v1h-1zM41 665h3v1h-3zM46 665h1v1h-1zM48 665h1v1h-1zM50 665h1v1h-1zM55 665h1v1h-1zM80 665h1v1h-1zM39 666h3v1h-3zM46 666h1v1h-1zM49 666h1v1h-1zM94 666h1v1h-1zM38 667h1v1h-1zM44 667h1v1h-1z" fill="#759adc"/><line x1="37.30" y1="667.65" x2="218.40" y2="521.05" stroke="#f02020" stroke-width="1.3" stroke-dasharray="1.3 2.0" stroke-linecap="butt"/><line x1="37.30" y1="665.54" x2="218.40" y2="525.64" stroke="#000" stroke-width="1.3"/></g><text x="47.90" y="536.15" font-size="10.50" text-anchor="start" textLength="62.43" lengthAdjust="spacingAndGlyphs" fill="#000" >n = 115,117</text><text x="47.90" y="546.95" font-size="10.50" text-anchor="start" textLength="104.93" lengthAdjust="spacingAndGlyphs" fill="#000" >y = 0.9543x+0.0115</text><text x="47.90" y="557.65" font-size="10.50" text-anchor="start" textLength="53.84" lengthAdjust="spacingAndGlyphs" fill="#000" >r = 0.9821</text><text x="47.90" y="570.75" font-size="10.50" text-anchor="start" textLength="77.97" lengthAdjust="spacingAndGlyphs" fill="#000" >RMSE = 0.0223</text><text x="160.25" y="638.05" font-size="12.25" text-anchor="start" textLength="43.67" lengthAdjust="spacingAndGlyphs" fill="#000" >Layer 4</text><rect x="37.30" y="521.05" width="181.10" height="146.60" fill="none" stroke="#000" stroke-width="0.8"/><clipPath id="clip13"><rect x="267.60" y="521.05" width="181.10" height="146.60"/></clipPath><g clip-path="url(#clip13)"><path d="M268.60,667.30 C269.71,663.34 269.87,664.36 272.30,654.10 C274.73,643.84 274.09,645.70 276.70,633.10 C279.31,620.50 278.39,625.24 281.00,612.10 C283.61,598.96 283.03,599.29 285.40,589.30 C287.77,579.31 286.80,581.74 288.90,578.80 C291.00,575.86 289.76,578.72 292.40,579.50 C295.04,580.28 295.06,579.75 297.70,581.40 C300.34,583.05 298.74,582.09 301.20,585.00 C303.66,587.91 303.56,590.86 305.90,591.10 C308.24,591.34 307.02,589.22 309.00,585.80 C310.98,582.38 309.86,581.44 312.50,579.70 C315.14,577.96 314.62,581.83 317.80,580.00 C320.98,578.17 319.41,578.70 323.10,573.60 C326.79,568.50 326.44,567.74 330.10,563.00 C333.76,558.26 332.42,561.04 335.30,557.80 C338.18,554.56 337.60,552.74 339.70,552.20 C341.80,551.66 339.93,550.39 342.30,556.00 C344.67,561.61 344.45,567.48 347.60,570.90 C350.75,574.32 349.92,569.23 352.80,567.40 C355.68,565.57 355.34,563.99 357.20,564.80 C359.06,565.61 357.68,559.60 359.00,570.10 C360.32,580.60 360.01,583.00 361.60,599.80 C363.19,616.60 362.47,609.81 364.30,626.10 C366.13,642.39 365.36,643.33 367.70,654.10 C370.04,664.87 369.73,660.23 372.10,662.00 C374.47,663.77 373.23,661.50 375.60,660.00 C377.97,658.50 377.48,656.70 380.00,657.00 C382.52,657.30 381.75,658.60 384.00,661.00 C386.25,663.40 385.40,663.47 387.50,665.00 C389.60,666.53 388.15,665.56 391.00,666.10 C393.85,666.64 393.40,666.41 397.00,666.80 C400.60,667.19 401.20,667.22 403.00,667.40 L403.00,667.65 L268.60,667.65 Z" fill="#6495ed" fill-opacity="0.25" stroke="none"/><path d="M268.60,667.30 C269.71,663.34 269.87,664.36 272.30,654.10 C274.73,643.84 274.09,645.70 276.70,633.10 C279.31,620.50 278.39,625.24 281.00,612.10 C283.61,598.96 283.03,599.29 285.40,589.30 C287.77,579.31 286.80,581.74 288.90,578.80 C291.00,575.86 289.76,578.72 292.40,579.50 C295.04,580.28 295.06,579.75 297.70,581.40 C300.34,583.05 298.74,582.09 301.20,585.00 C303.66,587.91 303.56,590.86 305.90,591.10 C308.24,591.34 307.02,589.22 309.00,585.80 C310.98,582.38 309.86,581.44 312.50,579.70 C315.14,577.96 314.62,581.83 317.80,580.00 C320.98,578.17 319.41,578.70 323.10,573.60 C326.79,568.50 326.44,567.74 330.10,563.00 C333.76,558.26 332.42,561.04 335.30,557.80 C338.18,554.56 337.60,552.74 339.70,552.20 C341.80,551.66 339.93,550.39 342.30,556.00 C344.67,561.61 344.45,567.48 347.60,570.90 C350.75,574.32 349.92,569.23 352.80,567.40 C355.68,565.57 355.34,563.99 357.20,564.80 C359.06,565.61 357.68,559.60 359.00,570.10 C360.32,580.60 360.01,583.00 361.60,599.80 C363.19,616.60 362.47,609.81 364.30,626.10 C366.13,642.39 365.36,643.33 367.70,654.10 C370.04,664.87 369.73,660.23 372.10,662.00 C374.47,663.77 373.23,661.50 375.60,660.00 C377.97,658.50 377.48,656.70 380.00,657.00 C382.52,657.30 381.75,658.60 384.00,661.00 C386.25,663.40 385.40,663.47 387.50,665.00 C389.60,666.53 388.15,665.56 391.00,666.10 C393.85,666.64 393.40,666.41 397.00,666.80 C400.60,667.19 401.20,667.22 403.00,667.40" fill="none" stroke="#6495ed" stroke-width="0.85"/><path d="M267.90,666.40 C268.95,662.71 269.03,664.09 271.40,654.10 C273.77,644.11 273.19,645.70 275.80,633.10 C278.41,620.50 277.49,625.24 280.10,612.10 C282.71,598.96 282.13,599.02 284.50,589.30 C286.87,579.58 285.63,582.43 288.00,579.70 C290.37,576.97 289.49,579.69 292.40,580.20 C295.31,580.71 295.06,579.96 297.70,581.40 C300.34,582.84 298.74,582.09 301.20,585.00 C303.66,587.91 303.56,590.86 305.90,591.10 C308.24,591.34 307.02,589.22 309.00,585.80 C310.98,582.38 309.86,581.26 312.50,579.70 C315.14,578.14 314.62,581.92 317.80,580.60 C320.98,579.28 319.41,579.08 323.10,575.30 C326.79,571.52 326.44,570.88 330.10,568.00 C333.76,565.12 332.15,567.98 335.30,565.70 C338.45,563.42 337.96,561.21 340.60,560.40 C343.24,559.59 341.73,559.04 344.10,563.00 C346.47,566.96 345.89,570.96 348.50,573.60 C351.11,576.24 350.19,573.12 352.80,571.80 C355.41,570.48 355.07,567.61 357.20,569.20 C359.33,570.79 358.31,567.92 359.90,577.10 C361.49,586.28 360.94,585.10 362.50,599.80 C364.06,614.50 363.27,610.32 365.10,626.10 C366.93,641.88 366.50,641.87 368.60,652.40 C370.70,662.93 370.00,659.10 372.10,661.20 C374.20,663.30 373.23,660.87 375.60,659.40 C377.97,657.93 377.48,655.97 380.00,656.30 C382.52,656.63 381.75,658.04 384.00,660.50 C386.25,662.96 385.40,662.91 387.50,664.50 C389.60,666.09 388.15,665.17 391.00,665.80 C393.85,666.43 393.10,666.12 397.00,666.60 C400.90,667.08 401.90,667.16 404.00,667.40 L404.00,667.65 L267.90,667.65 Z" fill="#90ee90" fill-opacity="0.25" stroke="none"/><path d="M267.90,666.40 C268.95,662.71 269.03,664.09 271.40,654.10 C273.77,644.11 273.19,645.70 275.80,633.10 C278.41,620.50 277.49,625.24 280.10,612.10 C282.71,598.96 282.13,599.02 284.50,589.30 C286.87,579.58 285.63,582.43 288.00,579.70 C290.37,576.97 289.49,579.69 292.40,580.20 C295.31,580.71 295.06,579.96 297.70,581.40 C300.34,582.84 298.74,582.09 301.20,585.00 C303.66,587.91 303.56,590.86 305.90,591.10 C308.24,591.34 307.02,589.22 309.00,585.80 C310.98,582.38 309.86,581.26 312.50,579.70 C315.14,578.14 314.62,581.92 317.80,580.60 C320.98,579.28 319.41,579.08 323.10,575.30 C326.79,571.52 326.44,570.88 330.10,568.00 C333.76,565.12 332.15,567.98 335.30,565.70 C338.45,563.42 337.96,561.21 340.60,560.40 C343.24,559.59 341.73,559.04 344.10,563.00 C346.47,566.96 345.89,570.96 348.50,573.60 C351.11,576.24 350.19,573.12 352.80,571.80 C355.41,570.48 355.07,567.61 357.20,569.20 C359.33,570.79 358.31,567.92 359.90,577.10 C361.49,586.28 360.94,585.10 362.50,599.80 C364.06,614.50 363.27,610.32 365.10,626.10 C366.93,641.88 366.50,641.87 368.60,652.40 C370.70,662.93 370.00,659.10 372.10,661.20 C374.20,663.30 373.23,660.87 375.60,659.40 C377.97,657.93 377.48,655.97 380.00,656.30 C382.52,656.63 381.75,658.04 384.00,660.50 C386.25,662.96 385.40,662.91 387.50,664.50 C389.60,666.09 388.15,665.17 391.00,665.80 C393.85,666.43 393.10,666.12 397.00,666.60 C400.90,667.08 401.90,667.16 404.00,667.40" fill="none" stroke="#90ee90" stroke-width="0.85"/></g><rect x="386.60" y="524.65" width="57.9" height="26.6" rx="1.8" fill="#fff" fill-opacity="0.8" stroke="#d6d6d6" stroke-width="0.8"/><rect x="389.6" y="528.85" width="16.8" height="6.2" fill="#90ee90" fill-opacity="0.25" stroke="#90ee90" stroke-width="0.8"/><rect x="389.6" y="540.45" width="16.8" height="6.2" fill="#6495ed" fill-opacity="0.25" stroke="#6495ed" stroke-width="0.8"/><text x="412.20" y="534.65" font-size="8.82" text-anchor="start" textLength="25.80" lengthAdjust="spacingAndGlyphs" fill="#000" >In situ</text><text x="412.30" y="546.55" font-size="8.82" text-anchor="start" textLength="29.08" lengthAdjust="spacingAndGlyphs" fill="#000" >SMRFR</text><rect x="267.60" y="521.05" width="181.10" height="146.60" fill="none" stroke="#000" stroke-width="0.8"/><clipPath id="clip23"><rect x="497.90" y="521.05" width="181.10" height="146.60"/></clipPath><g clip-path="url(#clip23)"><line x1="516.01" y1="550.80" x2="516.01" y2="655.90" stroke="#656565" stroke-width="1.4"/><path d="M516.01,570.10 C515.89,571.97 515.83,574.03 515.56,577.10 C515.29,580.17 515.93,577.87 515.01,581.60 C514.09,585.33 513.44,586.25 512.11,591.10 C510.78,595.95 511.02,595.13 510.01,599.80 C509.00,604.47 509.70,603.91 508.31,608.60 C506.92,613.29 505.42,613.19 504.81,617.40 C504.20,621.61 506.38,621.15 506.01,624.40 C505.64,627.65 504.48,626.56 503.41,629.60 C502.34,632.64 501.32,632.52 502.01,635.80 C502.70,639.08 503.32,638.89 506.01,641.90 C508.70,644.91 509.68,645.45 512.11,647.10 C514.54,648.75 514.07,647.17 515.11,648.10 C516.15,649.03 515.77,649.93 516.01,650.60 L516.01,650.60 L516.01,570.10 Z" fill="#a6e1a6" stroke="#656565" stroke-width="1.2" stroke-linejoin="round"/><path d="M516.01,571.80 C516.13,573.67 516.19,575.73 516.46,578.80 C516.73,581.87 516.06,580.02 517.01,583.30 C517.96,586.58 518.60,586.70 520.01,591.10 C521.42,595.50 521.38,595.13 522.31,599.80 C523.24,604.47 522.26,603.91 523.51,608.60 C524.76,613.29 526.40,613.19 527.01,617.40 C527.62,621.61 525.57,620.67 525.81,624.40 C526.05,628.13 526.66,628.36 527.91,631.40 C529.16,634.44 530.75,633.00 530.51,635.80 C530.27,638.60 529.81,638.89 527.01,641.90 C524.21,644.91 522.70,645.45 520.01,647.10 C517.32,648.75 517.98,647.17 516.91,648.10 C515.84,649.03 516.25,649.93 516.01,650.60 L516.01,650.60 L516.01,571.80 Z" fill="#7f9fd7" stroke="#656565" stroke-width="1.2" stroke-linejoin="round"/><line x1="508.31" y1="608.60" x2="516.01" y2="608.60" stroke="#656565" stroke-width="1.2" stroke-dasharray="2.6 2.6"/><line x1="505.46" y1="621.20" x2="516.01" y2="621.20" stroke="#656565" stroke-width="1.2" stroke-dasharray="5.3 5.3"/><line x1="502.62" y1="633.10" x2="516.01" y2="633.10" stroke="#656565" stroke-width="1.2" stroke-dasharray="2.6 2.6"/><line x1="516.01" y1="609.10" x2="523.71" y2="609.10" stroke="#656565" stroke-width="1.2" stroke-dasharray="2.6 2.6"/><line x1="516.01" y1="621.20" x2="526.36" y2="621.20" stroke="#656565" stroke-width="1.2" stroke-dasharray="5.3 5.3"/><line x1="516.01" y1="633.50" x2="529.15" y2="633.50" stroke="#656565" stroke-width="1.2" stroke-dasharray="2.6 2.6"/><line x1="552.23" y1="556.90" x2="552.23" y2="660.30" stroke="#656565" stroke-width="1.4"/><path d="M552.23,554.30 C552.11,556.17 552.05,558.23 551.78,561.30 C551.51,564.37 552.52,562.52 551.23,565.80 C549.94,569.08 549.01,569.65 546.93,573.60 C544.85,577.55 544.02,576.87 543.43,580.60 C542.84,584.33 543.24,583.41 544.73,587.60 C546.22,591.79 547.64,591.63 549.03,596.30 C550.42,600.97 550.30,600.41 549.93,605.10 C549.56,609.79 548.08,609.23 547.63,613.90 C547.18,618.57 549.48,617.93 548.23,622.60 C546.98,627.27 545.52,626.73 542.93,631.40 C540.34,636.07 538.29,635.91 538.53,640.10 C538.77,644.29 540.79,643.82 543.83,647.10 C546.87,650.38 547.93,650.96 549.93,652.40 C551.93,653.84 550.72,651.81 551.33,652.50 C551.94,653.19 551.99,654.33 552.23,655.00 L552.23,655.00 L552.23,554.30 Z" fill="#a6e1a6" stroke="#656565" stroke-width="1.2" stroke-linejoin="round"/><path d="M552.23,554.30 C552.35,556.17 552.41,558.23 552.68,561.30 C552.95,564.37 551.86,562.52 553.23,565.80 C554.60,569.08 555.67,569.20 557.83,573.60 C559.99,578.00 560.85,578.11 561.33,582.30 C561.81,586.49 561.02,585.57 559.63,589.30 C558.24,593.03 557.30,592.09 556.13,596.30 C554.96,600.51 554.78,600.41 555.23,605.10 C555.68,609.79 557.59,609.23 557.83,613.90 C558.07,618.57 555.20,617.93 556.13,622.60 C557.06,627.27 558.45,626.73 561.33,631.40 C564.21,636.07 566.93,635.91 566.93,640.10 C566.93,644.29 564.69,643.82 561.33,647.10 C557.97,650.38 556.52,650.96 554.33,652.40 C552.14,653.84 553.69,651.81 553.13,652.50 C552.57,653.19 552.47,654.33 552.23,655.00 L552.23,655.00 L552.23,554.30 Z" fill="#7f9fd7" stroke="#656565" stroke-width="1.2" stroke-linejoin="round"/><line x1="544.73" y1="587.60" x2="552.23" y2="587.60" stroke="#656565" stroke-width="1.2" stroke-dasharray="2.6 2.6"/><line x1="547.87" y1="617.40" x2="552.23" y2="617.40" stroke="#656565" stroke-width="1.2" stroke-dasharray="5.3 5.3"/><line x1="538.93" y1="639.30" x2="552.23" y2="639.30" stroke="#656565" stroke-width="1.2" stroke-dasharray="2.6 2.6"/><line x1="552.23" y1="588.10" x2="559.92" y2="588.10" stroke="#656565" stroke-width="1.2" stroke-dasharray="2.6 2.6"/><line x1="552.23" y1="617.70" x2="557.09" y2="617.70" stroke="#656565" stroke-width="1.2" stroke-dasharray="5.3 5.3"/><line x1="552.23" y1="638.40" x2="565.84" y2="638.40" stroke="#656565" stroke-width="1.2" stroke-dasharray="2.6 2.6"/><line x1="588.45" y1="527.70" x2="588.45" y2="655.70" stroke="#656565" stroke-width="1.4"/><path d="M588.45,543.00 C588.33,544.87 588.27,546.93 588.00,550.00 C587.73,553.07 587.73,551.91 587.45,554.50 C587.17,557.09 587.30,557.30 586.95,559.70 C586.60,562.10 586.07,561.42 586.15,563.50 C586.23,565.58 587.04,565.82 587.25,567.50 C587.46,569.18 588.84,567.83 586.95,569.80 C585.06,571.77 583.30,572.21 580.15,574.90 C577.00,577.59 575.82,577.21 575.15,579.90 C574.48,582.59 577.12,581.85 577.65,585.00 C578.18,588.15 577.02,588.10 577.15,591.70 C577.28,595.30 577.11,594.90 578.15,598.50 C579.19,602.10 579.61,600.72 581.05,605.20 C582.49,609.68 582.96,609.91 583.55,615.30 C584.14,620.69 583.46,620.01 583.25,625.40 C583.04,630.79 582.30,631.02 582.75,635.50 C583.20,639.98 583.62,638.15 584.95,642.20 C586.28,646.25 587.06,648.62 587.75,650.70 C588.44,652.78 587.36,649.52 587.55,650.00 C587.74,650.48 588.21,651.83 588.45,652.50 L588.45,652.50 L588.45,543.00 Z" fill="#a6e1a6" stroke="#656565" stroke-width="1.2" stroke-linejoin="round"/><path d="M588.45,543.00 C588.57,544.87 588.63,546.93 588.90,550.00 C589.17,553.07 589.17,551.91 589.45,554.50 C589.73,557.09 589.60,557.30 589.95,559.70 C590.30,562.10 590.83,561.42 590.75,563.50 C590.67,565.58 589.73,565.37 589.65,567.50 C589.57,569.63 588.72,569.53 590.45,571.50 C592.18,573.47 592.98,572.66 596.15,574.90 C599.32,577.14 601.44,577.21 602.35,579.90 C603.26,582.59 600.08,581.85 599.55,585.00 C599.02,588.15 600.03,588.10 600.35,591.70 C600.67,595.30 601.63,594.90 600.75,598.50 C599.87,602.10 599.16,600.72 597.05,605.20 C594.94,609.68 593.52,609.91 592.85,615.30 C592.18,620.69 594.55,620.01 594.55,625.40 C594.55,630.79 593.54,631.02 592.85,635.50 C592.16,639.98 592.99,638.15 591.95,642.20 C590.91,646.25 589.64,648.62 588.95,650.70 C588.26,652.78 589.48,649.52 589.35,650.00 C589.22,650.48 588.69,651.83 588.45,652.50 L588.45,652.50 L588.45,543.00 Z" fill="#7f9fd7" stroke="#656565" stroke-width="1.2" stroke-linejoin="round"/><line x1="577.45" y1="584.60" x2="588.45" y2="584.60" stroke="#656565" stroke-width="1.2" stroke-dasharray="2.6 2.6"/><line x1="578.08" y1="598.00" x2="588.45" y2="598.00" stroke="#656565" stroke-width="1.2" stroke-dasharray="5.3 5.3"/><line x1="583.35" y1="614.50" x2="588.45" y2="614.50" stroke="#656565" stroke-width="1.2" stroke-dasharray="2.6 2.6"/><line x1="588.45" y1="585.50" x2="599.61" y2="585.50" stroke="#656565" stroke-width="1.2" stroke-dasharray="2.6 2.6"/><line x1="588.45" y1="598.00" x2="600.72" y2="598.00" stroke="#656565" stroke-width="1.2" stroke-dasharray="5.3 5.3"/><line x1="588.45" y1="613.60" x2="593.56" y2="613.60" stroke="#656565" stroke-width="1.2" stroke-dasharray="2.6 2.6"/><line x1="624.67" y1="540.00" x2="624.67" y2="656.50" stroke="#656565" stroke-width="1.4"/><path d="M624.67,555.80 C624.55,557.67 624.49,559.73 624.22,562.80 C623.95,565.87 625.44,563.62 623.67,567.30 C621.90,570.98 620.32,572.33 617.57,576.60 C614.82,580.87 615.08,579.27 613.37,583.30 C611.66,587.33 611.49,586.77 611.17,591.70 C610.85,596.63 611.58,596.41 612.17,601.80 C612.76,607.19 613.26,606.51 613.37,611.90 C613.48,617.29 612.57,616.61 612.57,622.00 C612.57,627.39 613.16,626.71 613.37,632.10 C613.58,637.49 611.80,637.69 613.37,642.20 C614.94,646.71 616.58,645.85 619.27,649.00 C621.96,652.15 622.27,652.93 623.47,654.00 C624.67,655.07 623.45,652.60 623.77,653.00 C624.09,653.40 624.43,654.83 624.67,655.50 L624.67,655.50 L624.67,555.80 Z" fill="#a6e1a6" stroke="#656565" stroke-width="1.2" stroke-linejoin="round"/><path d="M624.67,557.50 C624.79,559.37 624.85,561.43 625.12,564.50 C625.39,567.57 623.63,565.77 625.67,569.00 C627.71,572.23 629.54,572.79 632.77,576.60 C636.00,580.41 636.06,579.27 637.77,583.30 C639.48,587.33 639.06,586.77 639.17,591.70 C639.28,596.63 638.76,596.41 638.17,601.80 C637.58,607.19 637.53,606.51 636.97,611.90 C636.41,617.29 636.31,616.61 636.07,622.00 C635.83,627.39 635.83,626.71 636.07,632.10 C636.31,637.49 638.52,637.69 636.97,642.20 C635.42,646.71 633.20,645.85 630.27,649.00 C627.34,652.15 627.22,652.93 625.97,654.00 C624.72,655.07 625.92,652.60 625.57,653.00 C625.22,653.40 624.91,654.83 624.67,655.50 L624.67,655.50 L624.67,557.50 Z" fill="#7f9fd7" stroke="#656565" stroke-width="1.2" stroke-linejoin="round"/><line x1="611.26" y1="592.60" x2="624.67" y2="592.60" stroke="#656565" stroke-width="1.2" stroke-dasharray="2.6 2.6"/><line x1="613.07" y1="609.40" x2="624.67" y2="609.40" stroke="#656565" stroke-width="1.2" stroke-dasharray="5.3 5.3"/><line x1="613.11" y1="628.80" x2="624.67" y2="628.80" stroke="#656565" stroke-width="1.2" stroke-dasharray="2.6 2.6"/><line x1="624.67" y1="592.60" x2="639.08" y2="592.60" stroke="#656565" stroke-width="1.2" stroke-dasharray="2.6 2.6"/><line x1="624.67" y1="609.40" x2="637.27" y2="609.40" stroke="#656565" stroke-width="1.2" stroke-dasharray="5.3 5.3"/><line x1="624.67" y1="628.30" x2="636.07" y2="628.30" stroke="#656565" stroke-width="1.2" stroke-dasharray="2.6 2.6"/><line x1="660.89" y1="579.90" x2="660.89" y2="650.70" stroke="#656565" stroke-width="1.4"/><path d="M660.89,577.70 C660.77,579.57 660.71,581.63 660.44,584.70 C660.17,587.77 661.53,586.43 659.89,589.20 C658.25,591.97 657.65,592.41 654.29,595.10 C650.93,597.79 648.86,596.61 647.29,599.30 C645.72,601.99 647.99,600.93 648.39,605.20 C648.79,609.47 648.66,609.91 648.79,615.30 C648.92,620.69 648.33,620.92 648.89,625.40 C649.45,629.88 649.21,628.50 650.89,632.10 C652.57,635.70 652.92,635.30 655.19,638.90 C657.46,642.50 658.11,643.97 659.39,645.60 C660.67,647.23 659.59,644.49 659.99,645.00 C660.39,645.51 660.65,646.83 660.89,647.50 L660.89,647.50 L660.89,577.70 Z" fill="#a6e1a6" stroke="#656565" stroke-width="1.2" stroke-linejoin="round"/><path d="M660.89,577.70 C661.01,579.57 661.07,581.63 661.34,584.70 C661.61,587.77 660.17,586.43 661.89,589.20 C663.61,591.97 664.19,592.41 667.79,595.10 C671.39,597.79 673.55,596.61 675.39,599.30 C677.23,601.99 675.09,600.93 674.69,605.20 C674.29,609.47 674.34,609.91 673.89,615.30 C673.44,620.69 673.71,620.92 672.99,625.40 C672.27,629.88 672.79,628.50 671.19,632.10 C669.59,635.70 669.23,635.30 666.99,638.90 C664.75,642.50 664.18,643.97 662.79,645.60 C661.40,647.23 662.30,644.49 661.79,645.00 C661.28,645.51 661.13,646.83 660.89,647.50 L660.89,647.50 L660.89,577.70 Z" fill="#7f9fd7" stroke="#656565" stroke-width="1.2" stroke-linejoin="round"/><line x1="648.13" y1="603.80" x2="660.89" y2="603.80" stroke="#656565" stroke-width="1.2" stroke-dasharray="2.6 2.6"/><line x1="648.73" y1="613.90" x2="660.89" y2="613.90" stroke="#656565" stroke-width="1.2" stroke-dasharray="5.3 5.3"/><line x1="648.89" y1="625.40" x2="660.89" y2="625.40" stroke="#656565" stroke-width="1.2" stroke-dasharray="2.6 2.6"/><line x1="660.89" y1="604.30" x2="674.80" y2="604.30" stroke="#656565" stroke-width="1.2" stroke-dasharray="2.6 2.6"/><line x1="660.89" y1="613.90" x2="674.00" y2="613.90" stroke="#656565" stroke-width="1.2" stroke-dasharray="5.3 5.3"/><line x1="660.89" y1="625.40" x2="672.99" y2="625.40" stroke="#656565" stroke-width="1.2" stroke-dasharray="2.6 2.6"/></g><rect x="616.60" y="524.95" width="58" height="26.1" rx="1.8" fill="#fff" fill-opacity="0.8" stroke="#d6d6d6" stroke-width="0.8"/><rect x="619.9" y="528.65" width="16.8" height="6.2" fill="#a6e1a6" stroke="#656565" stroke-width="0.8"/><rect x="619.9" y="540.45" width="16.8" height="6.2" fill="#7f9fd7" stroke="#656565" stroke-width="0.8"/><text x="642.40" y="534.65" font-size="8.82" text-anchor="start" textLength="25.80" lengthAdjust="spacingAndGlyphs" fill="#000" >In situ</text><text x="642.50" y="546.55" font-size="8.82" text-anchor="start" textLength="29.08" lengthAdjust="spacingAndGlyphs" fill="#000" >SMRFR</text><line x1="494.50" y1="653.60" x2="497.90" y2="653.60" stroke="#000" stroke-width="0.8"/><text x="492.00" y="657.00" font-size="9.4" text-anchor="end" fill="#000" >0.0</text><line x1="494.50" y1="617.16" x2="497.90" y2="617.16" stroke="#000" stroke-width="0.8"/><text x="492.00" y="620.56" font-size="9.4" text-anchor="end" fill="#000" >0.2</text><line x1="494.50" y1="580.72" x2="497.90" y2="580.72" stroke="#000" stroke-width="0.8"/><text x="492.00" y="584.12" font-size="9.4" text-anchor="end" fill="#000" >0.4</text><line x1="494.50" y1="544.28" x2="497.90" y2="544.28" stroke="#000" stroke-width="0.8"/><text x="492.00" y="547.68" font-size="9.4" text-anchor="end" fill="#000" >0.6</text><line x1="516.01" y1="667.65" x2="516.01" y2="671.05" stroke="#000" stroke-width="0.8"/><g transform="translate(507.24,684.05) rotate(-10)"><text x="0.00" y="0.00" font-size="10.14" text-anchor="start" textLength="18.67" lengthAdjust="spacingAndGlyphs" fill="#000" >Arid</text></g><line x1="552.23" y1="667.65" x2="552.23" y2="671.05" stroke="#000" stroke-width="0.8"/><g transform="translate(534.39,687.25) rotate(-10)"><text x="0.00" y="0.00" font-size="10.14" text-anchor="start" textLength="37.08" lengthAdjust="spacingAndGlyphs" fill="#000" >Tropical</text></g><line x1="588.45" y1="667.65" x2="588.45" y2="671.05" stroke="#000" stroke-width="0.8"/><g transform="translate(563.77,689.66) rotate(-10)"><text x="0.00" y="0.00" font-size="10.14" text-anchor="start" textLength="50.98" lengthAdjust="spacingAndGlyphs" fill="#000" >Temperate</text></g><line x1="624.67" y1="667.65" x2="624.67" y2="671.05" stroke="#000" stroke-width="0.8"/><g transform="translate(598.62,690.14) rotate(-10)"><text x="0.00" y="0.00" font-size="10.14" text-anchor="start" textLength="53.75" lengthAdjust="spacingAndGlyphs" fill="#000" >Continental</text></g><line x1="660.89" y1="667.65" x2="660.89" y2="671.05" stroke="#000" stroke-width="0.8"/><g transform="translate(649.79,684.87) rotate(-10)"><text x="0.00" y="0.00" font-size="10.14" text-anchor="start" textLength="23.40" lengthAdjust="spacingAndGlyphs" fill="#000" >Polar</text></g><rect x="497.90" y="521.05" width="181.10" height="146.60" fill="none" stroke="#000" stroke-width="0.8"/><line x1="37.30" y1="667.65" x2="37.30" y2="671.05" stroke="#000" stroke-width="0.8"/><text x="37.30" y="679.95" font-size="9.4" text-anchor="middle" fill="#000" >0.0</text><line x1="82.57" y1="667.65" x2="82.57" y2="671.05" stroke="#000" stroke-width="0.8"/><text x="82.57" y="679.95" font-size="9.4" text-anchor="middle" fill="#000" >0.2</text><line x1="127.85" y1="667.65" x2="127.85" y2="671.05" stroke="#000" stroke-width="0.8"/><text x="127.85" y="679.95" font-size="9.4" text-anchor="middle" fill="#000" >0.4</text><line x1="173.12" y1="667.65" x2="173.12" y2="671.05" stroke="#000" stroke-width="0.8"/><text x="173.12" y="679.95" font-size="9.4" text-anchor="middle" fill="#000" >0.6</text><line x1="218.40" y1="667.65" x2="218.40" y2="671.05" stroke="#000" stroke-width="0.8"/><text x="218.40" y="679.95" font-size="9.4" text-anchor="middle" fill="#000" >0.8</text><line x1="33.90" y1="667.65" x2="37.30" y2="667.65" stroke="#000" stroke-width="0.8"/><text x="31.40" y="671.05" font-size="9.4" text-anchor="end" fill="#000" >0.0</text><line x1="33.90" y1="631.00" x2="37.30" y2="631.00" stroke="#000" stroke-width="0.8"/><text x="31.40" y="634.40" font-size="9.4" text-anchor="end" fill="#000" >0.2</text><line x1="33.90" y1="594.35" x2="37.30" y2="594.35" stroke="#000" stroke-width="0.8"/><text x="31.40" y="597.75" font-size="9.4" text-anchor="end" fill="#000" >0.4</text><line x1="33.90" y1="557.70" x2="37.30" y2="557.70" stroke="#000" stroke-width="0.8"/><text x="31.40" y="561.10" font-size="9.4" text-anchor="end" fill="#000" >0.6</text><line x1="33.90" y1="521.05" x2="37.30" y2="521.05" stroke="#000" stroke-width="0.8"/><text x="31.40" y="524.45" font-size="9.4" text-anchor="end" fill="#000" >0.8</text><line x1="267.60" y1="667.65" x2="267.60" y2="671.05" stroke="#000" stroke-width="0.8"/><text x="267.60" y="679.95" font-size="9.4" text-anchor="middle" fill="#000" >0.0</text><line x1="312.88" y1="667.65" x2="312.88" y2="671.05" stroke="#000" stroke-width="0.8"/><text x="312.88" y="679.95" font-size="9.4" text-anchor="middle" fill="#000" >0.2</text><line x1="358.15" y1="667.65" x2="358.15" y2="671.05" stroke="#000" stroke-width="0.8"/><text x="358.15" y="679.95" font-size="9.4" text-anchor="middle" fill="#000" >0.4</text><line x1="403.43" y1="667.65" x2="403.43" y2="671.05" stroke="#000" stroke-width="0.8"/><text x="403.43" y="679.95" font-size="9.4" text-anchor="middle" fill="#000" >0.6</text><line x1="448.70" y1="667.65" x2="448.70" y2="671.05" stroke="#000" stroke-width="0.8"/><text x="448.70" y="679.95" font-size="9.4" text-anchor="middle" fill="#000" >0.8</text><line x1="264.20" y1="667.65" x2="267.60" y2="667.65" stroke="#000" stroke-width="0.8"/><text x="261.70" y="671.05" font-size="9.4" text-anchor="end" fill="#000" >0.0</text><line x1="264.20" y1="631.00" x2="267.60" y2="631.00" stroke="#000" stroke-width="0.8"/><text x="261.70" y="634.40" font-size="9.4" text-anchor="end" fill="#000" >0.5</text><line x1="264.20" y1="594.35" x2="267.60" y2="594.35" stroke="#000" stroke-width="0.8"/><text x="261.70" y="597.75" font-size="9.4" text-anchor="end" fill="#000" >1.0</text><line x1="264.20" y1="557.70" x2="267.60" y2="557.70" stroke="#000" stroke-width="0.8"/><text x="261.70" y="561.10" font-size="9.4" text-anchor="end" fill="#000" >1.5</text><line x1="264.20" y1="521.05" x2="267.60" y2="521.05" stroke="#000" stroke-width="0.8"/><text x="261.70" y="524.45" font-size="9.4" text-anchor="end" fill="#000" >2.0</text><clipPath id="clip04"><rect x="37.30" y="689.50" width="181.10" height="146.60"/></clipPath><g clip-path="url(#clip04)"><polygon points="55.3,817.5 55.5,817.4 66.3,812.5 77.4,805.8 87.8,799.6 95.3,791.5 96.2,790.6 104.1,784.0 112.0,777.4 112.0,777.4 119.6,771.2 127.1,763.7 134.9,755.8 134.9,755.7 137.2,753.4 130.7,756.0 118.6,763.2 106.8,771.9 101.8,777.7 101.1,778.4 100.5,779.0 89.1,788.1 77.6,798.4 65.9,809.0 65.4,809.4 55.3,817.5" fill="#759adc"/><path d="M168 695h1v1h-1zM191 697h1v1h-1zM170 700h1v1h-1zM189 701h1v1h-1zM151 702h1v1h-1zM156 703h1v1h-1zM191 706h1v1h-1zM194 708h1v1h-1zM200 708h1v1h-1zM178 709h2v1h-2zM177 710h1v1h-1zM187 710h1v1h-1zM178 711h1v1h-1zM182 711h2v1h-2zM188 711h1v1h-1zM135 713h1v1h-1zM171 713h1v1h-1zM177 713h1v1h-1zM179 713h2v1h-2zM197 713h1v1h-1zM174 714h1v1h-1zM177 714h2v1h-2zM180 714h3v1h-3zM195 714h1v1h-1zM179 715h5v1h-5zM185 715h1v1h-1zM167 716h2v1h-2zM172 716h1v1h-1zM174 716h1v1h-1zM176 716h1v1h-1zM179 716h4v1h-4zM184 716h1v1h-1zM153 717h1v1h-1zM170 717h2v1h-2zM174 717h1v1h-1zM177 717h5v1h-5zM184 717h1v1h-1zM186 717h2v1h-2zM161 718h1v1h-1zM166 718h1v1h-1zM171 718h1v1h-1zM175 718h8v1h-8zM164 719h1v1h-1zM170 719h1v1h-1zM176 719h1v1h-1zM180 719h2v1h-2zM186 719h1v1h-1zM163 720h1v1h-1zM171 720h1v1h-1zM173 720h1v1h-1zM176 720h6v1h-6zM183 720h1v1h-1zM185 720h2v1h-2zM194 720h1v1h-1zM160 721h1v1h-1zM169 721h2v1h-2zM175 721h4v1h-4zM180 721h3v1h-3zM184 721h1v1h-1zM187 721h1v1h-1zM152 722h1v1h-1zM169 722h3v1h-3zM173 722h1v1h-1zM175 722h4v1h-4zM180 722h1v1h-1zM186 722h2v1h-2zM166 723h2v1h-2zM169 723h1v1h-1zM173 723h2v1h-2zM176 723h2v1h-2zM179 723h3v1h-3zM184 723h1v1h-1zM160 724h2v1h-2zM163 724h1v1h-1zM166 724h6v1h-6zM173 724h4v1h-4zM178 724h1v1h-1zM182 724h1v1h-1zM161 725h1v1h-1zM165 725h3v1h-3zM170 725h1v1h-1zM172 725h3v1h-3zM178 725h1v1h-1zM181 725h1v1h-1zM183 725h1v1h-1zM160 726h1v1h-1zM169 726h7v1h-7zM178 726h1v1h-1zM181 726h1v1h-1zM195 726h1v1h-1zM144 727h2v1h-2zM161 727h2v1h-2zM166 727h3v1h-3zM171 727h4v1h-4zM177 727h3v1h-3zM157 728h1v1h-1zM159 728h1v1h-1zM161 728h2v1h-2zM164 728h14v1h-14zM160 729h1v1h-1zM162 729h1v1h-1zM165 729h3v1h-3zM169 729h3v1h-3zM174 729h1v1h-1zM176 729h2v1h-2zM137 730h1v1h-1zM157 730h1v1h-1zM161 730h2v1h-2zM164 730h4v1h-4zM170 730h1v1h-1zM172 730h2v1h-2zM138 731h1v1h-1zM156 731h3v1h-3zM160 731h9v1h-9zM170 731h1v1h-1zM172 731h2v1h-2zM175 731h2v1h-2zM189 731h1v1h-1zM147 732h1v1h-1zM159 732h2v1h-2zM162 732h8v1h-8zM172 732h2v1h-2zM179 732h3v1h-3zM62 733h1v1h-1zM108 733h1v1h-1zM122 733h1v1h-1zM155 733h1v1h-1zM158 733h4v1h-4zM163 733h7v1h-7zM175 733h1v1h-1zM130 734h1v1h-1zM144 734h1v1h-1zM150 734h1v1h-1zM153 734h8v1h-8zM162 734h1v1h-1zM164 734h2v1h-2zM168 734h1v1h-1zM173 734h2v1h-2zM176 734h1v1h-1zM181 734h1v1h-1zM120 735h1v1h-1zM125 735h1v1h-1zM136 735h1v1h-1zM141 735h1v1h-1zM147 735h1v1h-1zM150 735h4v1h-4zM156 735h2v1h-2zM159 735h6v1h-6zM166 735h1v1h-1zM169 735h1v1h-1zM177 735h1v1h-1zM134 736h1v1h-1zM142 736h1v1h-1zM148 736h1v1h-1zM152 736h3v1h-3zM156 736h4v1h-4zM161 736h2v1h-2zM166 736h1v1h-1zM169 736h1v1h-1zM121 737h1v1h-1zM135 737h1v1h-1zM144 737h1v1h-1zM149 737h1v1h-1zM156 737h8v1h-8zM165 737h1v1h-1zM168 737h1v1h-1zM171 737h1v1h-1zM109 738h1v1h-1zM124 738h1v1h-1zM136 738h1v1h-1zM139 738h1v1h-1zM143 738h1v1h-1zM147 738h2v1h-2zM150 738h1v1h-1zM152 738h9v1h-9zM164 738h1v1h-1zM106 739h1v1h-1zM127 739h2v1h-2zM133 739h1v1h-1zM135 739h1v1h-1zM137 739h1v1h-1zM142 739h2v1h-2zM147 739h2v1h-2zM150 739h3v1h-3zM154 739h5v1h-5zM161 739h2v1h-2zM168 739h3v1h-3zM178 739h1v1h-1zM127 740h1v1h-1zM129 740h1v1h-1zM131 740h2v1h-2zM136 740h3v1h-3zM140 740h1v1h-1zM142 740h2v1h-2zM146 740h1v1h-1zM149 740h9v1h-9zM159 740h3v1h-3zM163 740h2v1h-2zM168 740h1v1h-1zM102 741h1v1h-1zM110 741h1v1h-1zM112 741h1v1h-1zM123 741h1v1h-1zM126 741h2v1h-2zM134 741h2v1h-2zM138 741h23v1h-23zM162 741h1v1h-1zM170 741h1v1h-1zM174 741h1v1h-1zM109 742h1v1h-1zM114 742h1v1h-1zM123 742h1v1h-1zM126 742h2v1h-2zM129 742h2v1h-2zM132 742h1v1h-1zM134 742h4v1h-4zM140 742h20v1h-20zM163 742h2v1h-2zM167 742h1v1h-1zM98 743h1v1h-1zM121 743h1v1h-1zM125 743h1v1h-1zM127 743h2v1h-2zM130 743h1v1h-1zM132 743h3v1h-3zM136 743h28v1h-28zM166 743h1v1h-1zM120 744h1v1h-1zM122 744h1v1h-1zM124 744h1v1h-1zM127 744h2v1h-2zM130 744h1v1h-1zM132 744h1v1h-1zM134 744h1v1h-1zM136 744h24v1h-24zM164 744h1v1h-1zM196 744h1v1h-1zM111 745h2v1h-2zM116 745h1v1h-1zM120 745h1v1h-1zM122 745h1v1h-1zM124 745h2v1h-2zM127 745h2v1h-2zM131 745h2v1h-2zM134 745h3v1h-3zM138 745h19v1h-19zM158 745h2v1h-2zM162 745h1v1h-1zM166 745h1v1h-1zM119 746h2v1h-2zM125 746h33v1h-33zM159 746h3v1h-3zM104 747h1v1h-1zM107 747h1v1h-1zM110 747h1v1h-1zM116 747h2v1h-2zM119 747h1v1h-1zM122 747h1v1h-1zM125 747h1v1h-1zM127 747h31v1h-31zM159 747h1v1h-1zM165 747h1v1h-1zM171 747h1v1h-1zM81 748h1v1h-1zM101 748h1v1h-1zM108 748h2v1h-2zM112 748h1v1h-1zM115 748h1v1h-1zM117 748h2v1h-2zM120 748h36v1h-36zM157 748h1v1h-1zM159 748h1v1h-1zM162 748h1v1h-1zM102 749h1v1h-1zM104 749h1v1h-1zM109 749h1v1h-1zM113 749h1v1h-1zM115 749h4v1h-4zM121 749h35v1h-35zM157 749h1v1h-1zM160 749h2v1h-2zM163 749h2v1h-2zM79 750h1v1h-1zM94 750h1v1h-1zM113 750h3v1h-3zM117 750h1v1h-1zM119 750h1v1h-1zM121 750h4v1h-4zM126 750h28v1h-28zM156 750h2v1h-2zM95 751h1v1h-1zM100 751h1v1h-1zM103 751h1v1h-1zM107 751h1v1h-1zM111 751h1v1h-1zM113 751h1v1h-1zM118 751h4v1h-4zM123 751h2v1h-2zM126 751h28v1h-28zM155 751h3v1h-3zM159 751h1v1h-1zM88 752h1v1h-1zM102 752h1v1h-1zM106 752h1v1h-1zM109 752h3v1h-3zM117 752h1v1h-1zM119 752h30v1h-30zM150 752h3v1h-3zM158 752h1v1h-1zM166 752h1v1h-1zM99 753h1v1h-1zM102 753h1v1h-1zM104 753h1v1h-1zM108 753h4v1h-4zM113 753h1v1h-1zM115 753h1v1h-1zM117 753h3v1h-3zM121 753h31v1h-31zM155 753h1v1h-1zM108 754h4v1h-4zM113 754h6v1h-6zM120 754h30v1h-30zM156 754h2v1h-2zM164 754h1v1h-1zM95 755h1v1h-1zM100 755h1v1h-1zM105 755h3v1h-3zM111 755h1v1h-1zM113 755h32v1h-32zM147 755h2v1h-2zM151 755h1v1h-1zM157 755h1v1h-1zM166 755h1v1h-1zM178 755h1v1h-1zM67 756h1v1h-1zM94 756h1v1h-1zM97 756h1v1h-1zM99 756h1v1h-1zM101 756h1v1h-1zM103 756h1v1h-1zM107 756h2v1h-2zM112 756h35v1h-35zM148 756h1v1h-1zM151 756h1v1h-1zM160 756h1v1h-1zM93 757h1v1h-1zM97 757h1v1h-1zM101 757h2v1h-2zM104 757h4v1h-4zM109 757h40v1h-40zM150 757h2v1h-2zM155 757h1v1h-1zM98 758h1v1h-1zM107 758h22v1h-22zM131 758h16v1h-16zM151 758h1v1h-1zM153 758h1v1h-1zM77 759h1v1h-1zM79 759h1v1h-1zM91 759h2v1h-2zM100 759h1v1h-1zM102 759h2v1h-2zM107 759h2v1h-2zM111 759h16v1h-16zM130 759h14v1h-14zM145 759h6v1h-6zM96 760h1v1h-1zM98 760h1v1h-1zM100 760h1v1h-1zM103 760h2v1h-2zM106 760h2v1h-2zM109 760h17v1h-17zM129 760h14v1h-14zM145 760h1v1h-1zM147 760h2v1h-2zM150 760h1v1h-1zM154 760h3v1h-3zM87 761h1v1h-1zM95 761h2v1h-2zM99 761h1v1h-1zM103 761h1v1h-1zM105 761h1v1h-1zM107 761h17v1h-17zM128 761h13v1h-13zM89 762h1v1h-1zM96 762h1v1h-1zM100 762h3v1h-3zM104 762h18v1h-18zM127 762h16v1h-16zM144 762h2v1h-2zM147 762h1v1h-1zM85 763h1v1h-1zM88 763h2v1h-2zM91 763h1v1h-1zM93 763h1v1h-1zM96 763h2v1h-2zM99 763h2v1h-2zM102 763h4v1h-4zM107 763h2v1h-2zM110 763h11v1h-11zM126 763h16v1h-16zM144 763h1v1h-1zM149 763h1v1h-1zM151 763h1v1h-1zM86 764h1v1h-1zM89 764h1v1h-1zM97 764h2v1h-2zM102 764h4v1h-4zM107 764h12v1h-12zM125 764h14v1h-14zM140 764h2v1h-2zM143 764h3v1h-3zM149 764h1v1h-1zM79 765h1v1h-1zM94 765h1v1h-1zM96 765h3v1h-3zM100 765h18v1h-18zM124 765h12v1h-12zM137 765h6v1h-6zM145 765h1v1h-1zM75 766h2v1h-2zM82 766h1v1h-1zM84 766h1v1h-1zM86 766h1v1h-1zM91 766h1v1h-1zM93 766h1v1h-1zM96 766h2v1h-2zM100 766h5v1h-5zM106 766h10v1h-10zM123 766h13v1h-13zM138 766h3v1h-3zM145 766h1v1h-1zM147 766h1v1h-1zM70 767h1v1h-1zM83 767h1v1h-1zM86 767h1v1h-1zM89 767h1v1h-1zM92 767h23v1h-23zM122 767h17v1h-17zM145 767h1v1h-1zM86 768h1v1h-1zM88 768h4v1h-4zM93 768h1v1h-1zM97 768h2v1h-2zM100 768h13v1h-13zM121 768h18v1h-18zM144 768h1v1h-1zM92 769h2v1h-2zM95 769h17v1h-17zM120 769h17v1h-17zM138 769h1v1h-1zM140 769h1v1h-1zM64 770h1v1h-1zM71 770h1v1h-1zM83 770h1v1h-1zM85 770h1v1h-1zM88 770h1v1h-1zM90 770h2v1h-2zM94 770h1v1h-1zM96 770h1v1h-1zM98 770h13v1h-13zM119 770h13v1h-13zM133 770h2v1h-2zM81 771h1v1h-1zM86 771h1v1h-1zM88 771h1v1h-1zM90 771h2v1h-2zM93 771h3v1h-3zM97 771h12v1h-12zM117 771h16v1h-16zM134 771h3v1h-3zM141 771h1v1h-1zM169 771h1v1h-1zM64 772h1v1h-1zM86 772h1v1h-1zM88 772h4v1h-4zM93 772h4v1h-4zM98 772h10v1h-10zM116 772h16v1h-16zM133 772h2v1h-2zM140 772h1v1h-1zM173 772h1v1h-1zM70 773h1v1h-1zM80 773h1v1h-1zM88 773h9v1h-9zM98 773h9v1h-9zM115 773h17v1h-17zM133 773h1v1h-1zM135 773h1v1h-1zM65 774h1v1h-1zM71 774h1v1h-1zM79 774h2v1h-2zM83 774h5v1h-5zM89 774h1v1h-1zM92 774h1v1h-1zM94 774h2v1h-2zM97 774h9v1h-9zM114 774h15v1h-15zM130 774h1v1h-1zM134 774h2v1h-2zM139 774h1v1h-1zM164 774h1v1h-1zM77 775h2v1h-2zM81 775h3v1h-3zM88 775h4v1h-4zM93 775h12v1h-12zM112 775h14v1h-14zM127 775h2v1h-2zM130 775h3v1h-3zM136 775h1v1h-1zM144 775h1v1h-1zM72 776h1v1h-1zM76 776h3v1h-3zM81 776h2v1h-2zM85 776h2v1h-2zM90 776h3v1h-3zM94 776h1v1h-1zM96 776h8v1h-8zM111 776h16v1h-16zM128 776h1v1h-1zM134 776h1v1h-1zM58 777h1v1h-1zM71 777h2v1h-2zM74 777h1v1h-1zM76 777h1v1h-1zM80 777h4v1h-4zM85 777h2v1h-2zM88 777h2v1h-2zM91 777h13v1h-13zM110 777h17v1h-17zM128 777h1v1h-1zM131 777h1v1h-1zM133 777h1v1h-1zM141 777h1v1h-1zM164 777h1v1h-1zM66 778h1v1h-1zM78 778h1v1h-1zM83 778h1v1h-1zM85 778h18v1h-18zM109 778h15v1h-15zM125 778h2v1h-2zM67 779h1v1h-1zM72 779h1v1h-1zM77 779h1v1h-1zM81 779h1v1h-1zM84 779h1v1h-1zM86 779h1v1h-1zM88 779h14v1h-14zM108 779h17v1h-17zM127 779h2v1h-2zM130 779h1v1h-1zM141 779h1v1h-1zM58 780h1v1h-1zM78 780h1v1h-1zM82 780h1v1h-1zM85 780h2v1h-2zM88 780h13v1h-13zM106 780h17v1h-17zM124 780h2v1h-2zM127 780h1v1h-1zM129 780h1v1h-1zM72 781h1v1h-1zM76 781h1v1h-1zM79 781h1v1h-1zM84 781h15v1h-15zM105 781h16v1h-16zM122 781h2v1h-2zM126 781h1v1h-1zM128 781h3v1h-3zM59 782h1v1h-1zM73 782h1v1h-1zM80 782h1v1h-1zM82 782h2v1h-2zM85 782h13v1h-13zM104 782h17v1h-17zM123 782h2v1h-2zM126 782h2v1h-2zM130 782h1v1h-1zM139 782h1v1h-1zM46 783h1v1h-1zM66 783h1v1h-1zM77 783h1v1h-1zM79 783h2v1h-2zM82 783h15v1h-15zM103 783h18v1h-18zM122 783h1v1h-1zM45 784h1v1h-1zM63 784h1v1h-1zM70 784h2v1h-2zM74 784h1v1h-1zM76 784h1v1h-1zM79 784h3v1h-3zM83 784h4v1h-4zM88 784h8v1h-8zM102 784h15v1h-15zM118 784h3v1h-3zM122 784h1v1h-1zM124 784h1v1h-1zM127 784h1v1h-1zM140 784h1v1h-1zM61 785h1v1h-1zM67 785h1v1h-1zM72 785h1v1h-1zM74 785h1v1h-1zM76 785h1v1h-1zM78 785h16v1h-16zM100 785h19v1h-19zM126 785h1v1h-1zM68 786h1v1h-1zM73 786h1v1h-1zM75 786h3v1h-3zM79 786h14v1h-14zM99 786h17v1h-17zM117 786h2v1h-2zM123 786h1v1h-1zM55 787h2v1h-2zM59 787h1v1h-1zM64 787h1v1h-1zM67 787h2v1h-2zM71 787h7v1h-7zM79 787h13v1h-13zM98 787h17v1h-17zM116 787h1v1h-1zM124 787h1v1h-1zM129 787h1v1h-1zM60 788h1v1h-1zM67 788h1v1h-1zM69 788h1v1h-1zM73 788h6v1h-6zM80 788h11v1h-11zM97 788h17v1h-17zM48 789h1v1h-1zM61 789h1v1h-1zM64 789h1v1h-1zM67 789h1v1h-1zM69 789h2v1h-2zM72 789h3v1h-3zM76 789h13v1h-13zM96 789h15v1h-15zM112 789h2v1h-2zM116 789h1v1h-1zM43 790h1v1h-1zM54 790h1v1h-1zM63 790h1v1h-1zM67 790h1v1h-1zM70 790h18v1h-18zM95 790h14v1h-14zM117 790h1v1h-1zM57 791h1v1h-1zM62 791h2v1h-2zM65 791h3v1h-3zM70 791h5v1h-5zM76 791h11v1h-11zM94 791h14v1h-14zM109 791h3v1h-3zM113 791h2v1h-2zM116 791h1v1h-1zM44 792h1v1h-1zM56 792h1v1h-1zM64 792h1v1h-1zM66 792h2v1h-2zM71 792h4v1h-4zM76 792h10v1h-10zM93 792h16v1h-16zM110 792h1v1h-1zM114 792h1v1h-1zM120 792h1v1h-1zM133 792h1v1h-1zM46 793h1v1h-1zM53 793h2v1h-2zM58 793h1v1h-1zM62 793h1v1h-1zM65 793h1v1h-1zM69 793h16v1h-16zM92 793h16v1h-16zM112 793h1v1h-1zM114 793h2v1h-2zM52 794h1v1h-1zM58 794h1v1h-1zM66 794h2v1h-2zM69 794h4v1h-4zM74 794h10v1h-10zM91 794h12v1h-12zM104 794h3v1h-3zM109 794h1v1h-1zM112 794h1v1h-1zM114 794h1v1h-1zM116 794h1v1h-1zM120 794h1v1h-1zM134 794h1v1h-1zM47 795h1v1h-1zM50 795h1v1h-1zM54 795h1v1h-1zM57 795h2v1h-2zM64 795h3v1h-3zM68 795h15v1h-15zM90 795h14v1h-14zM105 795h1v1h-1zM107 795h1v1h-1zM109 795h1v1h-1zM112 795h1v1h-1zM116 795h1v1h-1zM124 795h1v1h-1zM40 796h1v1h-1zM48 796h1v1h-1zM57 796h1v1h-1zM61 796h4v1h-4zM66 796h3v1h-3zM70 796h12v1h-12zM89 796h14v1h-14zM104 796h1v1h-1zM109 796h1v1h-1zM111 796h1v1h-1zM51 797h1v1h-1zM53 797h1v1h-1zM59 797h1v1h-1zM61 797h1v1h-1zM63 797h1v1h-1zM65 797h15v1h-15zM88 797h19v1h-19zM111 797h3v1h-3zM117 797h1v1h-1zM47 798h1v1h-1zM49 798h1v1h-1zM55 798h1v1h-1zM58 798h1v1h-1zM60 798h1v1h-1zM62 798h3v1h-3zM66 798h1v1h-1zM68 798h11v1h-11zM87 798h15v1h-15zM103 798h2v1h-2zM112 798h1v1h-1zM114 798h1v1h-1zM38 799h1v1h-1zM49 799h1v1h-1zM54 799h1v1h-1zM57 799h2v1h-2zM60 799h1v1h-1zM62 799h16v1h-16zM86 799h14v1h-14zM103 799h2v1h-2zM107 799h2v1h-2zM41 800h1v1h-1zM45 800h2v1h-2zM50 800h1v1h-1zM54 800h3v1h-3zM59 800h5v1h-5zM66 800h11v1h-11zM84 800h15v1h-15zM101 800h1v1h-1zM105 800h1v1h-1zM113 800h1v1h-1zM47 801h1v1h-1zM50 801h1v1h-1zM52 801h2v1h-2zM58 801h7v1h-7zM66 801h10v1h-10zM82 801h14v1h-14zM97 801h2v1h-2zM100 801h2v1h-2zM107 801h1v1h-1zM109 801h1v1h-1zM112 801h1v1h-1zM47 802h3v1h-3zM52 802h2v1h-2zM56 802h2v1h-2zM60 802h2v1h-2zM64 802h2v1h-2zM68 802h7v1h-7zM81 802h19v1h-19zM105 802h1v1h-1zM110 802h1v1h-1zM126 802h1v1h-1zM42 803h1v1h-1zM47 803h2v1h-2zM51 803h1v1h-1zM53 803h1v1h-1zM58 803h4v1h-4zM63 803h1v1h-1zM66 803h8v1h-8zM79 803h19v1h-19zM99 803h1v1h-1zM118 803h1v1h-1zM43 804h2v1h-2zM47 804h5v1h-5zM55 804h2v1h-2zM58 804h8v1h-8zM67 804h6v1h-6zM77 804h19v1h-19zM100 804h1v1h-1zM104 804h1v1h-1zM110 804h1v1h-1zM120 804h1v1h-1zM42 805h1v1h-1zM46 805h1v1h-1zM54 805h1v1h-1zM56 805h16v1h-16zM76 805h20v1h-20zM98 805h2v1h-2zM109 805h1v1h-1zM44 806h5v1h-5zM50 806h1v1h-1zM57 806h13v1h-13zM74 806h22v1h-22zM98 806h3v1h-3zM44 807h2v1h-2zM48 807h2v1h-2zM51 807h1v1h-1zM53 807h8v1h-8zM62 807h7v1h-7zM72 807h18v1h-18zM91 807h4v1h-4zM96 807h1v1h-1zM99 807h1v1h-1zM122 807h1v1h-1zM147 807h1v1h-1zM42 808h1v1h-1zM45 808h5v1h-5zM54 808h14v1h-14zM71 808h20v1h-20zM92 808h1v1h-1zM102 808h1v1h-1zM105 808h1v1h-1zM41 809h1v1h-1zM46 809h9v1h-9zM56 809h11v1h-11zM69 809h22v1h-22zM95 809h1v1h-1zM40 810h1v1h-1zM42 810h2v1h-2zM47 810h1v1h-1zM50 810h16v1h-16zM67 810h19v1h-19zM87 810h1v1h-1zM89 810h1v1h-1zM95 810h2v1h-2zM38 811h1v1h-1zM44 811h2v1h-2zM47 811h18v1h-18zM66 811h19v1h-19zM86 811h6v1h-6zM93 811h1v1h-1zM40 812h5v1h-5zM47 812h2v1h-2zM50 812h31v1h-31zM82 812h5v1h-5zM88 812h1v1h-1zM90 812h1v1h-1zM38 813h1v1h-1zM44 813h2v1h-2zM47 813h2v1h-2zM50 813h32v1h-32zM83 813h1v1h-1zM90 813h3v1h-3zM41 814h8v1h-8zM50 814h30v1h-30zM81 814h3v1h-3zM85 814h1v1h-1zM87 814h1v1h-1zM89 814h1v1h-1zM38 815h1v1h-1zM40 815h1v1h-1zM42 815h1v1h-1zM44 815h1v1h-1zM46 815h3v1h-3zM50 815h30v1h-30zM81 815h6v1h-6zM90 815h1v1h-1zM41 816h5v1h-5zM47 816h1v1h-1zM49 816h27v1h-27zM77 816h3v1h-3zM81 816h1v1h-1zM41 817h34v1h-34zM77 817h3v1h-3zM86 817h1v1h-1zM93 817h1v1h-1zM96 817h1v1h-1zM38 818h1v1h-1zM40 818h34v1h-34zM75 818h1v1h-1zM77 818h1v1h-1zM79 818h1v1h-1zM83 818h2v1h-2zM38 819h1v1h-1zM41 819h29v1h-29zM71 819h3v1h-3zM75 819h2v1h-2zM80 819h1v1h-1zM82 819h1v1h-1zM38 820h1v1h-1zM40 820h32v1h-32zM90 820h1v1h-1zM38 821h1v1h-1zM40 821h1v1h-1zM42 821h23v1h-23zM66 821h8v1h-8zM84 821h1v1h-1zM102 821h1v1h-1zM38 822h27v1h-27zM66 822h2v1h-2zM69 822h2v1h-2zM81 822h1v1h-1zM38 823h29v1h-29zM70 823h2v1h-2zM74 823h2v1h-2zM78 823h1v1h-1zM38 824h11v1h-11zM50 824h13v1h-13zM65 824h1v1h-1zM67 824h1v1h-1zM72 824h2v1h-2zM77 824h1v1h-1zM38 825h8v1h-8zM47 825h11v1h-11zM59 825h6v1h-6zM66 825h1v1h-1zM68 825h1v1h-1zM38 826h8v1h-8zM47 826h15v1h-15zM65 826h2v1h-2zM81 826h1v1h-1zM98 826h1v1h-1zM38 827h14v1h-14zM53 827h6v1h-6zM63 827h3v1h-3zM107 827h1v1h-1zM38 828h2v1h-2zM41 828h1v1h-1zM44 828h13v1h-13zM60 828h1v1h-1zM62 828h1v1h-1zM70 828h1v1h-1zM86 828h1v1h-1zM38 829h2v1h-2zM41 829h7v1h-7zM51 829h1v1h-1zM53 829h4v1h-4zM65 829h1v1h-1zM69 829h1v1h-1zM38 830h14v1h-14zM53 830h2v1h-2zM57 830h1v1h-1zM59 830h1v1h-1zM38 831h3v1h-3zM42 831h4v1h-4zM48 831h1v1h-1zM52 831h1v1h-1zM72 831h1v1h-1zM38 832h7v1h-7zM47 832h3v1h-3zM53 832h1v1h-1zM57 832h1v1h-1zM73 832h1v1h-1zM38 833h5v1h-5zM44 833h1v1h-1zM46 833h1v1h-1zM50 833h1v1h-1zM53 833h1v1h-1zM61 833h1v1h-1zM39 834h1v1h-1zM45 834h2v1h-2zM49 834h1v1h-1zM51 834h1v1h-1zM86 834h1v1h-1zM38 835h1v1h-1zM43 835h1v1h-1zM56 835h1v1h-1zM41 836h1v1h-1zM47 836h1v1h-1zM61 836h1v1h-1zM72 836h1v1h-1z" fill="#759adc"/><line x1="37.30" y1="836.10" x2="218.40" y2="689.50" stroke="#f02020" stroke-width="1.3" stroke-dasharray="1.3 2.0" stroke-linecap="butt"/><line x1="37.30" y1="834.34" x2="218.40" y2="693.38" stroke="#000" stroke-width="1.3"/></g><text x="47.90" y="704.60" font-size="10.50" text-anchor="start" textLength="56.06" lengthAdjust="spacingAndGlyphs" fill="#000" >n = 93,247</text><text x="47.90" y="715.40" font-size="10.50" text-anchor="start" textLength="104.93" lengthAdjust="spacingAndGlyphs" fill="#000" >y = 0.9615x+0.0096</text><text x="47.90" y="726.10" font-size="10.50" text-anchor="start" textLength="53.84" lengthAdjust="spacingAndGlyphs" fill="#000" >r = 0.9819</text><text x="47.90" y="739.20" font-size="10.50" text-anchor="start" textLength="77.97" lengthAdjust="spacingAndGlyphs" fill="#000" >RMSE = 0.0223</text><text x="160.25" y="806.50" font-size="12.25" text-anchor="start" textLength="43.67" lengthAdjust="spacingAndGlyphs" fill="#000" >Layer 5</text><rect x="37.30" y="689.50" width="181.10" height="146.60" fill="none" stroke="#000" stroke-width="0.8"/><clipPath id="clip14"><rect x="267.60" y="689.50" width="181.10" height="146.60"/></clipPath><g clip-path="url(#clip14)"><path d="M268.40,835.50 C269.45,830.97 269.53,831.23 271.90,820.40 C274.27,809.57 273.69,812.54 276.30,799.40 C278.91,786.26 277.99,789.74 280.60,776.60 C283.21,763.46 282.78,763.49 285.00,755.60 C287.22,747.71 286.05,750.84 288.00,750.30 C289.95,749.76 289.28,751.73 291.50,753.80 C293.72,755.87 293.15,757.74 295.40,757.20 C297.65,756.66 297.02,754.07 299.00,752.00 C300.98,749.93 299.15,752.37 302.00,750.30 C304.85,748.23 305.59,745.61 308.50,745.10 C311.41,744.59 309.84,746.08 311.70,748.60 C313.56,751.12 312.33,754.82 314.70,753.50 C317.07,752.18 317.08,748.58 319.60,744.20 C322.12,739.82 320.49,741.54 323.10,738.90 C325.71,736.26 325.15,738.82 328.30,735.40 C331.45,731.98 330.69,732.60 333.60,727.50 C336.51,722.40 335.39,719.45 338.00,718.40 C340.61,717.35 339.42,719.41 342.30,724.00 C345.18,728.59 345.08,731.18 347.60,733.70 C350.12,736.22 348.87,731.62 350.70,732.40 C352.53,733.18 351.48,731.98 353.70,736.30 C355.92,740.62 355.91,737.35 358.10,746.80 C360.29,756.25 359.32,754.66 361.00,767.80 C362.68,780.94 361.84,775.87 363.70,790.60 C365.56,805.33 365.01,806.04 367.20,816.90 C369.39,827.76 368.75,824.88 371.00,826.80 C373.25,828.72 372.15,825.55 374.70,823.30 C377.25,821.05 376.92,818.79 379.50,819.30 C382.08,819.81 381.26,821.64 383.30,825.00 C385.34,828.36 384.59,827.92 386.30,830.50 C388.01,833.08 387.29,832.37 389.00,833.60 C390.71,834.83 389.60,834.18 392.00,834.60 C394.40,835.02 393.70,834.64 397.00,835.00 C400.30,835.36 401.20,835.56 403.00,835.80 L403.00,836.10 L268.40,836.10 Z" fill="#6495ed" fill-opacity="0.25" stroke="none"/><path d="M268.40,835.50 C269.45,830.97 269.53,831.23 271.90,820.40 C274.27,809.57 273.69,812.54 276.30,799.40 C278.91,786.26 277.99,789.74 280.60,776.60 C283.21,763.46 282.78,763.49 285.00,755.60 C287.22,747.71 286.05,750.84 288.00,750.30 C289.95,749.76 289.28,751.73 291.50,753.80 C293.72,755.87 293.15,757.74 295.40,757.20 C297.65,756.66 297.02,754.07 299.00,752.00 C300.98,749.93 299.15,752.37 302.00,750.30 C304.85,748.23 305.59,745.61 308.50,745.10 C311.41,744.59 309.84,746.08 311.70,748.60 C313.56,751.12 312.33,754.82 314.70,753.50 C317.07,752.18 317.08,748.58 319.60,744.20 C322.12,739.82 320.49,741.54 323.10,738.90 C325.71,736.26 325.15,738.82 328.30,735.40 C331.45,731.98 330.69,732.60 333.60,727.50 C336.51,722.40 335.39,719.45 338.00,718.40 C340.61,717.35 339.42,719.41 342.30,724.00 C345.18,728.59 345.08,731.18 347.60,733.70 C350.12,736.22 348.87,731.62 350.70,732.40 C352.53,733.18 351.48,731.98 353.70,736.30 C355.92,740.62 355.91,737.35 358.10,746.80 C360.29,756.25 359.32,754.66 361.00,767.80 C362.68,780.94 361.84,775.87 363.70,790.60 C365.56,805.33 365.01,806.04 367.20,816.90 C369.39,827.76 368.75,824.88 371.00,826.80 C373.25,828.72 372.15,825.55 374.70,823.30 C377.25,821.05 376.92,818.79 379.50,819.30 C382.08,819.81 381.26,821.64 383.30,825.00 C385.34,828.36 384.59,827.92 386.30,830.50 C388.01,833.08 387.29,832.37 389.00,833.60 C390.71,834.83 389.60,834.18 392.00,834.60 C394.40,835.02 393.70,834.64 397.00,835.00 C400.30,835.36 401.20,835.56 403.00,835.80" fill="none" stroke="#6495ed" stroke-width="0.85"/><path d="M267.90,834.40 C268.95,830.20 269.03,830.90 271.40,820.40 C273.77,809.90 273.19,812.54 275.80,799.40 C278.41,786.26 277.49,789.74 280.10,776.60 C282.71,763.46 282.22,763.37 284.50,755.60 C286.78,747.83 285.60,751.24 287.70,750.70 C289.80,750.16 289.19,751.70 291.50,753.80 C293.81,755.90 293.03,757.97 295.40,757.70 C297.77,757.43 296.88,755.39 299.40,752.90 C301.92,750.41 301.07,751.74 303.80,749.40 C306.53,747.06 306.13,745.34 308.50,745.10 C310.87,744.86 309.84,746.08 311.70,748.60 C313.56,751.12 312.87,753.26 314.70,753.50 C316.53,753.74 315.82,752.46 317.80,749.40 C319.78,746.34 318.66,746.18 321.30,743.30 C323.94,740.42 323.45,742.95 326.60,739.80 C329.75,736.65 329.19,737.00 331.80,732.80 C334.41,728.60 333.29,729.22 335.30,725.80 C337.31,722.38 336.40,721.13 338.50,721.40 C340.60,721.67 339.57,722.65 342.30,726.70 C345.03,730.75 344.69,732.02 347.60,734.90 C350.51,737.78 349.63,734.29 352.00,736.30 C354.37,738.31 353.40,737.40 355.50,741.60 C357.60,745.80 357.17,742.44 359.00,750.30 C360.83,758.16 360.04,755.71 361.60,767.80 C363.16,779.89 362.37,775.87 364.20,790.60 C366.03,805.33 365.60,806.13 367.70,816.90 C369.80,827.67 369.10,824.67 371.20,826.50 C373.30,828.33 372.21,825.25 374.70,823.00 C377.19,820.75 376.86,818.61 379.50,819.00 C382.14,819.39 381.40,821.00 383.50,824.30 C385.60,827.60 384.85,827.33 386.50,830.00 C388.15,832.67 387.35,831.88 389.00,833.20 C390.65,834.52 389.60,833.92 392.00,834.40 C394.40,834.88 393.40,834.38 397.00,834.80 C400.60,835.22 401.90,835.50 404.00,835.80 L404.00,836.10 L267.90,836.10 Z" fill="#90ee90" fill-opacity="0.25" stroke="none"/><path d="M267.90,834.40 C268.95,830.20 269.03,830.90 271.40,820.40 C273.77,809.90 273.19,812.54 275.80,799.40 C278.41,786.26 277.49,789.74 280.10,776.60 C282.71,763.46 282.22,763.37 284.50,755.60 C286.78,747.83 285.60,751.24 287.70,750.70 C289.80,750.16 289.19,751.70 291.50,753.80 C293.81,755.90 293.03,757.97 295.40,757.70 C297.77,757.43 296.88,755.39 299.40,752.90 C301.92,750.41 301.07,751.74 303.80,749.40 C306.53,747.06 306.13,745.34 308.50,745.10 C310.87,744.86 309.84,746.08 311.70,748.60 C313.56,751.12 312.87,753.26 314.70,753.50 C316.53,753.74 315.82,752.46 317.80,749.40 C319.78,746.34 318.66,746.18 321.30,743.30 C323.94,740.42 323.45,742.95 326.60,739.80 C329.75,736.65 329.19,737.00 331.80,732.80 C334.41,728.60 333.29,729.22 335.30,725.80 C337.31,722.38 336.40,721.13 338.50,721.40 C340.60,721.67 339.57,722.65 342.30,726.70 C345.03,730.75 344.69,732.02 347.60,734.90 C350.51,737.78 349.63,734.29 352.00,736.30 C354.37,738.31 353.40,737.40 355.50,741.60 C357.60,745.80 357.17,742.44 359.00,750.30 C360.83,758.16 360.04,755.71 361.60,767.80 C363.16,779.89 362.37,775.87 364.20,790.60 C366.03,805.33 365.60,806.13 367.70,816.90 C369.80,827.67 369.10,824.67 371.20,826.50 C373.30,828.33 372.21,825.25 374.70,823.00 C377.19,820.75 376.86,818.61 379.50,819.00 C382.14,819.39 381.40,821.00 383.50,824.30 C385.60,827.60 384.85,827.33 386.50,830.00 C388.15,832.67 387.35,831.88 389.00,833.20 C390.65,834.52 389.60,833.92 392.00,834.40 C394.40,834.88 393.40,834.38 397.00,834.80 C400.60,835.22 401.90,835.50 404.00,835.80" fill="none" stroke="#90ee90" stroke-width="0.85"/></g><rect x="386.60" y="693.10" width="57.9" height="26.6" rx="1.8" fill="#fff" fill-opacity="0.8" stroke="#d6d6d6" stroke-width="0.8"/><rect x="389.6" y="697.30" width="16.8" height="6.2" fill="#90ee90" fill-opacity="0.25" stroke="#90ee90" stroke-width="0.8"/><rect x="389.6" y="708.90" width="16.8" height="6.2" fill="#6495ed" fill-opacity="0.25" stroke="#6495ed" stroke-width="0.8"/><text x="412.20" y="703.10" font-size="8.82" text-anchor="start" textLength="25.80" lengthAdjust="spacingAndGlyphs" fill="#000" >In situ</text><text x="412.30" y="715.00" font-size="8.82" text-anchor="start" textLength="29.08" lengthAdjust="spacingAndGlyphs" fill="#000" >SMRFR</text><rect x="267.60" y="689.50" width="181.10" height="146.60" fill="none" stroke="#000" stroke-width="0.8"/><clipPath id="clip24"><rect x="497.90" y="689.50" width="181.10" height="146.60"/></clipPath><g clip-path="url(#clip24)"><line x1="520.54" y1="731.90" x2="520.54" y2="825.70" stroke="#656565" stroke-width="1.4"/><path d="M520.54,746.80 C520.42,748.67 520.35,750.73 520.09,753.80 C519.82,756.87 520.48,755.02 519.54,758.30 C518.59,761.58 517.95,762.15 516.54,766.10 C515.12,770.05 515.17,769.37 514.24,773.10 C513.30,776.83 514.08,776.37 513.04,780.10 C512.00,783.83 512.20,783.82 510.34,787.10 C508.47,790.38 507.42,789.60 506.04,792.40 C504.65,795.20 505.94,794.35 505.14,797.60 C504.34,800.85 503.04,801.32 503.04,804.60 C503.04,807.88 502.71,807.10 505.14,809.90 C507.56,812.70 508.40,812.30 512.14,815.10 C515.87,817.90 517.14,819.23 519.14,820.40 C521.14,821.57 519.26,819.07 519.64,819.50 C520.01,819.93 520.30,821.33 520.54,822.00 L520.54,822.00 L520.54,746.80 Z" fill="#a6e1a6" stroke="#656565" stroke-width="1.2" stroke-linejoin="round"/><path d="M520.54,748.50 C520.66,750.37 520.72,752.43 520.99,755.50 C521.25,758.57 520.40,756.72 521.54,760.00 C522.67,763.28 523.64,763.85 525.24,767.80 C526.84,771.75 526.60,771.04 527.54,774.80 C528.47,778.56 527.70,778.14 528.74,781.90 C529.78,785.66 529.33,785.65 531.44,788.90 C533.54,792.15 535.70,791.30 536.64,794.10 C537.57,796.90 534.46,796.12 534.94,799.40 C535.42,802.68 538.22,803.15 538.44,806.40 C538.65,809.65 538.78,808.80 535.74,811.60 C532.70,814.40 530.77,814.55 527.04,816.90 C523.30,819.25 523.23,819.71 521.74,820.40 C520.24,821.09 521.76,819.07 521.44,819.50 C521.12,819.93 520.78,821.33 520.54,822.00 L520.54,822.00 L520.54,748.50 Z" fill="#7f9fd7" stroke="#656565" stroke-width="1.2" stroke-linejoin="round"/><line x1="511.15" y1="785.00" x2="520.54" y2="785.00" stroke="#656565" stroke-width="1.2" stroke-dasharray="2.6 2.6"/><line x1="505.38" y1="796.20" x2="520.54" y2="796.20" stroke="#656565" stroke-width="1.2" stroke-dasharray="5.3 5.3"/><line x1="503.59" y1="806.00" x2="520.54" y2="806.00" stroke="#656565" stroke-width="1.2" stroke-dasharray="2.6 2.6"/><line x1="520.54" y1="785.00" x2="529.93" y2="785.00" stroke="#656565" stroke-width="1.2" stroke-dasharray="2.6 2.6"/><line x1="520.54" y1="796.20" x2="535.96" y2="796.20" stroke="#656565" stroke-width="1.2" stroke-dasharray="5.3 5.3"/><line x1="520.54" y1="805.50" x2="537.99" y2="805.50" stroke="#656565" stroke-width="1.2" stroke-dasharray="2.6 2.6"/><line x1="565.81" y1="739.80" x2="565.81" y2="829.20" stroke="#656565" stroke-width="1.4"/><path d="M565.81,735.40 C565.69,737.27 565.63,739.33 565.36,742.40 C565.10,745.47 566.43,743.38 564.81,746.90 C563.20,750.42 561.95,751.41 559.31,755.60 C556.67,759.79 556.54,758.87 554.91,762.60 C553.29,766.33 553.21,765.87 553.21,769.60 C553.21,773.33 554.22,772.87 554.91,776.60 C555.61,780.33 554.16,779.87 555.81,783.60 C557.47,787.33 559.01,786.87 561.11,790.60 C563.22,794.33 564.19,794.32 563.71,797.60 C563.23,800.88 562.59,800.10 559.31,802.90 C556.03,805.70 553.97,805.30 551.41,808.10 C548.85,810.90 547.61,810.60 549.71,813.40 C551.82,816.20 555.34,816.28 559.31,818.60 C563.29,820.92 563.12,821.33 564.61,822.10 C566.11,822.87 564.59,820.99 564.91,821.50 C565.23,822.01 565.57,823.33 565.81,824.00 L565.81,824.00 L565.81,735.40 Z" fill="#a6e1a6" stroke="#656565" stroke-width="1.2" stroke-linejoin="round"/><path d="M565.81,735.40 C565.93,737.27 566.00,739.33 566.26,742.40 C566.53,745.47 565.12,743.38 566.81,746.90 C568.51,750.42 569.81,751.41 572.61,755.60 C575.41,759.79 575.45,758.87 577.31,762.60 C579.18,766.33 580.17,765.87 579.61,769.60 C579.05,773.33 576.15,772.87 575.21,776.60 C574.28,780.33 576.81,779.87 576.11,783.60 C575.42,787.33 574.51,786.87 572.61,790.60 C570.72,794.33 569.28,794.32 569.01,797.60 C568.75,800.88 569.05,800.10 571.61,802.90 C574.17,805.70 575.33,805.78 578.61,808.10 C581.89,810.42 583.46,809.73 583.91,811.60 C584.37,813.47 584.07,812.99 580.31,815.10 C576.55,817.21 573.44,817.79 569.81,819.50 C566.19,821.21 567.78,820.30 566.71,821.50 C565.65,822.70 566.05,823.33 565.81,824.00 L565.81,824.00 L565.81,735.40 Z" fill="#7f9fd7" stroke="#656565" stroke-width="1.2" stroke-linejoin="round"/><line x1="553.43" y1="768.70" x2="565.81" y2="768.70" stroke="#656565" stroke-width="1.2" stroke-dasharray="2.6 2.6"/><line x1="556.49" y1="784.50" x2="565.81" y2="784.50" stroke="#656565" stroke-width="1.2" stroke-dasharray="5.3 5.3"/><line x1="550.84" y1="809.90" x2="565.81" y2="809.90" stroke="#656565" stroke-width="1.2" stroke-dasharray="2.6 2.6"/><line x1="565.81" y1="768.70" x2="579.32" y2="768.70" stroke="#656565" stroke-width="1.2" stroke-dasharray="2.6 2.6"/><line x1="565.81" y1="784.50" x2="575.66" y2="784.50" stroke="#656565" stroke-width="1.2" stroke-dasharray="5.3 5.3"/><line x1="565.81" y1="809.50" x2="580.73" y2="809.50" stroke="#656565" stroke-width="1.2" stroke-dasharray="2.6 2.6"/><line x1="611.09" y1="695.70" x2="611.09" y2="825.40" stroke="#656565" stroke-width="1.4"/><path d="M611.09,723.00 C610.97,724.87 610.90,726.93 610.64,730.00 C610.37,733.07 610.63,731.57 610.09,734.50 C609.54,737.43 609.23,738.07 608.59,741.00 C607.95,743.93 607.61,743.23 607.69,745.50 C607.77,747.77 608.65,747.74 608.89,749.50 C609.13,751.26 611.33,750.29 608.59,752.10 C605.84,753.91 602.61,754.06 598.59,756.30 C594.56,758.54 594.39,757.81 593.49,760.50 C592.58,763.19 594.52,763.01 595.19,766.40 C595.85,769.79 595.11,769.60 595.99,773.20 C596.87,776.80 596.70,775.42 598.49,779.90 C600.27,784.38 600.87,784.61 602.69,790.00 C604.50,795.39 603.71,794.71 605.29,800.10 C606.86,805.49 607.12,804.81 608.59,810.20 C610.05,815.59 610.36,818.09 610.79,820.30 C611.21,822.51 610.11,818.31 610.19,818.50 C610.27,818.69 610.85,820.33 611.09,821.00 L611.09,821.00 L611.09,723.00 Z" fill="#a6e1a6" stroke="#656565" stroke-width="1.2" stroke-linejoin="round"/><path d="M611.09,723.00 C611.21,724.87 611.27,726.93 611.54,730.00 C611.80,733.07 611.54,731.57 612.09,734.50 C612.63,737.43 612.95,738.07 613.59,741.00 C614.23,743.93 614.57,743.23 614.49,745.50 C614.41,747.77 613.53,747.74 613.29,749.50 C613.05,751.26 611.24,750.29 613.59,752.10 C615.93,753.91 618.03,754.06 622.09,756.30 C626.14,758.54 627.45,757.81 628.79,760.50 C630.12,763.19 627.30,763.01 627.09,766.40 C626.87,769.79 628.41,769.60 627.99,773.20 C627.56,776.80 627.51,775.42 625.49,779.90 C623.46,784.38 622.65,784.61 620.39,790.00 C618.12,795.39 618.77,794.71 616.99,800.10 C615.20,805.49 615.18,804.81 613.69,810.20 C612.19,815.59 611.84,818.09 611.39,820.30 C610.93,822.51 612.07,818.31 611.99,818.50 C611.91,818.69 611.33,820.33 611.09,821.00 L611.09,821.00 L611.09,723.00 Z" fill="#7f9fd7" stroke="#656565" stroke-width="1.2" stroke-linejoin="round"/><line x1="594.21" y1="763.00" x2="611.09" y2="763.00" stroke="#656565" stroke-width="1.2" stroke-dasharray="2.6 2.6"/><line x1="595.99" y1="773.20" x2="611.09" y2="773.20" stroke="#656565" stroke-width="1.2" stroke-dasharray="5.3 5.3"/><line x1="601.07" y1="786.10" x2="611.09" y2="786.10" stroke="#656565" stroke-width="1.2" stroke-dasharray="2.6 2.6"/><line x1="611.09" y1="763.00" x2="628.07" y2="763.00" stroke="#656565" stroke-width="1.2" stroke-dasharray="2.6 2.6"/><line x1="611.09" y1="773.20" x2="627.99" y2="773.20" stroke="#656565" stroke-width="1.2" stroke-dasharray="5.3 5.3"/><line x1="611.09" y1="785.30" x2="622.76" y2="785.30" stroke="#656565" stroke-width="1.2" stroke-dasharray="2.6 2.6"/><line x1="656.36" y1="722.70" x2="656.36" y2="827.00" stroke="#656565" stroke-width="1.4"/><path d="M656.36,729.00 C656.24,730.87 656.18,732.93 655.91,736.00 C655.65,739.07 655.72,737.57 655.36,740.50 C655.00,743.43 655.63,743.93 654.56,747.00 C653.50,750.07 653.18,749.33 651.36,752.00 C649.55,754.67 649.74,754.33 647.76,757.00 C645.79,759.67 645.64,759.04 643.96,762.00 C642.28,764.96 642.82,764.23 641.46,768.10 C640.10,771.97 638.86,771.99 638.86,776.50 C638.86,781.01 641.22,780.49 641.46,785.00 C641.70,789.51 639.76,789.37 639.76,793.40 C639.76,797.43 640.80,796.53 641.46,800.10 C642.13,803.67 641.84,803.20 642.26,806.80 C642.69,810.40 640.82,810.00 643.06,813.60 C645.30,817.20 647.36,818.06 650.66,820.30 C653.97,822.54 653.94,820.88 655.46,822.00 C656.98,823.12 656.12,823.83 656.36,824.50 L656.36,824.50 L656.36,729.00 Z" fill="#a6e1a6" stroke="#656565" stroke-width="1.2" stroke-linejoin="round"/><path d="M656.36,729.00 C656.48,730.87 656.55,732.93 656.81,736.00 C657.08,739.07 656.95,737.57 657.36,740.50 C657.78,743.43 657.14,743.93 658.36,747.00 C659.59,750.07 659.94,749.33 661.96,752.00 C663.99,754.67 663.94,754.33 665.96,757.00 C667.99,759.67 668.02,759.04 669.56,762.00 C671.11,764.96 670.51,764.23 671.76,768.10 C673.02,771.97 674.26,771.99 674.26,776.50 C674.26,781.01 671.98,780.49 671.76,785.00 C671.55,789.51 673.68,789.37 673.46,793.40 C673.25,797.43 671.42,796.53 670.96,800.10 C670.51,803.67 671.76,803.20 671.76,806.80 C671.76,810.40 672.99,810.00 670.96,813.60 C668.94,817.20 667.82,818.06 664.16,820.30 C660.51,822.54 659.34,820.88 657.26,822.00 C655.18,823.12 656.60,823.83 656.36,824.50 L656.36,824.50 L656.36,729.00 Z" fill="#7f9fd7" stroke="#656565" stroke-width="1.2" stroke-linejoin="round"/><line x1="639.79" y1="773.50" x2="656.36" y2="773.50" stroke="#656565" stroke-width="1.2" stroke-dasharray="2.6 2.6"/><line x1="640.86" y1="788.00" x2="656.36" y2="788.00" stroke="#656565" stroke-width="1.2" stroke-dasharray="5.3 5.3"/><line x1="641.81" y1="803.00" x2="656.36" y2="803.00" stroke="#656565" stroke-width="1.2" stroke-dasharray="2.6 2.6"/><line x1="656.36" y1="774.00" x2="673.52" y2="774.00" stroke="#656565" stroke-width="1.2" stroke-dasharray="2.6 2.6"/><line x1="656.36" y1="787.50" x2="672.27" y2="787.50" stroke="#656565" stroke-width="1.2" stroke-dasharray="5.3 5.3"/><line x1="656.36" y1="802.60" x2="671.26" y2="802.60" stroke="#656565" stroke-width="1.2" stroke-dasharray="2.6 2.6"/></g><rect x="616.60" y="693.40" width="58" height="26.1" rx="1.8" fill="#fff" fill-opacity="0.8" stroke="#d6d6d6" stroke-width="0.8"/><rect x="619.9" y="697.10" width="16.8" height="6.2" fill="#a6e1a6" stroke="#656565" stroke-width="0.8"/><rect x="619.9" y="708.90" width="16.8" height="6.2" fill="#7f9fd7" stroke="#656565" stroke-width="0.8"/><text x="642.40" y="703.10" font-size="8.82" text-anchor="start" textLength="25.80" lengthAdjust="spacingAndGlyphs" fill="#000" >In situ</text><text x="642.50" y="715.00" font-size="8.82" text-anchor="start" textLength="29.08" lengthAdjust="spacingAndGlyphs" fill="#000" >SMRFR</text><line x1="494.50" y1="823.50" x2="497.90" y2="823.50" stroke="#000" stroke-width="0.8"/><text x="492.00" y="826.90" font-size="9.4" text-anchor="end" fill="#000" >0.0</text><line x1="494.50" y1="791.92" x2="497.90" y2="791.92" stroke="#000" stroke-width="0.8"/><text x="492.00" y="795.32" font-size="9.4" text-anchor="end" fill="#000" >0.2</text><line x1="494.50" y1="760.34" x2="497.90" y2="760.34" stroke="#000" stroke-width="0.8"/><text x="492.00" y="763.74" font-size="9.4" text-anchor="end" fill="#000" >0.4</text><line x1="494.50" y1="728.76" x2="497.90" y2="728.76" stroke="#000" stroke-width="0.8"/><text x="492.00" y="732.16" font-size="9.4" text-anchor="end" fill="#000" >0.6</text><line x1="494.50" y1="697.18" x2="497.90" y2="697.18" stroke="#000" stroke-width="0.8"/><text x="492.00" y="700.58" font-size="9.4" text-anchor="end" fill="#000" >0.8</text><line x1="520.54" y1="836.10" x2="520.54" y2="839.50" stroke="#000" stroke-width="0.8"/><g transform="translate(511.76,852.50) rotate(-10)"><text x="0.00" y="0.00" font-size="10.14" text-anchor="start" textLength="18.67" lengthAdjust="spacingAndGlyphs" fill="#000" >Arid</text></g><line x1="565.81" y1="836.10" x2="565.81" y2="839.50" stroke="#000" stroke-width="0.8"/><g transform="translate(547.98,855.70) rotate(-10)"><text x="0.00" y="0.00" font-size="10.14" text-anchor="start" textLength="37.08" lengthAdjust="spacingAndGlyphs" fill="#000" >Tropical</text></g><line x1="611.09" y1="836.10" x2="611.09" y2="839.50" stroke="#000" stroke-width="0.8"/><g transform="translate(586.41,858.11) rotate(-10)"><text x="0.00" y="0.00" font-size="10.14" text-anchor="start" textLength="50.98" lengthAdjust="spacingAndGlyphs" fill="#000" >Temperate</text></g><line x1="656.36" y1="836.10" x2="656.36" y2="839.50" stroke="#000" stroke-width="0.8"/><g transform="translate(630.32,858.59) rotate(-10)"><text x="0.00" y="0.00" font-size="10.14" text-anchor="start" textLength="53.75" lengthAdjust="spacingAndGlyphs" fill="#000" >Continental</text></g><rect x="497.90" y="689.50" width="181.10" height="146.60" fill="none" stroke="#000" stroke-width="0.8"/><line x1="37.30" y1="836.10" x2="37.30" y2="839.50" stroke="#000" stroke-width="0.8"/><text x="37.30" y="848.40" font-size="9.4" text-anchor="middle" fill="#000" >0.0</text><line x1="82.57" y1="836.10" x2="82.57" y2="839.50" stroke="#000" stroke-width="0.8"/><text x="82.57" y="848.40" font-size="9.4" text-anchor="middle" fill="#000" >0.2</text><line x1="127.85" y1="836.10" x2="127.85" y2="839.50" stroke="#000" stroke-width="0.8"/><text x="127.85" y="848.40" font-size="9.4" text-anchor="middle" fill="#000" >0.4</text><line x1="173.12" y1="836.10" x2="173.12" y2="839.50" stroke="#000" stroke-width="0.8"/><text x="173.12" y="848.40" font-size="9.4" text-anchor="middle" fill="#000" >0.6</text><line x1="218.40" y1="836.10" x2="218.40" y2="839.50" stroke="#000" stroke-width="0.8"/><text x="218.40" y="848.40" font-size="9.4" text-anchor="middle" fill="#000" >0.8</text><line x1="33.90" y1="836.10" x2="37.30" y2="836.10" stroke="#000" stroke-width="0.8"/><text x="31.40" y="839.50" font-size="9.4" text-anchor="end" fill="#000" >0.0</text><line x1="33.90" y1="799.45" x2="37.30" y2="799.45" stroke="#000" stroke-width="0.8"/><text x="31.40" y="802.85" font-size="9.4" text-anchor="end" fill="#000" >0.2</text><line x1="33.90" y1="762.80" x2="37.30" y2="762.80" stroke="#000" stroke-width="0.8"/><text x="31.40" y="766.20" font-size="9.4" text-anchor="end" fill="#000" >0.4</text><line x1="33.90" y1="726.15" x2="37.30" y2="726.15" stroke="#000" stroke-width="0.8"/><text x="31.40" y="729.55" font-size="9.4" text-anchor="end" fill="#000" >0.6</text><line x1="33.90" y1="689.50" x2="37.30" y2="689.50" stroke="#000" stroke-width="0.8"/><text x="31.40" y="692.90" font-size="9.4" text-anchor="end" fill="#000" >0.8</text><line x1="267.60" y1="836.10" x2="267.60" y2="839.50" stroke="#000" stroke-width="0.8"/><text x="267.60" y="848.40" font-size="9.4" text-anchor="middle" fill="#000" >0.0</text><line x1="312.88" y1="836.10" x2="312.88" y2="839.50" stroke="#000" stroke-width="0.8"/><text x="312.88" y="848.40" font-size="9.4" text-anchor="middle" fill="#000" >0.2</text><line x1="358.15" y1="836.10" x2="358.15" y2="839.50" stroke="#000" stroke-width="0.8"/><text x="358.15" y="848.40" font-size="9.4" text-anchor="middle" fill="#000" >0.4</text><line x1="403.43" y1="836.10" x2="403.43" y2="839.50" stroke="#000" stroke-width="0.8"/><text x="403.43" y="848.40" font-size="9.4" text-anchor="middle" fill="#000" >0.6</text><line x1="448.70" y1="836.10" x2="448.70" y2="839.50" stroke="#000" stroke-width="0.8"/><text x="448.70" y="848.40" font-size="9.4" text-anchor="middle" fill="#000" >0.8</text><line x1="264.20" y1="836.10" x2="267.60" y2="836.10" stroke="#000" stroke-width="0.8"/><text x="261.70" y="839.50" font-size="9.4" text-anchor="end" fill="#000" >0.0</text><line x1="264.20" y1="799.45" x2="267.60" y2="799.45" stroke="#000" stroke-width="0.8"/><text x="261.70" y="802.85" font-size="9.4" text-anchor="end" fill="#000" >0.5</text><line x1="264.20" y1="762.80" x2="267.60" y2="762.80" stroke="#000" stroke-width="0.8"/><text x="261.70" y="766.20" font-size="9.4" text-anchor="end" fill="#000" >1.0</text><line x1="264.20" y1="726.15" x2="267.60" y2="726.15" stroke="#000" stroke-width="0.8"/><text x="261.70" y="729.55" font-size="9.4" text-anchor="end" fill="#000" >1.5</text><line x1="264.20" y1="689.50" x2="267.60" y2="689.50" stroke="#000" stroke-width="0.8"/><text x="261.70" y="692.90" font-size="9.4" text-anchor="end" fill="#000" >2.0</text><text x="127.85" y="10.60" font-size="11.67" text-anchor="middle" textLength="86.82" lengthAdjust="spacingAndGlyphs" fill="#000" >(a) scatter plot</text><text x="358.15" y="10.60" font-size="11.67" text-anchor="middle" textLength="155.31" lengthAdjust="spacingAndGlyphs" fill="#000" >(b) frequency distributions</text><text x="588.45" y="10.60" font-size="11.67" text-anchor="middle" textLength="76.48" lengthAdjust="spacingAndGlyphs" fill="#000" >(c) violin plot</text><text transform="translate(11.80,425.65) rotate(-90)" x="0" y="0" font-size="12.37" text-anchor="middle" textLength="112.90" lengthAdjust="spacingAndGlyphs">SMRFR SM [<tspan font-style="italic">m</tspan><tspan dy="-4.4" font-size="8.66">3</tspan><tspan dy="4.4" font-style="italic">m</tspan><tspan dy="-4.4" font-size="8.66">−3</tspan><tspan dy="4.4">]</tspan></text><text transform="translate(243.10,425.90) rotate(-90)" x="0" y="0" font-size="12.37" text-anchor="middle" textLength="59.40" lengthAdjust="spacingAndGlyphs">Density [-]</text><text transform="translate(473.20,425.30) rotate(-90)" x="0" y="0" font-size="12.37" text-anchor="middle" textLength="69.40" lengthAdjust="spacingAndGlyphs">SM [<tspan font-style="italic">m</tspan><tspan dy="-4.4" font-size="8.66">3</tspan><tspan dy="4.4" font-style="italic">m</tspan><tspan dy="-4.4" font-size="8.66">−3</tspan><tspan dy="4.4">]</tspan></text><text x="127.95" y="862.90" font-size="12.37" text-anchor="middle" textLength="108.10" lengthAdjust="spacingAndGlyphs">In situ SM [<tspan font-style="italic">m</tspan><tspan dy="-4.4" font-size="8.66">3</tspan><tspan dy="4.4" font-style="italic">m</tspan><tspan dy="-4.4" font-size="8.66">−3</tspan><tspan dy="4.4">]</tspan></text><text x="358.60" y="862.90" font-size="12.37" text-anchor="middle" textLength="70.80" lengthAdjust="spacingAndGlyphs">SM [<tspan font-style="italic">m</tspan><tspan dy="-4.4" font-size="8.66">3</tspan><tspan dy="4.4" font-style="italic">m</tspan><tspan dy="-4.4" font-size="8.66">−3</tspan><tspan dy="4.4">]</tspan></text><text x="588.20" y="874.70" font-size="12.37" text-anchor="middle" textLength="72.40" lengthAdjust="spacingAndGlyphs">Climate type</text>
</svg></body></html>
